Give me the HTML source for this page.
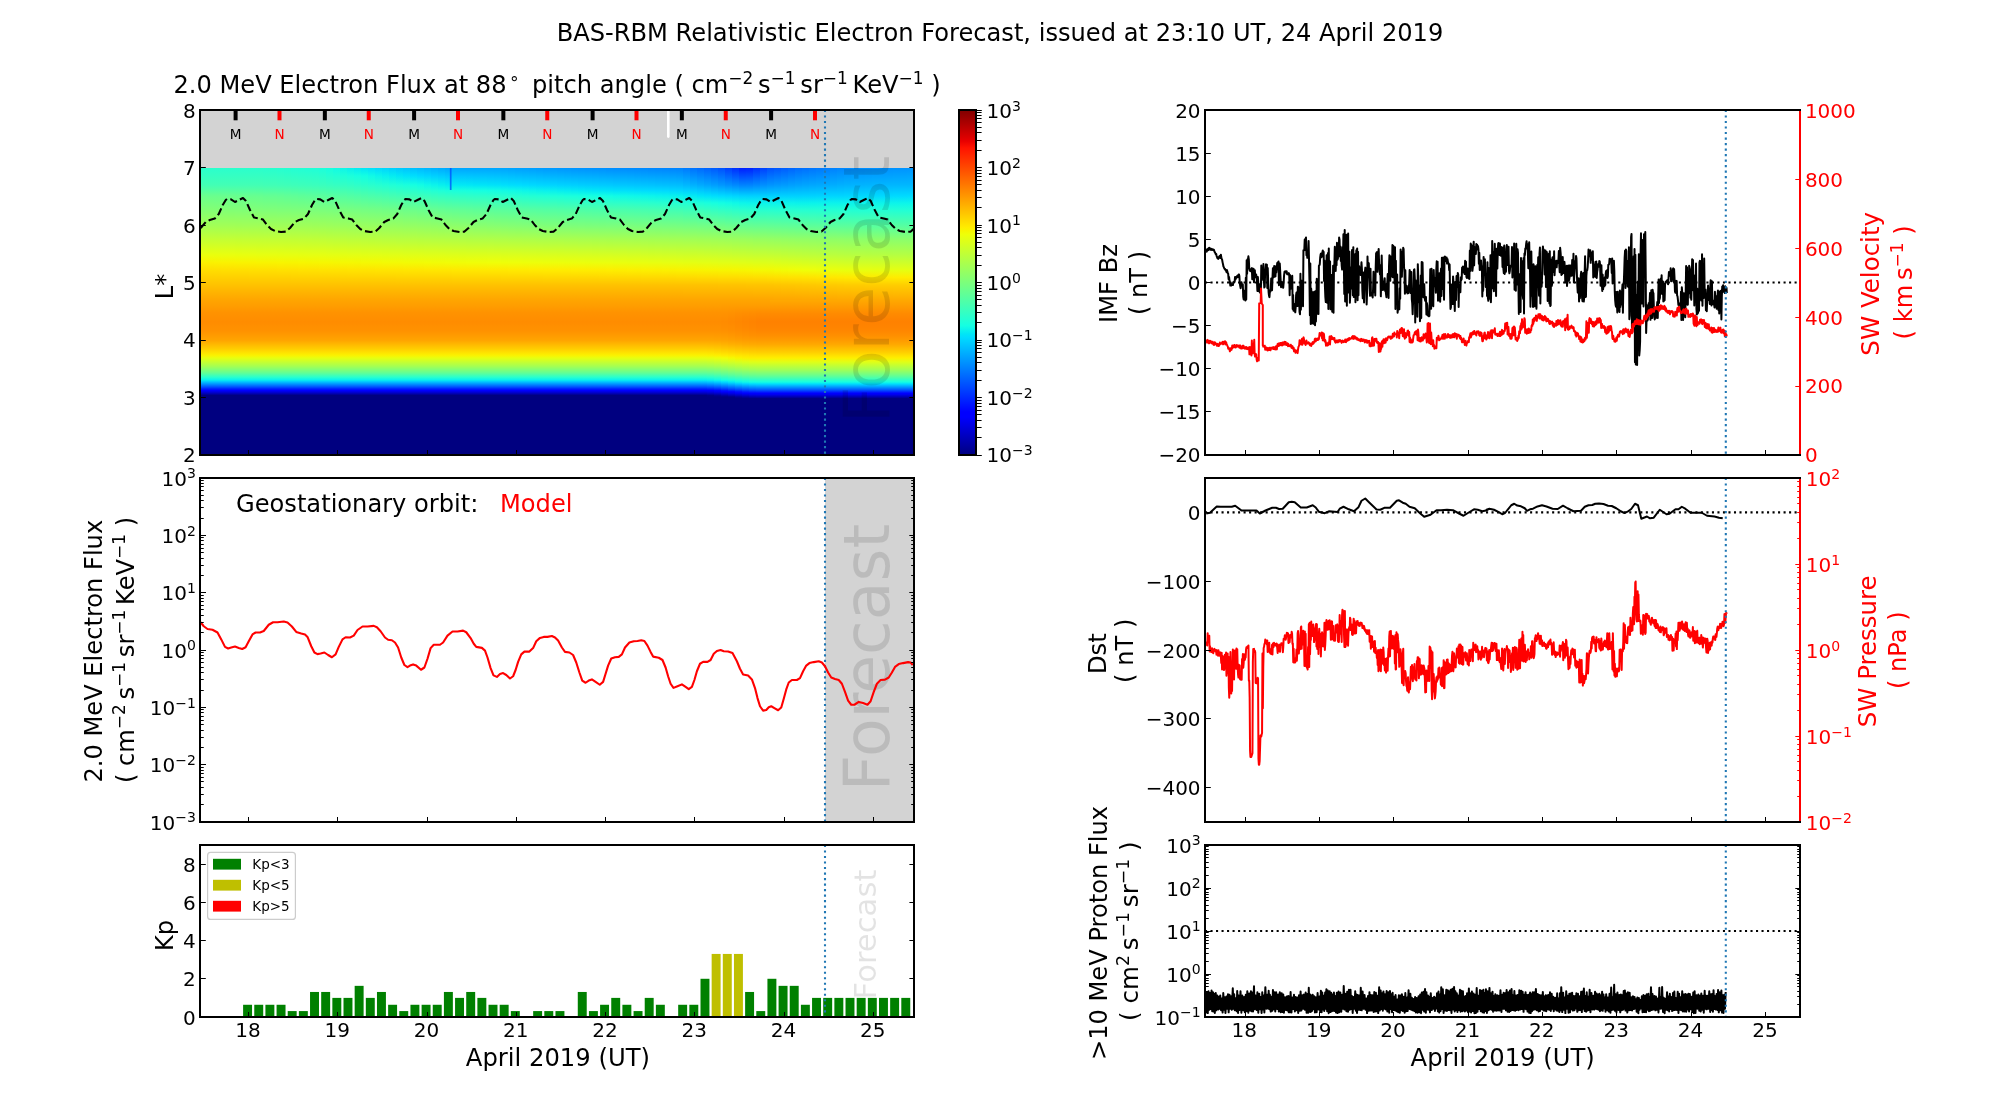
<!DOCTYPE html>
<html lang="en"><head><meta charset="utf-8"><title>BAS-RBM Relativistic Electron Forecast</title>
<style>html,body{margin:0;padding:0;background:#fff}body{width:2000px;height:1100px;overflow:hidden}svg{display:block;will-change:transform}text{font-family:'DejaVu Sans','Liberation Sans',sans-serif}</style>
</head><body>
<svg width="2000" height="1100" viewBox="0 0 2000 1100">
<rect width="2000" height="1100" fill="#fff"/>
<text x="1000" y="41" font-size="24.15" text-anchor="middle" fill="#000">BAS-RBM Relativistic Electron Forecast, issued at 23:10 UT, 24 April 2019</text>
<rect x="200" y="110" width="714" height="345" fill="#d3d3d3"/>
<defs>
<linearGradient id="cb" x1="0" y1="1" x2="0" y2="0"><stop offset="0" stop-color="#000080"/><stop offset="0.11" stop-color="#0000ff"/><stop offset="0.125" stop-color="#0000ff"/><stop offset="0.34" stop-color="#00dbff"/><stop offset="0.35" stop-color="#00e5f7"/><stop offset="0.375" stop-color="#15ffe2"/><stop offset="0.64" stop-color="#efff08"/><stop offset="0.65" stop-color="#f7f600"/><stop offset="0.66" stop-color="#ffec00"/><stop offset="0.89" stop-color="#ff1300"/><stop offset="0.91" stop-color="#e80000"/><stop offset="1" stop-color="#800000"/></linearGradient>
<linearGradient id="u0" x1="0" y1="0" x2="0" y2="1"><stop offset="0" stop-color="#29ffce"/><stop offset="0.064" stop-color="#35ffc2"/><stop offset="0.132" stop-color="#42ffb5"/><stop offset="0.174" stop-color="#56ffa1"/><stop offset="0.215" stop-color="#6bff8c"/><stop offset="0.268" stop-color="#77ff80"/><stop offset="0.321" stop-color="#83ff73"/><stop offset="0.377" stop-color="#92ff65"/><stop offset="0.434" stop-color="#a0ff56"/><stop offset="0.491" stop-color="#b3ff44"/><stop offset="0.547" stop-color="#c5ff31"/><stop offset="0.604" stop-color="#d8ff1f"/><stop offset="0.66" stop-color="#eaff0d"/><stop offset="0.717" stop-color="#fbf100"/><stop offset="0.774" stop-color="#ffde00"/><stop offset="0.83" stop-color="#ffd000"/><stop offset="0.887" stop-color="#ffc200"/><stop offset="0.943" stop-color="#ffb300"/><stop offset="1" stop-color="#ffa500"/></linearGradient>
<linearGradient id="u1" x1="0" y1="0" x2="0" y2="1"><stop offset="0" stop-color="#29ffce"/><stop offset="0.064" stop-color="#35ffc2"/><stop offset="0.132" stop-color="#42ffb5"/><stop offset="0.174" stop-color="#56ffa1"/><stop offset="0.215" stop-color="#6aff8d"/><stop offset="0.268" stop-color="#77ff80"/><stop offset="0.321" stop-color="#83ff74"/><stop offset="0.377" stop-color="#92ff65"/><stop offset="0.434" stop-color="#a0ff57"/><stop offset="0.491" stop-color="#b3ff44"/><stop offset="0.547" stop-color="#c5ff32"/><stop offset="0.604" stop-color="#d7ff1f"/><stop offset="0.66" stop-color="#eaff0d"/><stop offset="0.717" stop-color="#faf100"/><stop offset="0.774" stop-color="#ffde00"/><stop offset="0.83" stop-color="#ffd000"/><stop offset="0.887" stop-color="#ffc200"/><stop offset="0.943" stop-color="#ffb300"/><stop offset="1" stop-color="#ffa500"/></linearGradient>
<linearGradient id="u2" x1="0" y1="0" x2="0" y2="1"><stop offset="0" stop-color="#29ffce"/><stop offset="0.064" stop-color="#35ffc2"/><stop offset="0.132" stop-color="#42ffb5"/><stop offset="0.174" stop-color="#56ffa1"/><stop offset="0.215" stop-color="#6aff8d"/><stop offset="0.268" stop-color="#76ff81"/><stop offset="0.321" stop-color="#82ff74"/><stop offset="0.377" stop-color="#91ff66"/><stop offset="0.434" stop-color="#a0ff57"/><stop offset="0.491" stop-color="#b2ff44"/><stop offset="0.547" stop-color="#c5ff32"/><stop offset="0.604" stop-color="#d7ff20"/><stop offset="0.66" stop-color="#e9ff0d"/><stop offset="0.717" stop-color="#faf200"/><stop offset="0.774" stop-color="#ffde00"/><stop offset="0.83" stop-color="#ffd000"/><stop offset="0.887" stop-color="#ffc200"/><stop offset="0.943" stop-color="#ffb300"/><stop offset="1" stop-color="#ffa500"/></linearGradient>
<linearGradient id="u3" x1="0" y1="0" x2="0" y2="1"><stop offset="0" stop-color="#29ffce"/><stop offset="0.064" stop-color="#35ffc2"/><stop offset="0.132" stop-color="#42ffb5"/><stop offset="0.174" stop-color="#56ffa1"/><stop offset="0.215" stop-color="#69ff8e"/><stop offset="0.268" stop-color="#76ff81"/><stop offset="0.321" stop-color="#82ff75"/><stop offset="0.377" stop-color="#91ff66"/><stop offset="0.434" stop-color="#a0ff57"/><stop offset="0.491" stop-color="#b2ff45"/><stop offset="0.547" stop-color="#c5ff32"/><stop offset="0.604" stop-color="#d7ff20"/><stop offset="0.66" stop-color="#e9ff0e"/><stop offset="0.717" stop-color="#faf200"/><stop offset="0.774" stop-color="#ffdf00"/><stop offset="0.83" stop-color="#ffd000"/><stop offset="0.887" stop-color="#ffc200"/><stop offset="0.943" stop-color="#ffb300"/><stop offset="1" stop-color="#ffa500"/></linearGradient>
<linearGradient id="u4" x1="0" y1="0" x2="0" y2="1"><stop offset="0" stop-color="#29ffce"/><stop offset="0.064" stop-color="#35ffc2"/><stop offset="0.132" stop-color="#42ffb5"/><stop offset="0.174" stop-color="#55ffa1"/><stop offset="0.215" stop-color="#69ff8e"/><stop offset="0.268" stop-color="#75ff82"/><stop offset="0.321" stop-color="#81ff75"/><stop offset="0.377" stop-color="#90ff66"/><stop offset="0.434" stop-color="#a0ff57"/><stop offset="0.491" stop-color="#b2ff45"/><stop offset="0.547" stop-color="#c5ff32"/><stop offset="0.604" stop-color="#d7ff20"/><stop offset="0.66" stop-color="#e9ff0e"/><stop offset="0.717" stop-color="#faf200"/><stop offset="0.774" stop-color="#ffdf00"/><stop offset="0.83" stop-color="#ffd000"/><stop offset="0.887" stop-color="#ffc200"/><stop offset="0.943" stop-color="#ffb300"/><stop offset="1" stop-color="#ffa500"/></linearGradient>
<linearGradient id="u5" x1="0" y1="0" x2="0" y2="1"><stop offset="0" stop-color="#29ffce"/><stop offset="0.064" stop-color="#35ffc2"/><stop offset="0.132" stop-color="#42ffb5"/><stop offset="0.174" stop-color="#55ffa2"/><stop offset="0.215" stop-color="#68ff8e"/><stop offset="0.268" stop-color="#75ff82"/><stop offset="0.321" stop-color="#81ff76"/><stop offset="0.377" stop-color="#90ff67"/><stop offset="0.434" stop-color="#9fff57"/><stop offset="0.491" stop-color="#b2ff45"/><stop offset="0.547" stop-color="#c4ff32"/><stop offset="0.604" stop-color="#d6ff20"/><stop offset="0.66" stop-color="#e8ff0e"/><stop offset="0.717" stop-color="#f9f300"/><stop offset="0.774" stop-color="#ffdf00"/><stop offset="0.83" stop-color="#ffd000"/><stop offset="0.887" stop-color="#ffc200"/><stop offset="0.943" stop-color="#ffb300"/><stop offset="1" stop-color="#ffa500"/></linearGradient>
<linearGradient id="u6" x1="0" y1="0" x2="0" y2="1"><stop offset="0" stop-color="#29ffce"/><stop offset="0.064" stop-color="#35ffc2"/><stop offset="0.132" stop-color="#42ffb5"/><stop offset="0.174" stop-color="#55ffa2"/><stop offset="0.215" stop-color="#68ff8f"/><stop offset="0.268" stop-color="#74ff83"/><stop offset="0.321" stop-color="#80ff76"/><stop offset="0.377" stop-color="#90ff67"/><stop offset="0.434" stop-color="#9fff58"/><stop offset="0.491" stop-color="#b2ff45"/><stop offset="0.547" stop-color="#c4ff33"/><stop offset="0.604" stop-color="#d6ff21"/><stop offset="0.66" stop-color="#e8ff0f"/><stop offset="0.717" stop-color="#f9f300"/><stop offset="0.774" stop-color="#ffdf00"/><stop offset="0.83" stop-color="#ffd000"/><stop offset="0.887" stop-color="#ffc200"/><stop offset="0.943" stop-color="#ffb300"/><stop offset="1" stop-color="#ffa500"/></linearGradient>
<linearGradient id="u7" x1="0" y1="0" x2="0" y2="1"><stop offset="0" stop-color="#29ffce"/><stop offset="0.064" stop-color="#35ffc2"/><stop offset="0.132" stop-color="#42ffb5"/><stop offset="0.174" stop-color="#55ffa2"/><stop offset="0.215" stop-color="#67ff8f"/><stop offset="0.268" stop-color="#74ff83"/><stop offset="0.321" stop-color="#80ff77"/><stop offset="0.377" stop-color="#8fff67"/><stop offset="0.434" stop-color="#9fff58"/><stop offset="0.491" stop-color="#b1ff45"/><stop offset="0.547" stop-color="#c4ff33"/><stop offset="0.604" stop-color="#d6ff21"/><stop offset="0.66" stop-color="#e8ff0f"/><stop offset="0.717" stop-color="#f9f300"/><stop offset="0.774" stop-color="#ffe000"/><stop offset="0.83" stop-color="#ffd100"/><stop offset="0.887" stop-color="#ffc200"/><stop offset="0.943" stop-color="#ffb300"/><stop offset="1" stop-color="#ffa500"/></linearGradient>
<linearGradient id="u8" x1="0" y1="0" x2="0" y2="1"><stop offset="0" stop-color="#29ffce"/><stop offset="0.064" stop-color="#35ffc2"/><stop offset="0.132" stop-color="#42ffb5"/><stop offset="0.174" stop-color="#54ffa2"/><stop offset="0.215" stop-color="#67ff90"/><stop offset="0.268" stop-color="#73ff84"/><stop offset="0.321" stop-color="#80ff77"/><stop offset="0.377" stop-color="#8fff68"/><stop offset="0.434" stop-color="#9fff58"/><stop offset="0.491" stop-color="#b1ff45"/><stop offset="0.547" stop-color="#c4ff33"/><stop offset="0.604" stop-color="#d5ff21"/><stop offset="0.66" stop-color="#e7ff10"/><stop offset="0.717" stop-color="#f8f400"/><stop offset="0.774" stop-color="#ffe000"/><stop offset="0.83" stop-color="#ffd100"/><stop offset="0.887" stop-color="#ffc200"/><stop offset="0.943" stop-color="#ffb300"/><stop offset="1" stop-color="#ffa500"/></linearGradient>
<linearGradient id="u9" x1="0" y1="0" x2="0" y2="1"><stop offset="0" stop-color="#28ffcf"/><stop offset="0.064" stop-color="#34ffc3"/><stop offset="0.132" stop-color="#41ffb6"/><stop offset="0.174" stop-color="#53ffa4"/><stop offset="0.215" stop-color="#65ff91"/><stop offset="0.268" stop-color="#72ff85"/><stop offset="0.321" stop-color="#7fff78"/><stop offset="0.377" stop-color="#8fff68"/><stop offset="0.434" stop-color="#9eff58"/><stop offset="0.491" stop-color="#b1ff46"/><stop offset="0.547" stop-color="#c4ff33"/><stop offset="0.604" stop-color="#d5ff22"/><stop offset="0.66" stop-color="#e7ff10"/><stop offset="0.717" stop-color="#f8f400"/><stop offset="0.774" stop-color="#ffe000"/><stop offset="0.83" stop-color="#ffd100"/><stop offset="0.887" stop-color="#ffc200"/><stop offset="0.943" stop-color="#ffb300"/><stop offset="1" stop-color="#ffa500"/></linearGradient>
<linearGradient id="u10" x1="0" y1="0" x2="0" y2="1"><stop offset="0" stop-color="#26ffd0"/><stop offset="0.064" stop-color="#33ffc4"/><stop offset="0.132" stop-color="#40ffb7"/><stop offset="0.174" stop-color="#52ffa5"/><stop offset="0.215" stop-color="#64ff93"/><stop offset="0.268" stop-color="#71ff85"/><stop offset="0.321" stop-color="#7fff78"/><stop offset="0.377" stop-color="#8eff68"/><stop offset="0.434" stop-color="#9eff59"/><stop offset="0.491" stop-color="#b1ff46"/><stop offset="0.547" stop-color="#c3ff34"/><stop offset="0.604" stop-color="#d5ff22"/><stop offset="0.66" stop-color="#e7ff10"/><stop offset="0.717" stop-color="#f8f400"/><stop offset="0.774" stop-color="#ffe000"/><stop offset="0.83" stop-color="#ffd100"/><stop offset="0.887" stop-color="#ffc200"/><stop offset="0.943" stop-color="#ffb300"/><stop offset="1" stop-color="#ffa500"/></linearGradient>
<linearGradient id="u11" x1="0" y1="0" x2="0" y2="1"><stop offset="0" stop-color="#25ffd2"/><stop offset="0.064" stop-color="#32ffc5"/><stop offset="0.132" stop-color="#3fffb8"/><stop offset="0.174" stop-color="#51ffa6"/><stop offset="0.215" stop-color="#63ff94"/><stop offset="0.268" stop-color="#70ff86"/><stop offset="0.321" stop-color="#7eff79"/><stop offset="0.377" stop-color="#8eff69"/><stop offset="0.434" stop-color="#9eff59"/><stop offset="0.491" stop-color="#b0ff46"/><stop offset="0.547" stop-color="#c3ff34"/><stop offset="0.604" stop-color="#d5ff22"/><stop offset="0.66" stop-color="#e6ff10"/><stop offset="0.717" stop-color="#f8f500"/><stop offset="0.774" stop-color="#ffe100"/><stop offset="0.83" stop-color="#ffd100"/><stop offset="0.887" stop-color="#ffc200"/><stop offset="0.943" stop-color="#ffb300"/><stop offset="1" stop-color="#ffa500"/></linearGradient>
<linearGradient id="u12" x1="0" y1="0" x2="0" y2="1"><stop offset="0" stop-color="#23ffd3"/><stop offset="0.064" stop-color="#30ffc6"/><stop offset="0.132" stop-color="#3effb9"/><stop offset="0.174" stop-color="#50ffa7"/><stop offset="0.215" stop-color="#61ff96"/><stop offset="0.268" stop-color="#6fff87"/><stop offset="0.321" stop-color="#7eff79"/><stop offset="0.377" stop-color="#8eff69"/><stop offset="0.434" stop-color="#9eff59"/><stop offset="0.491" stop-color="#b0ff47"/><stop offset="0.547" stop-color="#c3ff34"/><stop offset="0.604" stop-color="#d4ff22"/><stop offset="0.66" stop-color="#e6ff11"/><stop offset="0.717" stop-color="#f7f500"/><stop offset="0.774" stop-color="#ffe100"/><stop offset="0.83" stop-color="#ffd100"/><stop offset="0.887" stop-color="#ffc200"/><stop offset="0.943" stop-color="#ffb300"/><stop offset="1" stop-color="#ffa500"/></linearGradient>
<linearGradient id="u13" x1="0" y1="0" x2="0" y2="1"><stop offset="0" stop-color="#22ffd5"/><stop offset="0.064" stop-color="#2fffc8"/><stop offset="0.132" stop-color="#3dffba"/><stop offset="0.174" stop-color="#4effa8"/><stop offset="0.215" stop-color="#60ff97"/><stop offset="0.268" stop-color="#6eff88"/><stop offset="0.321" stop-color="#7dff7a"/><stop offset="0.377" stop-color="#8dff6a"/><stop offset="0.434" stop-color="#9dff59"/><stop offset="0.491" stop-color="#b0ff47"/><stop offset="0.547" stop-color="#c2ff34"/><stop offset="0.604" stop-color="#d4ff23"/><stop offset="0.66" stop-color="#e6ff11"/><stop offset="0.717" stop-color="#f7f500"/><stop offset="0.774" stop-color="#ffe100"/><stop offset="0.83" stop-color="#ffd200"/><stop offset="0.887" stop-color="#ffc200"/><stop offset="0.943" stop-color="#ffb300"/><stop offset="1" stop-color="#ffa500"/></linearGradient>
<linearGradient id="u14" x1="0" y1="0" x2="0" y2="1"><stop offset="0" stop-color="#21ffd6"/><stop offset="0.064" stop-color="#2effc9"/><stop offset="0.132" stop-color="#3cffbb"/><stop offset="0.174" stop-color="#4dffaa"/><stop offset="0.215" stop-color="#5eff98"/><stop offset="0.268" stop-color="#6dff89"/><stop offset="0.321" stop-color="#7dff7a"/><stop offset="0.377" stop-color="#8dff6a"/><stop offset="0.434" stop-color="#9dff5a"/><stop offset="0.491" stop-color="#b0ff47"/><stop offset="0.547" stop-color="#c2ff35"/><stop offset="0.604" stop-color="#d4ff23"/><stop offset="0.66" stop-color="#e5ff11"/><stop offset="0.717" stop-color="#f7f600"/><stop offset="0.774" stop-color="#ffe200"/><stop offset="0.83" stop-color="#ffd200"/><stop offset="0.887" stop-color="#ffc200"/><stop offset="0.943" stop-color="#ffb300"/><stop offset="1" stop-color="#ffa500"/></linearGradient>
<linearGradient id="u15" x1="0" y1="0" x2="0" y2="1"><stop offset="0" stop-color="#1fffd8"/><stop offset="0.064" stop-color="#2dffca"/><stop offset="0.132" stop-color="#3bffbc"/><stop offset="0.174" stop-color="#4cffab"/><stop offset="0.215" stop-color="#5dff9a"/><stop offset="0.268" stop-color="#6dff8a"/><stop offset="0.321" stop-color="#7cff7b"/><stop offset="0.377" stop-color="#8cff6a"/><stop offset="0.434" stop-color="#9dff5a"/><stop offset="0.491" stop-color="#afff48"/><stop offset="0.547" stop-color="#c2ff35"/><stop offset="0.604" stop-color="#d3ff23"/><stop offset="0.66" stop-color="#e5ff12"/><stop offset="0.717" stop-color="#f6f600"/><stop offset="0.774" stop-color="#ffe200"/><stop offset="0.83" stop-color="#ffd200"/><stop offset="0.887" stop-color="#ffc200"/><stop offset="0.943" stop-color="#ffb300"/><stop offset="1" stop-color="#ffa500"/></linearGradient>
<linearGradient id="u16" x1="0" y1="0" x2="0" y2="1"><stop offset="0" stop-color="#1effd9"/><stop offset="0.064" stop-color="#2cffcb"/><stop offset="0.132" stop-color="#3affbd"/><stop offset="0.174" stop-color="#4bffac"/><stop offset="0.215" stop-color="#5bff9b"/><stop offset="0.268" stop-color="#6cff8b"/><stop offset="0.321" stop-color="#7cff7b"/><stop offset="0.377" stop-color="#8cff6b"/><stop offset="0.434" stop-color="#9cff5a"/><stop offset="0.491" stop-color="#afff48"/><stop offset="0.547" stop-color="#c1ff35"/><stop offset="0.604" stop-color="#d3ff24"/><stop offset="0.66" stop-color="#e5ff12"/><stop offset="0.717" stop-color="#f6f601"/><stop offset="0.774" stop-color="#ffe200"/><stop offset="0.83" stop-color="#ffd200"/><stop offset="0.887" stop-color="#ffc200"/><stop offset="0.943" stop-color="#ffb300"/><stop offset="1" stop-color="#ffa500"/></linearGradient>
<linearGradient id="u17" x1="0" y1="0" x2="0" y2="1"><stop offset="0" stop-color="#1bffdc"/><stop offset="0.064" stop-color="#2affcd"/><stop offset="0.132" stop-color="#39ffbe"/><stop offset="0.174" stop-color="#49ffad"/><stop offset="0.215" stop-color="#5aff9d"/><stop offset="0.268" stop-color="#6aff8c"/><stop offset="0.321" stop-color="#7bff7c"/><stop offset="0.377" stop-color="#8bff6b"/><stop offset="0.434" stop-color="#9cff5b"/><stop offset="0.491" stop-color="#aeff48"/><stop offset="0.547" stop-color="#c1ff36"/><stop offset="0.604" stop-color="#d3ff24"/><stop offset="0.66" stop-color="#e5ff12"/><stop offset="0.717" stop-color="#f6f701"/><stop offset="0.774" stop-color="#ffe300"/><stop offset="0.83" stop-color="#ffd200"/><stop offset="0.887" stop-color="#ffc200"/><stop offset="0.943" stop-color="#ffb300"/><stop offset="1" stop-color="#ffa500"/></linearGradient>
<linearGradient id="u18" x1="0" y1="0" x2="0" y2="1"><stop offset="0" stop-color="#16ffe0"/><stop offset="0.064" stop-color="#26ffd1"/><stop offset="0.132" stop-color="#37ffc0"/><stop offset="0.174" stop-color="#47ffaf"/><stop offset="0.215" stop-color="#58ff9f"/><stop offset="0.268" stop-color="#69ff8e"/><stop offset="0.321" stop-color="#7aff7d"/><stop offset="0.377" stop-color="#8bff6c"/><stop offset="0.434" stop-color="#9bff5c"/><stop offset="0.491" stop-color="#adff49"/><stop offset="0.547" stop-color="#c0ff37"/><stop offset="0.604" stop-color="#d2ff25"/><stop offset="0.66" stop-color="#e4ff13"/><stop offset="0.717" stop-color="#f6f701"/><stop offset="0.774" stop-color="#ffe300"/><stop offset="0.83" stop-color="#ffd200"/><stop offset="0.887" stop-color="#ffc200"/><stop offset="0.943" stop-color="#ffb300"/><stop offset="1" stop-color="#ffa500"/></linearGradient>
<linearGradient id="u19" x1="0" y1="0" x2="0" y2="1"><stop offset="0" stop-color="#11fbe5"/><stop offset="0.064" stop-color="#23ffd4"/><stop offset="0.132" stop-color="#35ffc2"/><stop offset="0.174" stop-color="#46ffb1"/><stop offset="0.215" stop-color="#56ffa1"/><stop offset="0.268" stop-color="#68ff8f"/><stop offset="0.321" stop-color="#79ff7e"/><stop offset="0.377" stop-color="#8aff6d"/><stop offset="0.434" stop-color="#9aff5d"/><stop offset="0.491" stop-color="#adff4a"/><stop offset="0.547" stop-color="#bfff38"/><stop offset="0.604" stop-color="#d1ff25"/><stop offset="0.66" stop-color="#e4ff13"/><stop offset="0.717" stop-color="#f5f702"/><stop offset="0.774" stop-color="#ffe300"/><stop offset="0.83" stop-color="#ffd200"/><stop offset="0.887" stop-color="#ffc200"/><stop offset="0.943" stop-color="#ffb300"/><stop offset="1" stop-color="#ffa500"/></linearGradient>
<linearGradient id="u20" x1="0" y1="0" x2="0" y2="1"><stop offset="0" stop-color="#0df5ea"/><stop offset="0.064" stop-color="#1fffd7"/><stop offset="0.132" stop-color="#33ffc4"/><stop offset="0.174" stop-color="#44ffb3"/><stop offset="0.215" stop-color="#54ffa3"/><stop offset="0.268" stop-color="#66ff91"/><stop offset="0.321" stop-color="#78ff7f"/><stop offset="0.377" stop-color="#89ff6e"/><stop offset="0.434" stop-color="#99ff5e"/><stop offset="0.491" stop-color="#acff4b"/><stop offset="0.547" stop-color="#beff39"/><stop offset="0.604" stop-color="#d1ff26"/><stop offset="0.66" stop-color="#e3ff13"/><stop offset="0.717" stop-color="#f5f802"/><stop offset="0.774" stop-color="#ffe300"/><stop offset="0.83" stop-color="#ffd300"/><stop offset="0.887" stop-color="#ffc200"/><stop offset="0.943" stop-color="#ffb300"/><stop offset="1" stop-color="#ffa500"/></linearGradient>
<linearGradient id="u21" x1="0" y1="0" x2="0" y2="1"><stop offset="0" stop-color="#08efef"/><stop offset="0.064" stop-color="#1cffdb"/><stop offset="0.132" stop-color="#31ffc6"/><stop offset="0.174" stop-color="#42ffb5"/><stop offset="0.215" stop-color="#52ffa5"/><stop offset="0.268" stop-color="#65ff92"/><stop offset="0.321" stop-color="#77ff80"/><stop offset="0.377" stop-color="#88ff6f"/><stop offset="0.434" stop-color="#98ff5f"/><stop offset="0.491" stop-color="#abff4c"/><stop offset="0.547" stop-color="#bdff3a"/><stop offset="0.604" stop-color="#d0ff27"/><stop offset="0.66" stop-color="#e3ff14"/><stop offset="0.717" stop-color="#f5f802"/><stop offset="0.774" stop-color="#ffe400"/><stop offset="0.83" stop-color="#ffd300"/><stop offset="0.887" stop-color="#ffc200"/><stop offset="0.943" stop-color="#ffb300"/><stop offset="1" stop-color="#ffa500"/></linearGradient>
<linearGradient id="u22" x1="0" y1="0" x2="0" y2="1"><stop offset="0" stop-color="#03eaf3"/><stop offset="0.064" stop-color="#18ffdf"/><stop offset="0.132" stop-color="#2effc9"/><stop offset="0.174" stop-color="#3fffb8"/><stop offset="0.215" stop-color="#50ffa7"/><stop offset="0.268" stop-color="#63ff94"/><stop offset="0.321" stop-color="#76ff81"/><stop offset="0.377" stop-color="#87ff70"/><stop offset="0.434" stop-color="#98ff5f"/><stop offset="0.491" stop-color="#aaff4d"/><stop offset="0.547" stop-color="#bdff3a"/><stop offset="0.604" stop-color="#d0ff27"/><stop offset="0.66" stop-color="#e3ff14"/><stop offset="0.717" stop-color="#f4f802"/><stop offset="0.774" stop-color="#ffe400"/><stop offset="0.83" stop-color="#ffd300"/><stop offset="0.887" stop-color="#ffc200"/><stop offset="0.943" stop-color="#ffb300"/><stop offset="1" stop-color="#ffa500"/></linearGradient>
<linearGradient id="u23" x1="0" y1="0" x2="0" y2="1"><stop offset="0" stop-color="#00e4f8"/><stop offset="0.064" stop-color="#14ffe2"/><stop offset="0.132" stop-color="#2bffcb"/><stop offset="0.174" stop-color="#3cffba"/><stop offset="0.215" stop-color="#4dffa9"/><stop offset="0.268" stop-color="#61ff96"/><stop offset="0.321" stop-color="#75ff82"/><stop offset="0.377" stop-color="#86ff71"/><stop offset="0.434" stop-color="#97ff60"/><stop offset="0.491" stop-color="#a9ff4d"/><stop offset="0.547" stop-color="#bcff3b"/><stop offset="0.604" stop-color="#cfff28"/><stop offset="0.66" stop-color="#e2ff14"/><stop offset="0.717" stop-color="#f4f903"/><stop offset="0.774" stop-color="#ffe400"/><stop offset="0.83" stop-color="#ffd300"/><stop offset="0.887" stop-color="#ffc200"/><stop offset="0.943" stop-color="#ffb300"/><stop offset="1" stop-color="#ffa500"/></linearGradient>
<linearGradient id="u24" x1="0" y1="0" x2="0" y2="1"><stop offset="0" stop-color="#00defd"/><stop offset="0.064" stop-color="#11fae6"/><stop offset="0.132" stop-color="#29ffce"/><stop offset="0.174" stop-color="#3affbd"/><stop offset="0.215" stop-color="#4bffac"/><stop offset="0.268" stop-color="#5fff97"/><stop offset="0.321" stop-color="#74ff83"/><stop offset="0.377" stop-color="#85ff72"/><stop offset="0.434" stop-color="#96ff60"/><stop offset="0.491" stop-color="#a9ff4e"/><stop offset="0.547" stop-color="#bbff3b"/><stop offset="0.604" stop-color="#cfff28"/><stop offset="0.66" stop-color="#e2ff15"/><stop offset="0.717" stop-color="#f4f903"/><stop offset="0.774" stop-color="#ffe400"/><stop offset="0.83" stop-color="#ffd300"/><stop offset="0.887" stop-color="#ffc200"/><stop offset="0.943" stop-color="#ffb300"/><stop offset="1" stop-color="#ffa500"/></linearGradient>
<linearGradient id="u25" x1="0" y1="0" x2="0" y2="1"><stop offset="0" stop-color="#00d8ff"/><stop offset="0.064" stop-color="#0df5ea"/><stop offset="0.132" stop-color="#26ffd1"/><stop offset="0.174" stop-color="#37ffc0"/><stop offset="0.215" stop-color="#49ffae"/><stop offset="0.268" stop-color="#5eff99"/><stop offset="0.321" stop-color="#73ff84"/><stop offset="0.377" stop-color="#84ff73"/><stop offset="0.434" stop-color="#96ff61"/><stop offset="0.491" stop-color="#a8ff4e"/><stop offset="0.547" stop-color="#bbff3c"/><stop offset="0.604" stop-color="#ceff29"/><stop offset="0.66" stop-color="#e2ff15"/><stop offset="0.717" stop-color="#f4f903"/><stop offset="0.774" stop-color="#ffe500"/><stop offset="0.83" stop-color="#ffd300"/><stop offset="0.887" stop-color="#ffc200"/><stop offset="0.943" stop-color="#ffb300"/><stop offset="1" stop-color="#ffa500"/></linearGradient>
<linearGradient id="u26" x1="0" y1="0" x2="0" y2="1"><stop offset="0" stop-color="#00d3ff"/><stop offset="0.064" stop-color="#09f1ee"/><stop offset="0.132" stop-color="#23ffd4"/><stop offset="0.174" stop-color="#35ffc2"/><stop offset="0.215" stop-color="#47ffb0"/><stop offset="0.268" stop-color="#5cff9b"/><stop offset="0.321" stop-color="#71ff85"/><stop offset="0.377" stop-color="#83ff73"/><stop offset="0.434" stop-color="#95ff62"/><stop offset="0.491" stop-color="#a8ff4f"/><stop offset="0.547" stop-color="#baff3d"/><stop offset="0.604" stop-color="#ceff29"/><stop offset="0.66" stop-color="#e1ff15"/><stop offset="0.717" stop-color="#f3fa04"/><stop offset="0.774" stop-color="#ffe500"/><stop offset="0.83" stop-color="#ffd300"/><stop offset="0.887" stop-color="#ffc200"/><stop offset="0.943" stop-color="#ffb300"/><stop offset="1" stop-color="#ffa500"/></linearGradient>
<linearGradient id="u27" x1="0" y1="0" x2="0" y2="1"><stop offset="0" stop-color="#00cdff"/><stop offset="0.064" stop-color="#05ecf1"/><stop offset="0.132" stop-color="#20ffd7"/><stop offset="0.174" stop-color="#32ffc5"/><stop offset="0.215" stop-color="#44ffb3"/><stop offset="0.268" stop-color="#5aff9c"/><stop offset="0.321" stop-color="#70ff86"/><stop offset="0.377" stop-color="#82ff74"/><stop offset="0.434" stop-color="#95ff62"/><stop offset="0.491" stop-color="#a7ff50"/><stop offset="0.547" stop-color="#baff3d"/><stop offset="0.604" stop-color="#cdff29"/><stop offset="0.66" stop-color="#e1ff16"/><stop offset="0.717" stop-color="#f3fa04"/><stop offset="0.774" stop-color="#ffe500"/><stop offset="0.83" stop-color="#ffd300"/><stop offset="0.887" stop-color="#ffc200"/><stop offset="0.943" stop-color="#ffb300"/><stop offset="1" stop-color="#ffa500"/></linearGradient>
<linearGradient id="u28" x1="0" y1="0" x2="0" y2="1"><stop offset="0" stop-color="#00c7ff"/><stop offset="0.064" stop-color="#02e7f5"/><stop offset="0.132" stop-color="#1dffda"/><stop offset="0.174" stop-color="#2fffc7"/><stop offset="0.215" stop-color="#42ffb5"/><stop offset="0.268" stop-color="#59ff9e"/><stop offset="0.321" stop-color="#6fff88"/><stop offset="0.377" stop-color="#82ff75"/><stop offset="0.434" stop-color="#94ff63"/><stop offset="0.491" stop-color="#a7ff50"/><stop offset="0.547" stop-color="#b9ff3e"/><stop offset="0.604" stop-color="#cdff2a"/><stop offset="0.66" stop-color="#e1ff16"/><stop offset="0.717" stop-color="#f3fa04"/><stop offset="0.774" stop-color="#ffe500"/><stop offset="0.83" stop-color="#ffd400"/><stop offset="0.887" stop-color="#ffc200"/><stop offset="0.943" stop-color="#ffb300"/><stop offset="1" stop-color="#ffa500"/></linearGradient>
<linearGradient id="u29" x1="0" y1="0" x2="0" y2="1"><stop offset="0" stop-color="#00c2ff"/><stop offset="0.064" stop-color="#00e3f9"/><stop offset="0.132" stop-color="#1affdd"/><stop offset="0.174" stop-color="#2dffca"/><stop offset="0.215" stop-color="#40ffb7"/><stop offset="0.268" stop-color="#57ffa0"/><stop offset="0.321" stop-color="#6dff89"/><stop offset="0.377" stop-color="#80ff77"/><stop offset="0.434" stop-color="#93ff64"/><stop offset="0.491" stop-color="#a6ff51"/><stop offset="0.547" stop-color="#b9ff3e"/><stop offset="0.604" stop-color="#ccff2a"/><stop offset="0.66" stop-color="#e0ff17"/><stop offset="0.717" stop-color="#f2fb04"/><stop offset="0.774" stop-color="#ffe600"/><stop offset="0.83" stop-color="#ffd400"/><stop offset="0.887" stop-color="#ffc200"/><stop offset="0.943" stop-color="#ffb300"/><stop offset="1" stop-color="#ffa500"/></linearGradient>
<linearGradient id="u30" x1="0" y1="0" x2="0" y2="1"><stop offset="0" stop-color="#00bdff"/><stop offset="0.064" stop-color="#00defd"/><stop offset="0.132" stop-color="#16ffe1"/><stop offset="0.174" stop-color="#2affcd"/><stop offset="0.215" stop-color="#3dffb9"/><stop offset="0.268" stop-color="#55ffa2"/><stop offset="0.321" stop-color="#6cff8b"/><stop offset="0.377" stop-color="#7fff78"/><stop offset="0.434" stop-color="#92ff65"/><stop offset="0.491" stop-color="#a5ff52"/><stop offset="0.547" stop-color="#b8ff3f"/><stop offset="0.604" stop-color="#ccff2b"/><stop offset="0.66" stop-color="#e0ff17"/><stop offset="0.717" stop-color="#f2fb05"/><stop offset="0.774" stop-color="#ffe600"/><stop offset="0.83" stop-color="#ffd400"/><stop offset="0.887" stop-color="#ffc200"/><stop offset="0.943" stop-color="#ffb300"/><stop offset="1" stop-color="#ffa500"/></linearGradient>
<linearGradient id="u31" x1="0" y1="0" x2="0" y2="1"><stop offset="0" stop-color="#00b8ff"/><stop offset="0.064" stop-color="#00d9ff"/><stop offset="0.132" stop-color="#13fde4"/><stop offset="0.174" stop-color="#27ffd0"/><stop offset="0.215" stop-color="#3bffbc"/><stop offset="0.268" stop-color="#53ffa4"/><stop offset="0.321" stop-color="#6aff8d"/><stop offset="0.377" stop-color="#7dff79"/><stop offset="0.434" stop-color="#91ff66"/><stop offset="0.491" stop-color="#a4ff53"/><stop offset="0.547" stop-color="#b7ff3f"/><stop offset="0.604" stop-color="#cbff2b"/><stop offset="0.66" stop-color="#e0ff17"/><stop offset="0.717" stop-color="#f2fb05"/><stop offset="0.774" stop-color="#ffe600"/><stop offset="0.83" stop-color="#ffd400"/><stop offset="0.887" stop-color="#ffc200"/><stop offset="0.943" stop-color="#ffb300"/><stop offset="1" stop-color="#ffa500"/></linearGradient>
<linearGradient id="u32" x1="0" y1="0" x2="0" y2="1"><stop offset="0" stop-color="#00b3ff"/><stop offset="0.064" stop-color="#00d5ff"/><stop offset="0.132" stop-color="#0ff8e8"/><stop offset="0.174" stop-color="#24ffd3"/><stop offset="0.215" stop-color="#39ffbe"/><stop offset="0.268" stop-color="#51ffa6"/><stop offset="0.321" stop-color="#68ff8f"/><stop offset="0.377" stop-color="#7cff7b"/><stop offset="0.434" stop-color="#90ff67"/><stop offset="0.491" stop-color="#a3ff54"/><stop offset="0.547" stop-color="#b7ff40"/><stop offset="0.604" stop-color="#cbff2c"/><stop offset="0.66" stop-color="#dfff18"/><stop offset="0.717" stop-color="#f2fc05"/><stop offset="0.774" stop-color="#ffe700"/><stop offset="0.83" stop-color="#ffd400"/><stop offset="0.887" stop-color="#ffc200"/><stop offset="0.943" stop-color="#ffb300"/><stop offset="1" stop-color="#ffa500"/></linearGradient>
<linearGradient id="u33" x1="0" y1="0" x2="0" y2="1"><stop offset="0" stop-color="#00aeff"/><stop offset="0.064" stop-color="#00d0ff"/><stop offset="0.132" stop-color="#0cf4eb"/><stop offset="0.174" stop-color="#21ffd6"/><stop offset="0.215" stop-color="#36ffc0"/><stop offset="0.268" stop-color="#4effa8"/><stop offset="0.321" stop-color="#67ff90"/><stop offset="0.377" stop-color="#7aff7c"/><stop offset="0.434" stop-color="#8eff68"/><stop offset="0.491" stop-color="#a2ff54"/><stop offset="0.547" stop-color="#b6ff41"/><stop offset="0.604" stop-color="#cbff2c"/><stop offset="0.66" stop-color="#dfff18"/><stop offset="0.717" stop-color="#f1fc06"/><stop offset="0.774" stop-color="#ffe700"/><stop offset="0.83" stop-color="#ffd400"/><stop offset="0.887" stop-color="#ffc200"/><stop offset="0.943" stop-color="#ffb300"/><stop offset="1" stop-color="#ffa500"/></linearGradient>
<linearGradient id="u34" x1="0" y1="0" x2="0" y2="1"><stop offset="0" stop-color="#00a9ff"/><stop offset="0.064" stop-color="#00ccff"/><stop offset="0.132" stop-color="#08f0ee"/><stop offset="0.174" stop-color="#1effd9"/><stop offset="0.215" stop-color="#34ffc3"/><stop offset="0.268" stop-color="#4cffaa"/><stop offset="0.321" stop-color="#65ff92"/><stop offset="0.377" stop-color="#79ff7e"/><stop offset="0.434" stop-color="#8dff6a"/><stop offset="0.491" stop-color="#a1ff55"/><stop offset="0.547" stop-color="#b6ff41"/><stop offset="0.604" stop-color="#caff2d"/><stop offset="0.66" stop-color="#dfff18"/><stop offset="0.717" stop-color="#f1fc06"/><stop offset="0.774" stop-color="#ffe700"/><stop offset="0.83" stop-color="#ffd400"/><stop offset="0.887" stop-color="#ffc200"/><stop offset="0.943" stop-color="#ffb300"/><stop offset="1" stop-color="#ffa500"/></linearGradient>
<linearGradient id="u35" x1="0" y1="0" x2="0" y2="1"><stop offset="0" stop-color="#00a4ff"/><stop offset="0.064" stop-color="#00c7ff"/><stop offset="0.132" stop-color="#05ecf2"/><stop offset="0.174" stop-color="#1bffdb"/><stop offset="0.215" stop-color="#32ffc5"/><stop offset="0.268" stop-color="#4affac"/><stop offset="0.321" stop-color="#63ff94"/><stop offset="0.377" stop-color="#78ff7f"/><stop offset="0.434" stop-color="#8cff6b"/><stop offset="0.491" stop-color="#a1ff56"/><stop offset="0.547" stop-color="#b5ff42"/><stop offset="0.604" stop-color="#caff2d"/><stop offset="0.66" stop-color="#deff19"/><stop offset="0.717" stop-color="#f1fd06"/><stop offset="0.774" stop-color="#ffe700"/><stop offset="0.83" stop-color="#ffd400"/><stop offset="0.887" stop-color="#ffc200"/><stop offset="0.943" stop-color="#ffb300"/><stop offset="1" stop-color="#ffa500"/></linearGradient>
<linearGradient id="u36" x1="0" y1="0" x2="0" y2="1"><stop offset="0" stop-color="#00a3ff"/><stop offset="0.064" stop-color="#00c5ff"/><stop offset="0.132" stop-color="#03e9f4"/><stop offset="0.174" stop-color="#1affdd"/><stop offset="0.215" stop-color="#30ffc6"/><stop offset="0.268" stop-color="#49ffae"/><stop offset="0.321" stop-color="#62ff95"/><stop offset="0.377" stop-color="#76ff80"/><stop offset="0.434" stop-color="#8bff6c"/><stop offset="0.491" stop-color="#a0ff57"/><stop offset="0.547" stop-color="#b5ff42"/><stop offset="0.604" stop-color="#c9ff2e"/><stop offset="0.66" stop-color="#deff19"/><stop offset="0.717" stop-color="#f0fd06"/><stop offset="0.774" stop-color="#ffe800"/><stop offset="0.83" stop-color="#ffd500"/><stop offset="0.887" stop-color="#ffc200"/><stop offset="0.943" stop-color="#ffb300"/><stop offset="1" stop-color="#ffa500"/></linearGradient>
<linearGradient id="u37" x1="0" y1="0" x2="0" y2="1"><stop offset="0" stop-color="#00a3ff"/><stop offset="0.064" stop-color="#00c5ff"/><stop offset="0.132" stop-color="#02e8f5"/><stop offset="0.174" stop-color="#19ffde"/><stop offset="0.215" stop-color="#2fffc7"/><stop offset="0.268" stop-color="#48ffaf"/><stop offset="0.321" stop-color="#61ff96"/><stop offset="0.377" stop-color="#75ff82"/><stop offset="0.434" stop-color="#8aff6d"/><stop offset="0.491" stop-color="#9fff58"/><stop offset="0.547" stop-color="#b4ff43"/><stop offset="0.604" stop-color="#c9ff2e"/><stop offset="0.66" stop-color="#ddff19"/><stop offset="0.717" stop-color="#f0fd07"/><stop offset="0.774" stop-color="#ffe800"/><stop offset="0.83" stop-color="#ffd500"/><stop offset="0.887" stop-color="#ffc200"/><stop offset="0.943" stop-color="#ffb300"/><stop offset="1" stop-color="#ffa500"/></linearGradient>
<linearGradient id="u38" x1="0" y1="0" x2="0" y2="1"><stop offset="0" stop-color="#00a3ff"/><stop offset="0.064" stop-color="#00c4ff"/><stop offset="0.132" stop-color="#01e7f6"/><stop offset="0.174" stop-color="#18ffdf"/><stop offset="0.215" stop-color="#2effc9"/><stop offset="0.268" stop-color="#47ffb0"/><stop offset="0.321" stop-color="#60ff97"/><stop offset="0.377" stop-color="#74ff83"/><stop offset="0.434" stop-color="#89ff6e"/><stop offset="0.491" stop-color="#9eff59"/><stop offset="0.547" stop-color="#b3ff43"/><stop offset="0.604" stop-color="#c8ff2f"/><stop offset="0.66" stop-color="#ddff1a"/><stop offset="0.717" stop-color="#f0fe07"/><stop offset="0.774" stop-color="#ffe800"/><stop offset="0.83" stop-color="#ffd500"/><stop offset="0.887" stop-color="#ffc200"/><stop offset="0.943" stop-color="#ffb300"/><stop offset="1" stop-color="#ffa500"/></linearGradient>
<linearGradient id="u39" x1="0" y1="0" x2="0" y2="1"><stop offset="0" stop-color="#00a3ff"/><stop offset="0.064" stop-color="#00c3ff"/><stop offset="0.132" stop-color="#00e5f7"/><stop offset="0.174" stop-color="#16ffe0"/><stop offset="0.215" stop-color="#2dffca"/><stop offset="0.268" stop-color="#46ffb1"/><stop offset="0.321" stop-color="#5eff98"/><stop offset="0.377" stop-color="#73ff84"/><stop offset="0.434" stop-color="#87ff6f"/><stop offset="0.491" stop-color="#9dff5a"/><stop offset="0.547" stop-color="#b3ff44"/><stop offset="0.604" stop-color="#c8ff2f"/><stop offset="0.66" stop-color="#ddff1a"/><stop offset="0.717" stop-color="#f0fe07"/><stop offset="0.774" stop-color="#ffe800"/><stop offset="0.83" stop-color="#ffd500"/><stop offset="0.887" stop-color="#ffc200"/><stop offset="0.943" stop-color="#ffb300"/><stop offset="1" stop-color="#ffa500"/></linearGradient>
<linearGradient id="u40" x1="0" y1="0" x2="0" y2="1"><stop offset="0" stop-color="#00a3ff"/><stop offset="0.064" stop-color="#00c3ff"/><stop offset="0.132" stop-color="#00e4f8"/><stop offset="0.174" stop-color="#15ffe2"/><stop offset="0.215" stop-color="#2cffcb"/><stop offset="0.268" stop-color="#45ffb2"/><stop offset="0.321" stop-color="#5dff9a"/><stop offset="0.377" stop-color="#72ff85"/><stop offset="0.434" stop-color="#86ff70"/><stop offset="0.491" stop-color="#9cff5b"/><stop offset="0.547" stop-color="#b2ff45"/><stop offset="0.604" stop-color="#c7ff2f"/><stop offset="0.66" stop-color="#dcff1a"/><stop offset="0.717" stop-color="#effe08"/><stop offset="0.774" stop-color="#ffe900"/><stop offset="0.83" stop-color="#ffd500"/><stop offset="0.887" stop-color="#ffc200"/><stop offset="0.943" stop-color="#ffb300"/><stop offset="1" stop-color="#ffa500"/></linearGradient>
<linearGradient id="u41" x1="0" y1="0" x2="0" y2="1"><stop offset="0" stop-color="#00a3ff"/><stop offset="0.064" stop-color="#00c2ff"/><stop offset="0.132" stop-color="#00e2f9"/><stop offset="0.174" stop-color="#14fee3"/><stop offset="0.215" stop-color="#2bffcc"/><stop offset="0.268" stop-color="#43ffb3"/><stop offset="0.321" stop-color="#5cff9b"/><stop offset="0.377" stop-color="#71ff86"/><stop offset="0.434" stop-color="#85ff72"/><stop offset="0.491" stop-color="#9bff5b"/><stop offset="0.547" stop-color="#b2ff45"/><stop offset="0.604" stop-color="#c7ff30"/><stop offset="0.66" stop-color="#dcff1b"/><stop offset="0.717" stop-color="#efff08"/><stop offset="0.774" stop-color="#ffe900"/><stop offset="0.83" stop-color="#ffd500"/><stop offset="0.887" stop-color="#ffc200"/><stop offset="0.943" stop-color="#ffb300"/><stop offset="1" stop-color="#ffa500"/></linearGradient>
<linearGradient id="u42" x1="0" y1="0" x2="0" y2="1"><stop offset="0" stop-color="#00a3ff"/><stop offset="0.064" stop-color="#00c1ff"/><stop offset="0.132" stop-color="#00e1fa"/><stop offset="0.174" stop-color="#13fde4"/><stop offset="0.215" stop-color="#2affcd"/><stop offset="0.268" stop-color="#42ffb5"/><stop offset="0.321" stop-color="#5bff9c"/><stop offset="0.377" stop-color="#6fff87"/><stop offset="0.434" stop-color="#84ff73"/><stop offset="0.491" stop-color="#9bff5c"/><stop offset="0.547" stop-color="#b1ff46"/><stop offset="0.604" stop-color="#c6ff30"/><stop offset="0.66" stop-color="#dcff1b"/><stop offset="0.717" stop-color="#efff08"/><stop offset="0.774" stop-color="#ffe900"/><stop offset="0.83" stop-color="#ffd500"/><stop offset="0.887" stop-color="#ffc200"/><stop offset="0.943" stop-color="#ffb300"/><stop offset="1" stop-color="#ffa500"/></linearGradient>
<linearGradient id="u43" x1="0" y1="0" x2="0" y2="1"><stop offset="0" stop-color="#00a2ff"/><stop offset="0.064" stop-color="#00c0ff"/><stop offset="0.132" stop-color="#00dffc"/><stop offset="0.174" stop-color="#12fbe5"/><stop offset="0.215" stop-color="#28ffcf"/><stop offset="0.268" stop-color="#41ffb6"/><stop offset="0.321" stop-color="#5aff9d"/><stop offset="0.377" stop-color="#6eff88"/><stop offset="0.434" stop-color="#83ff74"/><stop offset="0.491" stop-color="#9aff5d"/><stop offset="0.547" stop-color="#b1ff46"/><stop offset="0.604" stop-color="#c6ff31"/><stop offset="0.66" stop-color="#dbff1b"/><stop offset="0.717" stop-color="#eeff08"/><stop offset="0.774" stop-color="#ffe900"/><stop offset="0.83" stop-color="#ffd600"/><stop offset="0.887" stop-color="#ffc200"/><stop offset="0.943" stop-color="#ffb300"/><stop offset="1" stop-color="#ffa500"/></linearGradient>
<linearGradient id="u44" x1="0" y1="0" x2="0" y2="1"><stop offset="0" stop-color="#00a0ff"/><stop offset="0.064" stop-color="#00beff"/><stop offset="0.132" stop-color="#00ddfd"/><stop offset="0.174" stop-color="#10fae7"/><stop offset="0.215" stop-color="#27ffd0"/><stop offset="0.268" stop-color="#40ffb7"/><stop offset="0.321" stop-color="#59ff9e"/><stop offset="0.377" stop-color="#6dff89"/><stop offset="0.434" stop-color="#82ff75"/><stop offset="0.491" stop-color="#99ff5e"/><stop offset="0.547" stop-color="#b0ff47"/><stop offset="0.604" stop-color="#c6ff31"/><stop offset="0.66" stop-color="#dbff1c"/><stop offset="0.717" stop-color="#eeff09"/><stop offset="0.774" stop-color="#ffea00"/><stop offset="0.83" stop-color="#ffd600"/><stop offset="0.887" stop-color="#ffc200"/><stop offset="0.943" stop-color="#ffb300"/><stop offset="1" stop-color="#ffa500"/></linearGradient>
<linearGradient id="u45" x1="0" y1="0" x2="0" y2="1"><stop offset="0" stop-color="#009eff"/><stop offset="0.064" stop-color="#00bcff"/><stop offset="0.132" stop-color="#00dcff"/><stop offset="0.174" stop-color="#0ff8e8"/><stop offset="0.215" stop-color="#25ffd1"/><stop offset="0.268" stop-color="#3fffb8"/><stop offset="0.321" stop-color="#58ff9f"/><stop offset="0.377" stop-color="#6dff8a"/><stop offset="0.434" stop-color="#81ff76"/><stop offset="0.491" stop-color="#98ff5e"/><stop offset="0.547" stop-color="#b0ff47"/><stop offset="0.604" stop-color="#c5ff32"/><stop offset="0.66" stop-color="#dbff1c"/><stop offset="0.717" stop-color="#eeff09"/><stop offset="0.774" stop-color="#ffea00"/><stop offset="0.83" stop-color="#ffd600"/><stop offset="0.887" stop-color="#ffc200"/><stop offset="0.943" stop-color="#ffb300"/><stop offset="1" stop-color="#ffa500"/></linearGradient>
<linearGradient id="u46" x1="0" y1="0" x2="0" y2="1"><stop offset="0" stop-color="#009dff"/><stop offset="0.064" stop-color="#00baff"/><stop offset="0.132" stop-color="#00daff"/><stop offset="0.174" stop-color="#0df6ea"/><stop offset="0.215" stop-color="#24ffd3"/><stop offset="0.268" stop-color="#3dffb9"/><stop offset="0.321" stop-color="#57ffa0"/><stop offset="0.377" stop-color="#6cff8b"/><stop offset="0.434" stop-color="#80ff77"/><stop offset="0.491" stop-color="#98ff5f"/><stop offset="0.547" stop-color="#afff48"/><stop offset="0.604" stop-color="#c5ff32"/><stop offset="0.66" stop-color="#daff1d"/><stop offset="0.717" stop-color="#edff09"/><stop offset="0.774" stop-color="#ffea00"/><stop offset="0.83" stop-color="#ffd600"/><stop offset="0.887" stop-color="#ffc200"/><stop offset="0.943" stop-color="#ffb300"/><stop offset="1" stop-color="#ffa500"/></linearGradient>
<linearGradient id="u47" x1="0" y1="0" x2="0" y2="1"><stop offset="0" stop-color="#009bff"/><stop offset="0.064" stop-color="#00b9ff"/><stop offset="0.132" stop-color="#00d8ff"/><stop offset="0.174" stop-color="#0cf4eb"/><stop offset="0.215" stop-color="#22ffd4"/><stop offset="0.268" stop-color="#3cffbb"/><stop offset="0.321" stop-color="#56ffa1"/><stop offset="0.377" stop-color="#6bff8c"/><stop offset="0.434" stop-color="#7fff78"/><stop offset="0.491" stop-color="#97ff60"/><stop offset="0.547" stop-color="#afff48"/><stop offset="0.604" stop-color="#c4ff33"/><stop offset="0.66" stop-color="#daff1d"/><stop offset="0.717" stop-color="#edff0a"/><stop offset="0.774" stop-color="#ffeb00"/><stop offset="0.83" stop-color="#ffd600"/><stop offset="0.887" stop-color="#ffc200"/><stop offset="0.943" stop-color="#ffb300"/><stop offset="1" stop-color="#ffa500"/></linearGradient>
<linearGradient id="u48" x1="0" y1="0" x2="0" y2="1"><stop offset="0" stop-color="#0099ff"/><stop offset="0.064" stop-color="#00b7ff"/><stop offset="0.132" stop-color="#00d6ff"/><stop offset="0.174" stop-color="#0af2ec"/><stop offset="0.215" stop-color="#21ffd6"/><stop offset="0.268" stop-color="#3bffbc"/><stop offset="0.321" stop-color="#55ffa2"/><stop offset="0.377" stop-color="#6aff8d"/><stop offset="0.434" stop-color="#7eff79"/><stop offset="0.491" stop-color="#96ff61"/><stop offset="0.547" stop-color="#aeff49"/><stop offset="0.604" stop-color="#c4ff33"/><stop offset="0.66" stop-color="#d9ff1d"/><stop offset="0.717" stop-color="#edff0a"/><stop offset="0.774" stop-color="#ffeb00"/><stop offset="0.83" stop-color="#ffd600"/><stop offset="0.887" stop-color="#ffc200"/><stop offset="0.943" stop-color="#ffb300"/><stop offset="1" stop-color="#ffa500"/></linearGradient>
<linearGradient id="u49" x1="0" y1="0" x2="0" y2="1"><stop offset="0" stop-color="#0097ff"/><stop offset="0.064" stop-color="#00b5ff"/><stop offset="0.132" stop-color="#00d5ff"/><stop offset="0.174" stop-color="#09f1ee"/><stop offset="0.215" stop-color="#20ffd7"/><stop offset="0.268" stop-color="#3affbd"/><stop offset="0.321" stop-color="#54ffa3"/><stop offset="0.377" stop-color="#69ff8e"/><stop offset="0.434" stop-color="#7dff7a"/><stop offset="0.491" stop-color="#95ff61"/><stop offset="0.547" stop-color="#aeff49"/><stop offset="0.604" stop-color="#c3ff33"/><stop offset="0.66" stop-color="#d9ff1e"/><stop offset="0.717" stop-color="#ecff0a"/><stop offset="0.774" stop-color="#ffeb00"/><stop offset="0.83" stop-color="#ffd700"/><stop offset="0.887" stop-color="#ffc200"/><stop offset="0.943" stop-color="#ffb300"/><stop offset="1" stop-color="#ffa500"/></linearGradient>
<linearGradient id="u50" x1="0" y1="0" x2="0" y2="1"><stop offset="0" stop-color="#0096ff"/><stop offset="0.064" stop-color="#00b3ff"/><stop offset="0.132" stop-color="#00d3ff"/><stop offset="0.174" stop-color="#08efef"/><stop offset="0.215" stop-color="#1effd9"/><stop offset="0.268" stop-color="#39ffbe"/><stop offset="0.321" stop-color="#53ffa4"/><stop offset="0.377" stop-color="#68ff8f"/><stop offset="0.434" stop-color="#7cff7a"/><stop offset="0.491" stop-color="#95ff62"/><stop offset="0.547" stop-color="#adff4a"/><stop offset="0.604" stop-color="#c3ff34"/><stop offset="0.66" stop-color="#d9ff1e"/><stop offset="0.717" stop-color="#ecff0b"/><stop offset="0.774" stop-color="#ffec00"/><stop offset="0.83" stop-color="#ffd700"/><stop offset="0.887" stop-color="#ffc200"/><stop offset="0.943" stop-color="#ffb300"/><stop offset="1" stop-color="#ffa500"/></linearGradient>
<linearGradient id="u51" x1="0" y1="0" x2="0" y2="1"><stop offset="0" stop-color="#0094ff"/><stop offset="0.064" stop-color="#00b2ff"/><stop offset="0.132" stop-color="#00d1ff"/><stop offset="0.174" stop-color="#06edf1"/><stop offset="0.215" stop-color="#1dffda"/><stop offset="0.268" stop-color="#37ffbf"/><stop offset="0.321" stop-color="#52ffa5"/><stop offset="0.377" stop-color="#67ff90"/><stop offset="0.434" stop-color="#7bff7b"/><stop offset="0.491" stop-color="#94ff63"/><stop offset="0.547" stop-color="#adff4a"/><stop offset="0.604" stop-color="#c3ff34"/><stop offset="0.66" stop-color="#d8ff1e"/><stop offset="0.717" stop-color="#ecff0b"/><stop offset="0.774" stop-color="#ffec00"/><stop offset="0.83" stop-color="#ffd700"/><stop offset="0.887" stop-color="#ffc200"/><stop offset="0.943" stop-color="#ffb300"/><stop offset="1" stop-color="#ffa500"/></linearGradient>
<linearGradient id="u52" x1="0" y1="0" x2="0" y2="1"><stop offset="0" stop-color="#0093ff"/><stop offset="0.064" stop-color="#00b0ff"/><stop offset="0.132" stop-color="#00d0ff"/><stop offset="0.174" stop-color="#05ecf2"/><stop offset="0.215" stop-color="#1bffdc"/><stop offset="0.268" stop-color="#36ffc1"/><stop offset="0.321" stop-color="#51ffa6"/><stop offset="0.377" stop-color="#66ff91"/><stop offset="0.434" stop-color="#7bff7c"/><stop offset="0.491" stop-color="#94ff63"/><stop offset="0.547" stop-color="#acff4b"/><stop offset="0.604" stop-color="#c2ff35"/><stop offset="0.66" stop-color="#d8ff1f"/><stop offset="0.717" stop-color="#ebff0b"/><stop offset="0.774" stop-color="#ffec00"/><stop offset="0.83" stop-color="#ffd700"/><stop offset="0.887" stop-color="#ffc200"/><stop offset="0.943" stop-color="#ffb300"/><stop offset="1" stop-color="#ffa500"/></linearGradient>
<linearGradient id="u53" x1="0" y1="0" x2="0" y2="1"><stop offset="0" stop-color="#0091ff"/><stop offset="0.064" stop-color="#00afff"/><stop offset="0.132" stop-color="#00cfff"/><stop offset="0.174" stop-color="#04eaf3"/><stop offset="0.215" stop-color="#1affdd"/><stop offset="0.268" stop-color="#35ffc2"/><stop offset="0.321" stop-color="#50ffa7"/><stop offset="0.377" stop-color="#65ff91"/><stop offset="0.434" stop-color="#7aff7c"/><stop offset="0.491" stop-color="#93ff64"/><stop offset="0.547" stop-color="#acff4b"/><stop offset="0.604" stop-color="#c2ff35"/><stop offset="0.66" stop-color="#d8ff1f"/><stop offset="0.717" stop-color="#ebff0c"/><stop offset="0.774" stop-color="#ffed00"/><stop offset="0.83" stop-color="#ffd700"/><stop offset="0.887" stop-color="#ffc200"/><stop offset="0.943" stop-color="#ffb300"/><stop offset="1" stop-color="#ffa500"/></linearGradient>
<linearGradient id="u54" x1="0" y1="0" x2="0" y2="1"><stop offset="0" stop-color="#0090ff"/><stop offset="0.064" stop-color="#00aeff"/><stop offset="0.132" stop-color="#00cdff"/><stop offset="0.174" stop-color="#02e9f4"/><stop offset="0.215" stop-color="#18ffde"/><stop offset="0.268" stop-color="#34ffc3"/><stop offset="0.321" stop-color="#4fffa7"/><stop offset="0.377" stop-color="#65ff92"/><stop offset="0.434" stop-color="#7aff7d"/><stop offset="0.491" stop-color="#93ff64"/><stop offset="0.547" stop-color="#abff4c"/><stop offset="0.604" stop-color="#c1ff36"/><stop offset="0.66" stop-color="#d7ff20"/><stop offset="0.717" stop-color="#ebff0c"/><stop offset="0.774" stop-color="#feed00"/><stop offset="0.83" stop-color="#ffd700"/><stop offset="0.887" stop-color="#ffc200"/><stop offset="0.943" stop-color="#ffb300"/><stop offset="1" stop-color="#ffa500"/></linearGradient>
<linearGradient id="u55" x1="0" y1="0" x2="0" y2="1"><stop offset="0" stop-color="#008fff"/><stop offset="0.064" stop-color="#00adff"/><stop offset="0.132" stop-color="#00ccff"/><stop offset="0.174" stop-color="#01e7f5"/><stop offset="0.215" stop-color="#17ffe0"/><stop offset="0.268" stop-color="#33ffc4"/><stop offset="0.321" stop-color="#4effa8"/><stop offset="0.377" stop-color="#64ff93"/><stop offset="0.434" stop-color="#79ff7d"/><stop offset="0.491" stop-color="#92ff65"/><stop offset="0.547" stop-color="#abff4c"/><stop offset="0.604" stop-color="#c1ff36"/><stop offset="0.66" stop-color="#d7ff20"/><stop offset="0.717" stop-color="#eaff0c"/><stop offset="0.774" stop-color="#feed00"/><stop offset="0.83" stop-color="#ffd700"/><stop offset="0.887" stop-color="#ffc200"/><stop offset="0.943" stop-color="#ffb300"/><stop offset="1" stop-color="#ffa500"/></linearGradient>
<linearGradient id="u56" x1="0" y1="0" x2="0" y2="1"><stop offset="0" stop-color="#008eff"/><stop offset="0.064" stop-color="#00acff"/><stop offset="0.132" stop-color="#00cbff"/><stop offset="0.174" stop-color="#00e6f7"/><stop offset="0.215" stop-color="#15ffe1"/><stop offset="0.268" stop-color="#31ffc5"/><stop offset="0.321" stop-color="#4dffa9"/><stop offset="0.377" stop-color="#63ff94"/><stop offset="0.434" stop-color="#79ff7e"/><stop offset="0.491" stop-color="#92ff65"/><stop offset="0.547" stop-color="#aaff4c"/><stop offset="0.604" stop-color="#c0ff36"/><stop offset="0.66" stop-color="#d6ff20"/><stop offset="0.717" stop-color="#eaff0d"/><stop offset="0.774" stop-color="#feed00"/><stop offset="0.83" stop-color="#ffd700"/><stop offset="0.887" stop-color="#ffc200"/><stop offset="0.943" stop-color="#ffb300"/><stop offset="1" stop-color="#ffa500"/></linearGradient>
<linearGradient id="u57" x1="0" y1="0" x2="0" y2="1"><stop offset="0" stop-color="#008dff"/><stop offset="0.064" stop-color="#00aaff"/><stop offset="0.132" stop-color="#00caff"/><stop offset="0.174" stop-color="#00e4f8"/><stop offset="0.215" stop-color="#14fee3"/><stop offset="0.268" stop-color="#30ffc7"/><stop offset="0.321" stop-color="#4cffaa"/><stop offset="0.377" stop-color="#62ff94"/><stop offset="0.434" stop-color="#78ff7e"/><stop offset="0.491" stop-color="#91ff66"/><stop offset="0.547" stop-color="#aaff4d"/><stop offset="0.604" stop-color="#c0ff37"/><stop offset="0.66" stop-color="#d6ff21"/><stop offset="0.717" stop-color="#eaff0d"/><stop offset="0.774" stop-color="#feed00"/><stop offset="0.83" stop-color="#ffd800"/><stop offset="0.887" stop-color="#ffc200"/><stop offset="0.943" stop-color="#ffb300"/><stop offset="1" stop-color="#ffa500"/></linearGradient>
<linearGradient id="u58" x1="0" y1="0" x2="0" y2="1"><stop offset="0" stop-color="#008bff"/><stop offset="0.064" stop-color="#00a9ff"/><stop offset="0.132" stop-color="#00c9ff"/><stop offset="0.174" stop-color="#00e3f9"/><stop offset="0.215" stop-color="#13fde4"/><stop offset="0.268" stop-color="#2fffc8"/><stop offset="0.321" stop-color="#4bffab"/><stop offset="0.377" stop-color="#62ff95"/><stop offset="0.434" stop-color="#78ff7f"/><stop offset="0.491" stop-color="#91ff66"/><stop offset="0.547" stop-color="#a9ff4d"/><stop offset="0.604" stop-color="#bfff37"/><stop offset="0.66" stop-color="#d6ff21"/><stop offset="0.717" stop-color="#eaff0d"/><stop offset="0.774" stop-color="#feee00"/><stop offset="0.83" stop-color="#ffd800"/><stop offset="0.887" stop-color="#ffc200"/><stop offset="0.943" stop-color="#ffb300"/><stop offset="1" stop-color="#ffa500"/></linearGradient>
<linearGradient id="u59" x1="0" y1="0" x2="0" y2="1"><stop offset="0" stop-color="#008aff"/><stop offset="0.064" stop-color="#00a8ff"/><stop offset="0.132" stop-color="#00c7ff"/><stop offset="0.174" stop-color="#00e1fa"/><stop offset="0.215" stop-color="#11fbe6"/><stop offset="0.268" stop-color="#2effc9"/><stop offset="0.321" stop-color="#4bffac"/><stop offset="0.377" stop-color="#61ff96"/><stop offset="0.434" stop-color="#78ff7f"/><stop offset="0.491" stop-color="#90ff67"/><stop offset="0.547" stop-color="#a9ff4e"/><stop offset="0.604" stop-color="#bfff38"/><stop offset="0.66" stop-color="#d5ff22"/><stop offset="0.717" stop-color="#e9ff0d"/><stop offset="0.774" stop-color="#fdee00"/><stop offset="0.83" stop-color="#ffd800"/><stop offset="0.887" stop-color="#ffc200"/><stop offset="0.943" stop-color="#ffb300"/><stop offset="1" stop-color="#ffa500"/></linearGradient>
<linearGradient id="u60" x1="0" y1="0" x2="0" y2="1"><stop offset="0" stop-color="#0089ff"/><stop offset="0.064" stop-color="#00a7ff"/><stop offset="0.132" stop-color="#00c6ff"/><stop offset="0.174" stop-color="#00e0fb"/><stop offset="0.215" stop-color="#10f9e7"/><stop offset="0.268" stop-color="#2dffca"/><stop offset="0.321" stop-color="#4affad"/><stop offset="0.377" stop-color="#60ff96"/><stop offset="0.434" stop-color="#77ff80"/><stop offset="0.491" stop-color="#90ff67"/><stop offset="0.547" stop-color="#a8ff4e"/><stop offset="0.604" stop-color="#bfff38"/><stop offset="0.66" stop-color="#d5ff22"/><stop offset="0.717" stop-color="#e9ff0e"/><stop offset="0.774" stop-color="#fdee00"/><stop offset="0.83" stop-color="#ffd800"/><stop offset="0.887" stop-color="#ffc200"/><stop offset="0.943" stop-color="#ffb300"/><stop offset="1" stop-color="#ffa500"/></linearGradient>
<linearGradient id="u61" x1="0" y1="0" x2="0" y2="1"><stop offset="0" stop-color="#0088ff"/><stop offset="0.064" stop-color="#00a6ff"/><stop offset="0.132" stop-color="#00c5ff"/><stop offset="0.174" stop-color="#00dffc"/><stop offset="0.215" stop-color="#0ff8e8"/><stop offset="0.268" stop-color="#2cffcb"/><stop offset="0.321" stop-color="#49ffae"/><stop offset="0.377" stop-color="#60ff97"/><stop offset="0.434" stop-color="#77ff80"/><stop offset="0.491" stop-color="#8fff68"/><stop offset="0.547" stop-color="#a8ff4f"/><stop offset="0.604" stop-color="#beff39"/><stop offset="0.66" stop-color="#d4ff23"/><stop offset="0.717" stop-color="#e8ff0e"/><stop offset="0.774" stop-color="#fdef00"/><stop offset="0.83" stop-color="#ffd800"/><stop offset="0.887" stop-color="#ffc200"/><stop offset="0.943" stop-color="#ffb300"/><stop offset="1" stop-color="#ffa500"/></linearGradient>
<linearGradient id="u62" x1="0" y1="0" x2="0" y2="1"><stop offset="0" stop-color="#0087ff"/><stop offset="0.064" stop-color="#00a4ff"/><stop offset="0.132" stop-color="#00c4ff"/><stop offset="0.174" stop-color="#00ddfd"/><stop offset="0.215" stop-color="#0ef7e9"/><stop offset="0.268" stop-color="#2bffcc"/><stop offset="0.321" stop-color="#48ffaf"/><stop offset="0.377" stop-color="#5fff98"/><stop offset="0.434" stop-color="#76ff81"/><stop offset="0.491" stop-color="#8fff68"/><stop offset="0.547" stop-color="#a7ff4f"/><stop offset="0.604" stop-color="#beff39"/><stop offset="0.66" stop-color="#d4ff23"/><stop offset="0.717" stop-color="#e8ff0f"/><stop offset="0.774" stop-color="#fcef00"/><stop offset="0.83" stop-color="#ffd800"/><stop offset="0.887" stop-color="#ffc200"/><stop offset="0.943" stop-color="#ffb300"/><stop offset="1" stop-color="#ffa500"/></linearGradient>
<linearGradient id="u63" x1="0" y1="0" x2="0" y2="1"><stop offset="0" stop-color="#0086ff"/><stop offset="0.064" stop-color="#00a3ff"/><stop offset="0.132" stop-color="#00c3ff"/><stop offset="0.174" stop-color="#00dcfe"/><stop offset="0.215" stop-color="#0df6ea"/><stop offset="0.268" stop-color="#2affcd"/><stop offset="0.321" stop-color="#47ffb0"/><stop offset="0.377" stop-color="#5eff99"/><stop offset="0.434" stop-color="#76ff81"/><stop offset="0.491" stop-color="#8eff69"/><stop offset="0.547" stop-color="#a7ff50"/><stop offset="0.604" stop-color="#bdff3a"/><stop offset="0.66" stop-color="#d3ff24"/><stop offset="0.717" stop-color="#e8ff0f"/><stop offset="0.774" stop-color="#fcf000"/><stop offset="0.83" stop-color="#ffd900"/><stop offset="0.887" stop-color="#ffc200"/><stop offset="0.943" stop-color="#ffb300"/><stop offset="1" stop-color="#ffa500"/></linearGradient>
<linearGradient id="u64" x1="0" y1="0" x2="0" y2="1"><stop offset="0" stop-color="#0084ff"/><stop offset="0.064" stop-color="#00a2ff"/><stop offset="0.132" stop-color="#00c2ff"/><stop offset="0.174" stop-color="#00dbff"/><stop offset="0.215" stop-color="#0cf5eb"/><stop offset="0.268" stop-color="#29ffce"/><stop offset="0.321" stop-color="#46ffb1"/><stop offset="0.377" stop-color="#5dff99"/><stop offset="0.434" stop-color="#75ff82"/><stop offset="0.491" stop-color="#8eff69"/><stop offset="0.547" stop-color="#a6ff50"/><stop offset="0.604" stop-color="#bcff3a"/><stop offset="0.66" stop-color="#d2ff24"/><stop offset="0.717" stop-color="#e7ff10"/><stop offset="0.774" stop-color="#fcf000"/><stop offset="0.83" stop-color="#ffd900"/><stop offset="0.887" stop-color="#ffc200"/><stop offset="0.943" stop-color="#ffb300"/><stop offset="1" stop-color="#ffa500"/></linearGradient>
<linearGradient id="u65" x1="0" y1="0" x2="0" y2="1"><stop offset="0" stop-color="#0083ff"/><stop offset="0.064" stop-color="#00a1ff"/><stop offset="0.132" stop-color="#00c0ff"/><stop offset="0.174" stop-color="#00daff"/><stop offset="0.215" stop-color="#0bf3ec"/><stop offset="0.268" stop-color="#28ffcf"/><stop offset="0.321" stop-color="#45ffb2"/><stop offset="0.377" stop-color="#5dff9a"/><stop offset="0.434" stop-color="#75ff82"/><stop offset="0.491" stop-color="#8dff69"/><stop offset="0.547" stop-color="#a6ff51"/><stop offset="0.604" stop-color="#bcff3b"/><stop offset="0.66" stop-color="#d2ff25"/><stop offset="0.717" stop-color="#e7ff10"/><stop offset="0.774" stop-color="#fbf000"/><stop offset="0.83" stop-color="#ffd900"/><stop offset="0.887" stop-color="#ffc200"/><stop offset="0.943" stop-color="#ffb300"/><stop offset="1" stop-color="#ffa500"/></linearGradient>
<linearGradient id="u66" x1="0" y1="0" x2="0" y2="1"><stop offset="0" stop-color="#0082ff"/><stop offset="0.064" stop-color="#00a0ff"/><stop offset="0.132" stop-color="#00bfff"/><stop offset="0.174" stop-color="#00d9ff"/><stop offset="0.215" stop-color="#0af2ed"/><stop offset="0.268" stop-color="#27ffd0"/><stop offset="0.321" stop-color="#44ffb3"/><stop offset="0.377" stop-color="#5cff9b"/><stop offset="0.434" stop-color="#74ff83"/><stop offset="0.491" stop-color="#8dff6a"/><stop offset="0.547" stop-color="#a6ff51"/><stop offset="0.604" stop-color="#bbff3b"/><stop offset="0.66" stop-color="#d1ff25"/><stop offset="0.717" stop-color="#e6ff11"/><stop offset="0.774" stop-color="#fbf100"/><stop offset="0.83" stop-color="#ffd900"/><stop offset="0.887" stop-color="#ffc200"/><stop offset="0.943" stop-color="#ffb300"/><stop offset="1" stop-color="#ffa500"/></linearGradient>
<linearGradient id="u67" x1="0" y1="0" x2="0" y2="1"><stop offset="0" stop-color="#0081ff"/><stop offset="0.064" stop-color="#009fff"/><stop offset="0.132" stop-color="#00beff"/><stop offset="0.174" stop-color="#00d7ff"/><stop offset="0.215" stop-color="#09f1ee"/><stop offset="0.268" stop-color="#26ffd1"/><stop offset="0.321" stop-color="#43ffb4"/><stop offset="0.377" stop-color="#5bff9c"/><stop offset="0.434" stop-color="#74ff83"/><stop offset="0.491" stop-color="#8cff6a"/><stop offset="0.547" stop-color="#a5ff52"/><stop offset="0.604" stop-color="#bbff3c"/><stop offset="0.66" stop-color="#d1ff26"/><stop offset="0.717" stop-color="#e6ff11"/><stop offset="0.774" stop-color="#faf100"/><stop offset="0.83" stop-color="#ffd900"/><stop offset="0.887" stop-color="#ffc200"/><stop offset="0.943" stop-color="#ffb300"/><stop offset="1" stop-color="#ffa500"/></linearGradient>
<linearGradient id="u68" x1="0" y1="0" x2="0" y2="1"><stop offset="0" stop-color="#0080ff"/><stop offset="0.064" stop-color="#009dff"/><stop offset="0.132" stop-color="#00bdff"/><stop offset="0.174" stop-color="#00d6ff"/><stop offset="0.215" stop-color="#08f0ee"/><stop offset="0.268" stop-color="#25ffd2"/><stop offset="0.321" stop-color="#42ffb5"/><stop offset="0.377" stop-color="#5bff9c"/><stop offset="0.434" stop-color="#73ff84"/><stop offset="0.491" stop-color="#8cff6b"/><stop offset="0.547" stop-color="#a5ff52"/><stop offset="0.604" stop-color="#baff3c"/><stop offset="0.66" stop-color="#d0ff27"/><stop offset="0.717" stop-color="#e5ff12"/><stop offset="0.774" stop-color="#faf200"/><stop offset="0.83" stop-color="#ffda00"/><stop offset="0.887" stop-color="#ffc200"/><stop offset="0.943" stop-color="#ffb300"/><stop offset="1" stop-color="#ffa500"/></linearGradient>
<linearGradient id="u69" x1="0" y1="0" x2="0" y2="1"><stop offset="0" stop-color="#0078ff"/><stop offset="0.064" stop-color="#0097ff"/><stop offset="0.132" stop-color="#00b7ff"/><stop offset="0.174" stop-color="#00d2ff"/><stop offset="0.215" stop-color="#06ecf1"/><stop offset="0.268" stop-color="#22ffd4"/><stop offset="0.321" stop-color="#3fffb8"/><stop offset="0.377" stop-color="#58ff9e"/><stop offset="0.434" stop-color="#72ff85"/><stop offset="0.491" stop-color="#8bff6c"/><stop offset="0.547" stop-color="#a4ff53"/><stop offset="0.604" stop-color="#baff3d"/><stop offset="0.66" stop-color="#cfff27"/><stop offset="0.717" stop-color="#e4ff12"/><stop offset="0.774" stop-color="#faf200"/><stop offset="0.83" stop-color="#ffda00"/><stop offset="0.887" stop-color="#ffc200"/><stop offset="0.943" stop-color="#ffb400"/><stop offset="1" stop-color="#ffa500"/></linearGradient>
<linearGradient id="u70" x1="0" y1="0" x2="0" y2="1"><stop offset="0" stop-color="#0070ff"/><stop offset="0.064" stop-color="#008fff"/><stop offset="0.132" stop-color="#00b1ff"/><stop offset="0.174" stop-color="#00cdff"/><stop offset="0.215" stop-color="#03e9f4"/><stop offset="0.268" stop-color="#1fffd7"/><stop offset="0.321" stop-color="#3cffbb"/><stop offset="0.377" stop-color="#56ffa0"/><stop offset="0.434" stop-color="#70ff86"/><stop offset="0.491" stop-color="#8aff6d"/><stop offset="0.547" stop-color="#a3ff54"/><stop offset="0.604" stop-color="#b9ff3e"/><stop offset="0.66" stop-color="#ceff28"/><stop offset="0.717" stop-color="#e4ff13"/><stop offset="0.774" stop-color="#f9f300"/><stop offset="0.83" stop-color="#ffda00"/><stop offset="0.887" stop-color="#ffc200"/><stop offset="0.943" stop-color="#ffb400"/><stop offset="1" stop-color="#ffa500"/></linearGradient>
<linearGradient id="u71" x1="0" y1="0" x2="0" y2="1"><stop offset="0" stop-color="#0068ff"/><stop offset="0.064" stop-color="#0088ff"/><stop offset="0.132" stop-color="#00aaff"/><stop offset="0.174" stop-color="#00c8ff"/><stop offset="0.215" stop-color="#00e5f7"/><stop offset="0.268" stop-color="#1dffda"/><stop offset="0.321" stop-color="#39ffbd"/><stop offset="0.377" stop-color="#54ffa3"/><stop offset="0.434" stop-color="#6fff88"/><stop offset="0.491" stop-color="#89ff6e"/><stop offset="0.547" stop-color="#a2ff54"/><stop offset="0.604" stop-color="#b8ff3f"/><stop offset="0.66" stop-color="#ceff29"/><stop offset="0.717" stop-color="#e3ff14"/><stop offset="0.774" stop-color="#f9f300"/><stop offset="0.83" stop-color="#ffdb00"/><stop offset="0.887" stop-color="#ffc200"/><stop offset="0.943" stop-color="#ffb400"/><stop offset="1" stop-color="#ffa500"/></linearGradient>
<linearGradient id="u72" x1="0" y1="0" x2="0" y2="1"><stop offset="0" stop-color="#0060ff"/><stop offset="0.064" stop-color="#0081ff"/><stop offset="0.132" stop-color="#00a4ff"/><stop offset="0.174" stop-color="#00c3ff"/><stop offset="0.215" stop-color="#00e2fa"/><stop offset="0.268" stop-color="#1affdd"/><stop offset="0.321" stop-color="#36ffc0"/><stop offset="0.377" stop-color="#52ffa5"/><stop offset="0.434" stop-color="#6eff89"/><stop offset="0.491" stop-color="#88ff6f"/><stop offset="0.547" stop-color="#a2ff55"/><stop offset="0.604" stop-color="#b7ff40"/><stop offset="0.66" stop-color="#cdff2a"/><stop offset="0.717" stop-color="#e3ff14"/><stop offset="0.774" stop-color="#f8f400"/><stop offset="0.83" stop-color="#ffdb00"/><stop offset="0.887" stop-color="#ffc200"/><stop offset="0.943" stop-color="#ffb400"/><stop offset="1" stop-color="#ffa500"/></linearGradient>
<linearGradient id="u73" x1="0" y1="0" x2="0" y2="1"><stop offset="0" stop-color="#0058ff"/><stop offset="0.064" stop-color="#007aff"/><stop offset="0.132" stop-color="#009eff"/><stop offset="0.174" stop-color="#00beff"/><stop offset="0.215" stop-color="#00defd"/><stop offset="0.268" stop-color="#17ffe0"/><stop offset="0.321" stop-color="#34ffc3"/><stop offset="0.377" stop-color="#50ffa7"/><stop offset="0.434" stop-color="#6cff8b"/><stop offset="0.491" stop-color="#87ff70"/><stop offset="0.547" stop-color="#a1ff56"/><stop offset="0.604" stop-color="#b6ff40"/><stop offset="0.66" stop-color="#ccff2b"/><stop offset="0.717" stop-color="#e2ff15"/><stop offset="0.774" stop-color="#f8f400"/><stop offset="0.83" stop-color="#ffdb00"/><stop offset="0.887" stop-color="#ffc200"/><stop offset="0.943" stop-color="#ffb400"/><stop offset="1" stop-color="#ffa500"/></linearGradient>
<linearGradient id="u74" x1="0" y1="0" x2="0" y2="1"><stop offset="0" stop-color="#004eff"/><stop offset="0.064" stop-color="#0072ff"/><stop offset="0.132" stop-color="#0097ff"/><stop offset="0.174" stop-color="#00b9ff"/><stop offset="0.215" stop-color="#00dbff"/><stop offset="0.268" stop-color="#14fee3"/><stop offset="0.321" stop-color="#31ffc6"/><stop offset="0.377" stop-color="#4effa9"/><stop offset="0.434" stop-color="#6aff8c"/><stop offset="0.491" stop-color="#85ff71"/><stop offset="0.547" stop-color="#a0ff57"/><stop offset="0.604" stop-color="#b6ff41"/><stop offset="0.66" stop-color="#cbff2c"/><stop offset="0.717" stop-color="#e1ff16"/><stop offset="0.774" stop-color="#f7f500"/><stop offset="0.83" stop-color="#ffdc00"/><stop offset="0.887" stop-color="#ffc300"/><stop offset="0.943" stop-color="#ffb400"/><stop offset="1" stop-color="#ffa500"/></linearGradient>
<linearGradient id="u75" x1="0" y1="0" x2="0" y2="1"><stop offset="0" stop-color="#003dff"/><stop offset="0.064" stop-color="#0065ff"/><stop offset="0.132" stop-color="#0090ff"/><stop offset="0.174" stop-color="#00b4ff"/><stop offset="0.215" stop-color="#00d8ff"/><stop offset="0.268" stop-color="#12fce5"/><stop offset="0.321" stop-color="#2fffc8"/><stop offset="0.377" stop-color="#4bffab"/><stop offset="0.434" stop-color="#68ff8f"/><stop offset="0.491" stop-color="#84ff73"/><stop offset="0.547" stop-color="#9fff58"/><stop offset="0.604" stop-color="#b5ff42"/><stop offset="0.66" stop-color="#caff2d"/><stop offset="0.717" stop-color="#e1ff16"/><stop offset="0.774" stop-color="#f7f500"/><stop offset="0.83" stop-color="#ffdc00"/><stop offset="0.887" stop-color="#ffc300"/><stop offset="0.943" stop-color="#ffb400"/><stop offset="1" stop-color="#ffa500"/></linearGradient>
<linearGradient id="u76" x1="0" y1="0" x2="0" y2="1"><stop offset="0" stop-color="#002cff"/><stop offset="0.064" stop-color="#0059ff"/><stop offset="0.132" stop-color="#0089ff"/><stop offset="0.174" stop-color="#00afff"/><stop offset="0.215" stop-color="#00d5ff"/><stop offset="0.268" stop-color="#0ff9e7"/><stop offset="0.321" stop-color="#2cffcb"/><stop offset="0.377" stop-color="#49ffae"/><stop offset="0.434" stop-color="#66ff91"/><stop offset="0.491" stop-color="#82ff75"/><stop offset="0.547" stop-color="#9eff59"/><stop offset="0.604" stop-color="#b3ff43"/><stop offset="0.66" stop-color="#c9ff2e"/><stop offset="0.717" stop-color="#e0ff17"/><stop offset="0.774" stop-color="#f7f600"/><stop offset="0.83" stop-color="#ffdc00"/><stop offset="0.887" stop-color="#ffc300"/><stop offset="0.943" stop-color="#ffb400"/><stop offset="1" stop-color="#ffa500"/></linearGradient>
<linearGradient id="u77" x1="0" y1="0" x2="0" y2="1"><stop offset="0" stop-color="#001bff"/><stop offset="0.064" stop-color="#004dff"/><stop offset="0.132" stop-color="#0082ff"/><stop offset="0.174" stop-color="#00aaff"/><stop offset="0.215" stop-color="#00d2ff"/><stop offset="0.268" stop-color="#0df6ea"/><stop offset="0.321" stop-color="#2affcd"/><stop offset="0.377" stop-color="#47ffb0"/><stop offset="0.434" stop-color="#64ff93"/><stop offset="0.491" stop-color="#80ff77"/><stop offset="0.547" stop-color="#9dff5a"/><stop offset="0.604" stop-color="#b2ff44"/><stop offset="0.66" stop-color="#c8ff2f"/><stop offset="0.717" stop-color="#dfff18"/><stop offset="0.774" stop-color="#f6f601"/><stop offset="0.83" stop-color="#ffdd00"/><stop offset="0.887" stop-color="#ffc300"/><stop offset="0.943" stop-color="#ffb400"/><stop offset="1" stop-color="#ffa500"/></linearGradient>
<linearGradient id="u78" x1="0" y1="0" x2="0" y2="1"><stop offset="0" stop-color="#001eff"/><stop offset="0.064" stop-color="#004fff"/><stop offset="0.132" stop-color="#0083ff"/><stop offset="0.174" stop-color="#00aaff"/><stop offset="0.215" stop-color="#00d1ff"/><stop offset="0.268" stop-color="#0cf5eb"/><stop offset="0.321" stop-color="#29ffce"/><stop offset="0.377" stop-color="#45ffb1"/><stop offset="0.434" stop-color="#62ff95"/><stop offset="0.491" stop-color="#7fff78"/><stop offset="0.547" stop-color="#9cff5b"/><stop offset="0.604" stop-color="#b1ff45"/><stop offset="0.66" stop-color="#c7ff30"/><stop offset="0.717" stop-color="#deff18"/><stop offset="0.774" stop-color="#f6f701"/><stop offset="0.83" stop-color="#ffdd00"/><stop offset="0.887" stop-color="#ffc400"/><stop offset="0.943" stop-color="#ffb400"/><stop offset="1" stop-color="#ffa500"/></linearGradient>
<linearGradient id="u79" x1="0" y1="0" x2="0" y2="1"><stop offset="0" stop-color="#002eff"/><stop offset="0.064" stop-color="#005aff"/><stop offset="0.132" stop-color="#0089ff"/><stop offset="0.174" stop-color="#00adff"/><stop offset="0.215" stop-color="#00d1ff"/><stop offset="0.268" stop-color="#0cf4eb"/><stop offset="0.321" stop-color="#28ffcf"/><stop offset="0.377" stop-color="#44ffb2"/><stop offset="0.434" stop-color="#61ff96"/><stop offset="0.491" stop-color="#7eff79"/><stop offset="0.547" stop-color="#9aff5c"/><stop offset="0.604" stop-color="#b0ff47"/><stop offset="0.66" stop-color="#c6ff31"/><stop offset="0.717" stop-color="#ddff19"/><stop offset="0.774" stop-color="#f5f802"/><stop offset="0.83" stop-color="#ffde00"/><stop offset="0.887" stop-color="#ffc400"/><stop offset="0.943" stop-color="#ffb500"/><stop offset="1" stop-color="#ffa500"/></linearGradient>
<linearGradient id="u80" x1="0" y1="0" x2="0" y2="1"><stop offset="0" stop-color="#003eff"/><stop offset="0.064" stop-color="#0065ff"/><stop offset="0.132" stop-color="#008fff"/><stop offset="0.174" stop-color="#00b0ff"/><stop offset="0.215" stop-color="#00d1ff"/><stop offset="0.268" stop-color="#0bf4eb"/><stop offset="0.321" stop-color="#27ffcf"/><stop offset="0.377" stop-color="#43ffb3"/><stop offset="0.434" stop-color="#60ff97"/><stop offset="0.491" stop-color="#7cff7a"/><stop offset="0.547" stop-color="#99ff5e"/><stop offset="0.604" stop-color="#afff48"/><stop offset="0.66" stop-color="#c5ff32"/><stop offset="0.717" stop-color="#dcff1a"/><stop offset="0.774" stop-color="#f4f903"/><stop offset="0.83" stop-color="#ffde00"/><stop offset="0.887" stop-color="#ffc400"/><stop offset="0.943" stop-color="#ffb500"/><stop offset="1" stop-color="#ffa500"/></linearGradient>
<linearGradient id="u81" x1="0" y1="0" x2="0" y2="1"><stop offset="0" stop-color="#004dff"/><stop offset="0.064" stop-color="#0070ff"/><stop offset="0.132" stop-color="#0094ff"/><stop offset="0.174" stop-color="#00b3ff"/><stop offset="0.215" stop-color="#00d1ff"/><stop offset="0.268" stop-color="#0bf3ec"/><stop offset="0.321" stop-color="#27ffd0"/><stop offset="0.377" stop-color="#43ffb4"/><stop offset="0.434" stop-color="#5fff98"/><stop offset="0.491" stop-color="#7bff7b"/><stop offset="0.547" stop-color="#98ff5f"/><stop offset="0.604" stop-color="#aeff49"/><stop offset="0.66" stop-color="#c4ff33"/><stop offset="0.717" stop-color="#dcff1b"/><stop offset="0.774" stop-color="#f3f903"/><stop offset="0.83" stop-color="#ffdf00"/><stop offset="0.887" stop-color="#ffc400"/><stop offset="0.943" stop-color="#ffb500"/><stop offset="1" stop-color="#ffa500"/></linearGradient>
<linearGradient id="u82" x1="0" y1="0" x2="0" y2="1"><stop offset="0" stop-color="#0054ff"/><stop offset="0.064" stop-color="#0075ff"/><stop offset="0.132" stop-color="#0098ff"/><stop offset="0.174" stop-color="#00b4ff"/><stop offset="0.215" stop-color="#00d1ff"/><stop offset="0.268" stop-color="#0bf3ec"/><stop offset="0.321" stop-color="#26ffd1"/><stop offset="0.377" stop-color="#42ffb5"/><stop offset="0.434" stop-color="#5eff99"/><stop offset="0.491" stop-color="#7aff7c"/><stop offset="0.547" stop-color="#97ff60"/><stop offset="0.604" stop-color="#adff4a"/><stop offset="0.66" stop-color="#c3ff34"/><stop offset="0.717" stop-color="#daff1c"/><stop offset="0.774" stop-color="#f2fb04"/><stop offset="0.83" stop-color="#ffe000"/><stop offset="0.887" stop-color="#ffc500"/><stop offset="0.943" stop-color="#ffb500"/><stop offset="1" stop-color="#ffa600"/></linearGradient>
<linearGradient id="u83" x1="0" y1="0" x2="0" y2="1"><stop offset="0" stop-color="#005bff"/><stop offset="0.064" stop-color="#007aff"/><stop offset="0.132" stop-color="#009bff"/><stop offset="0.174" stop-color="#00b6ff"/><stop offset="0.215" stop-color="#00d1ff"/><stop offset="0.268" stop-color="#0bf3ec"/><stop offset="0.321" stop-color="#26ffd1"/><stop offset="0.377" stop-color="#41ffb6"/><stop offset="0.434" stop-color="#5dff9a"/><stop offset="0.491" stop-color="#79ff7d"/><stop offset="0.547" stop-color="#96ff61"/><stop offset="0.604" stop-color="#acff4b"/><stop offset="0.66" stop-color="#c1ff35"/><stop offset="0.717" stop-color="#d9ff1d"/><stop offset="0.774" stop-color="#f1fc05"/><stop offset="0.83" stop-color="#ffe100"/><stop offset="0.887" stop-color="#ffc600"/><stop offset="0.943" stop-color="#ffb600"/><stop offset="1" stop-color="#ffa600"/></linearGradient>
<linearGradient id="u84" x1="0" y1="0" x2="0" y2="1"><stop offset="0" stop-color="#0062ff"/><stop offset="0.064" stop-color="#0080ff"/><stop offset="0.132" stop-color="#009fff"/><stop offset="0.174" stop-color="#00b8ff"/><stop offset="0.215" stop-color="#00d1ff"/><stop offset="0.268" stop-color="#0bf3ec"/><stop offset="0.321" stop-color="#25ffd1"/><stop offset="0.377" stop-color="#41ffb6"/><stop offset="0.434" stop-color="#5cff9b"/><stop offset="0.491" stop-color="#78ff7e"/><stop offset="0.547" stop-color="#95ff62"/><stop offset="0.604" stop-color="#abff4c"/><stop offset="0.66" stop-color="#c0ff37"/><stop offset="0.717" stop-color="#d8ff1e"/><stop offset="0.774" stop-color="#f1fd06"/><stop offset="0.83" stop-color="#ffe200"/><stop offset="0.887" stop-color="#ffc600"/><stop offset="0.943" stop-color="#ffb600"/><stop offset="1" stop-color="#ffa600"/></linearGradient>
<linearGradient id="u85" x1="0" y1="0" x2="0" y2="1"><stop offset="0" stop-color="#006aff"/><stop offset="0.064" stop-color="#0085ff"/><stop offset="0.132" stop-color="#00a2ff"/><stop offset="0.174" stop-color="#00baff"/><stop offset="0.215" stop-color="#00d1ff"/><stop offset="0.268" stop-color="#0af2ec"/><stop offset="0.321" stop-color="#25ffd2"/><stop offset="0.377" stop-color="#40ffb7"/><stop offset="0.434" stop-color="#5bff9c"/><stop offset="0.491" stop-color="#77ff7f"/><stop offset="0.547" stop-color="#94ff63"/><stop offset="0.604" stop-color="#aaff4d"/><stop offset="0.66" stop-color="#bfff38"/><stop offset="0.717" stop-color="#d7ff1f"/><stop offset="0.774" stop-color="#f0fe07"/><stop offset="0.83" stop-color="#ffe200"/><stop offset="0.887" stop-color="#ffc700"/><stop offset="0.943" stop-color="#ffb700"/><stop offset="1" stop-color="#ffa600"/></linearGradient>
<linearGradient id="u86" x1="0" y1="0" x2="0" y2="1"><stop offset="0" stop-color="#006eff"/><stop offset="0.064" stop-color="#0089ff"/><stop offset="0.132" stop-color="#00a5ff"/><stop offset="0.174" stop-color="#00bbff"/><stop offset="0.215" stop-color="#00d2ff"/><stop offset="0.268" stop-color="#0af2ec"/><stop offset="0.321" stop-color="#25ffd2"/><stop offset="0.377" stop-color="#3fffb7"/><stop offset="0.434" stop-color="#5aff9d"/><stop offset="0.491" stop-color="#77ff80"/><stop offset="0.547" stop-color="#94ff63"/><stop offset="0.604" stop-color="#a9ff4e"/><stop offset="0.66" stop-color="#beff39"/><stop offset="0.717" stop-color="#d6ff20"/><stop offset="0.774" stop-color="#efff08"/><stop offset="0.83" stop-color="#ffe300"/><stop offset="0.887" stop-color="#ffc800"/><stop offset="0.943" stop-color="#ffb700"/><stop offset="1" stop-color="#ffa700"/></linearGradient>
<linearGradient id="u87" x1="0" y1="0" x2="0" y2="1"><stop offset="0" stop-color="#0073ff"/><stop offset="0.064" stop-color="#008cff"/><stop offset="0.132" stop-color="#00a7ff"/><stop offset="0.174" stop-color="#00bdff"/><stop offset="0.215" stop-color="#00d2ff"/><stop offset="0.268" stop-color="#0af3ec"/><stop offset="0.321" stop-color="#24ffd2"/><stop offset="0.377" stop-color="#3fffb8"/><stop offset="0.434" stop-color="#59ff9d"/><stop offset="0.491" stop-color="#76ff81"/><stop offset="0.547" stop-color="#93ff64"/><stop offset="0.604" stop-color="#a8ff4f"/><stop offset="0.66" stop-color="#bdff3a"/><stop offset="0.717" stop-color="#d5ff22"/><stop offset="0.774" stop-color="#eeff09"/><stop offset="0.83" stop-color="#ffe400"/><stop offset="0.887" stop-color="#ffc800"/><stop offset="0.943" stop-color="#ffb800"/><stop offset="1" stop-color="#ffa700"/></linearGradient>
<linearGradient id="u88" x1="0" y1="0" x2="0" y2="1"><stop offset="0" stop-color="#0077ff"/><stop offset="0.064" stop-color="#008fff"/><stop offset="0.132" stop-color="#00a9ff"/><stop offset="0.174" stop-color="#00beff"/><stop offset="0.215" stop-color="#00d3ff"/><stop offset="0.268" stop-color="#0bf3ec"/><stop offset="0.321" stop-color="#24ffd3"/><stop offset="0.377" stop-color="#3effb8"/><stop offset="0.434" stop-color="#59ff9e"/><stop offset="0.491" stop-color="#76ff81"/><stop offset="0.547" stop-color="#92ff64"/><stop offset="0.604" stop-color="#a7ff50"/><stop offset="0.66" stop-color="#bcff3b"/><stop offset="0.717" stop-color="#d4ff23"/><stop offset="0.774" stop-color="#ecff0a"/><stop offset="0.83" stop-color="#ffe500"/><stop offset="0.887" stop-color="#ffc900"/><stop offset="0.943" stop-color="#ffb800"/><stop offset="1" stop-color="#ffa700"/></linearGradient>
<linearGradient id="u89" x1="0" y1="0" x2="0" y2="1"><stop offset="0" stop-color="#007bff"/><stop offset="0.064" stop-color="#0093ff"/><stop offset="0.132" stop-color="#00abff"/><stop offset="0.174" stop-color="#00c0ff"/><stop offset="0.215" stop-color="#00d4ff"/><stop offset="0.268" stop-color="#0bf3ec"/><stop offset="0.321" stop-color="#24ffd3"/><stop offset="0.377" stop-color="#3effb9"/><stop offset="0.434" stop-color="#58ff9e"/><stop offset="0.491" stop-color="#75ff82"/><stop offset="0.547" stop-color="#92ff65"/><stop offset="0.604" stop-color="#a6ff50"/><stop offset="0.66" stop-color="#bbff3c"/><stop offset="0.717" stop-color="#d3ff24"/><stop offset="0.774" stop-color="#ebff0b"/><stop offset="0.83" stop-color="#ffe600"/><stop offset="0.887" stop-color="#ffca00"/><stop offset="0.943" stop-color="#ffb900"/><stop offset="1" stop-color="#ffa800"/></linearGradient>
<linearGradient id="u90" x1="0" y1="0" x2="0" y2="1"><stop offset="0" stop-color="#0080ff"/><stop offset="0.064" stop-color="#0096ff"/><stop offset="0.132" stop-color="#00adff"/><stop offset="0.174" stop-color="#00c1ff"/><stop offset="0.215" stop-color="#00d5ff"/><stop offset="0.268" stop-color="#0bf3ec"/><stop offset="0.321" stop-color="#23ffd3"/><stop offset="0.377" stop-color="#3effb9"/><stop offset="0.434" stop-color="#58ff9f"/><stop offset="0.491" stop-color="#75ff82"/><stop offset="0.547" stop-color="#91ff65"/><stop offset="0.604" stop-color="#a6ff51"/><stop offset="0.66" stop-color="#baff3d"/><stop offset="0.717" stop-color="#d2ff25"/><stop offset="0.774" stop-color="#eaff0c"/><stop offset="0.83" stop-color="#ffe700"/><stop offset="0.887" stop-color="#ffca00"/><stop offset="0.943" stop-color="#ffb900"/><stop offset="1" stop-color="#ffa800"/></linearGradient>
<linearGradient id="u91" x1="0" y1="0" x2="0" y2="1"><stop offset="0" stop-color="#0084ff"/><stop offset="0.064" stop-color="#0099ff"/><stop offset="0.132" stop-color="#00b0ff"/><stop offset="0.174" stop-color="#00c2ff"/><stop offset="0.215" stop-color="#00d5ff"/><stop offset="0.268" stop-color="#0bf3ec"/><stop offset="0.321" stop-color="#23ffd4"/><stop offset="0.377" stop-color="#3dffba"/><stop offset="0.434" stop-color="#57ffa0"/><stop offset="0.491" stop-color="#74ff83"/><stop offset="0.547" stop-color="#91ff66"/><stop offset="0.604" stop-color="#a5ff52"/><stop offset="0.66" stop-color="#b9ff3e"/><stop offset="0.717" stop-color="#d1ff26"/><stop offset="0.774" stop-color="#e9ff0d"/><stop offset="0.83" stop-color="#ffe800"/><stop offset="0.887" stop-color="#ffcb00"/><stop offset="0.943" stop-color="#ffba00"/><stop offset="1" stop-color="#ffa900"/></linearGradient>
<linearGradient id="u92" x1="0" y1="0" x2="0" y2="1"><stop offset="0" stop-color="#0088ff"/><stop offset="0.064" stop-color="#009cff"/><stop offset="0.132" stop-color="#00b2ff"/><stop offset="0.174" stop-color="#00c4ff"/><stop offset="0.215" stop-color="#00d6ff"/><stop offset="0.268" stop-color="#0bf3ec"/><stop offset="0.321" stop-color="#23ffd4"/><stop offset="0.377" stop-color="#3dffba"/><stop offset="0.434" stop-color="#57ffa0"/><stop offset="0.491" stop-color="#73ff83"/><stop offset="0.547" stop-color="#90ff67"/><stop offset="0.604" stop-color="#a4ff53"/><stop offset="0.66" stop-color="#b8ff3f"/><stop offset="0.717" stop-color="#d0ff27"/><stop offset="0.774" stop-color="#e8ff0e"/><stop offset="0.83" stop-color="#ffe900"/><stop offset="0.887" stop-color="#ffcc00"/><stop offset="0.943" stop-color="#ffba00"/><stop offset="1" stop-color="#ffa900"/></linearGradient>
<linearGradient id="u93" x1="0" y1="0" x2="0" y2="1"><stop offset="0" stop-color="#008aff"/><stop offset="0.064" stop-color="#009eff"/><stop offset="0.132" stop-color="#00b3ff"/><stop offset="0.174" stop-color="#00c5ff"/><stop offset="0.215" stop-color="#00d7ff"/><stop offset="0.268" stop-color="#0bf3ec"/><stop offset="0.321" stop-color="#22ffd4"/><stop offset="0.377" stop-color="#3cffbb"/><stop offset="0.434" stop-color="#56ffa1"/><stop offset="0.491" stop-color="#73ff84"/><stop offset="0.547" stop-color="#90ff67"/><stop offset="0.604" stop-color="#a3ff53"/><stop offset="0.66" stop-color="#b7ff40"/><stop offset="0.717" stop-color="#cfff27"/><stop offset="0.774" stop-color="#e8ff0f"/><stop offset="0.83" stop-color="#ffea00"/><stop offset="0.887" stop-color="#ffcc00"/><stop offset="0.943" stop-color="#ffbb00"/><stop offset="1" stop-color="#ffa900"/></linearGradient>
<linearGradient id="u94" x1="0" y1="0" x2="0" y2="1"><stop offset="0" stop-color="#008cff"/><stop offset="0.064" stop-color="#009fff"/><stop offset="0.132" stop-color="#00b3ff"/><stop offset="0.174" stop-color="#00c5ff"/><stop offset="0.215" stop-color="#00d7ff"/><stop offset="0.268" stop-color="#0bf4eb"/><stop offset="0.321" stop-color="#22ffd5"/><stop offset="0.377" stop-color="#3cffbb"/><stop offset="0.434" stop-color="#56ffa1"/><stop offset="0.491" stop-color="#72ff84"/><stop offset="0.547" stop-color="#8fff68"/><stop offset="0.604" stop-color="#a3ff54"/><stop offset="0.66" stop-color="#b7ff40"/><stop offset="0.717" stop-color="#cfff28"/><stop offset="0.774" stop-color="#e7ff10"/><stop offset="0.83" stop-color="#ffea00"/><stop offset="0.887" stop-color="#ffcc00"/><stop offset="0.943" stop-color="#ffbb00"/><stop offset="1" stop-color="#ffa900"/></linearGradient>
<linearGradient id="u95" x1="0" y1="0" x2="0" y2="1"><stop offset="0" stop-color="#008dff"/><stop offset="0.064" stop-color="#00a0ff"/><stop offset="0.132" stop-color="#00b4ff"/><stop offset="0.174" stop-color="#00c6ff"/><stop offset="0.215" stop-color="#00d8ff"/><stop offset="0.268" stop-color="#0bf4eb"/><stop offset="0.321" stop-color="#22ffd5"/><stop offset="0.377" stop-color="#3cffbb"/><stop offset="0.434" stop-color="#55ffa2"/><stop offset="0.491" stop-color="#72ff85"/><stop offset="0.547" stop-color="#8fff68"/><stop offset="0.604" stop-color="#a3ff54"/><stop offset="0.66" stop-color="#b6ff40"/><stop offset="0.717" stop-color="#cfff28"/><stop offset="0.774" stop-color="#e7ff10"/><stop offset="0.83" stop-color="#ffea00"/><stop offset="0.887" stop-color="#ffcd00"/><stop offset="0.943" stop-color="#ffbb00"/><stop offset="1" stop-color="#ffa900"/></linearGradient>
<linearGradient id="u96" x1="0" y1="0" x2="0" y2="1"><stop offset="0" stop-color="#008eff"/><stop offset="0.064" stop-color="#00a1ff"/><stop offset="0.132" stop-color="#00b5ff"/><stop offset="0.174" stop-color="#00c6ff"/><stop offset="0.215" stop-color="#00d8ff"/><stop offset="0.268" stop-color="#0cf4eb"/><stop offset="0.321" stop-color="#22ffd5"/><stop offset="0.377" stop-color="#3bffbb"/><stop offset="0.434" stop-color="#55ffa2"/><stop offset="0.491" stop-color="#72ff85"/><stop offset="0.547" stop-color="#8eff68"/><stop offset="0.604" stop-color="#a2ff55"/><stop offset="0.66" stop-color="#b6ff41"/><stop offset="0.717" stop-color="#ceff29"/><stop offset="0.774" stop-color="#e6ff10"/><stop offset="0.83" stop-color="#ffeb00"/><stop offset="0.887" stop-color="#ffcd00"/><stop offset="0.943" stop-color="#ffbb00"/><stop offset="1" stop-color="#ffa900"/></linearGradient>
<linearGradient id="u97" x1="0" y1="0" x2="0" y2="1"><stop offset="0" stop-color="#008fff"/><stop offset="0.064" stop-color="#00a1ff"/><stop offset="0.132" stop-color="#00b5ff"/><stop offset="0.174" stop-color="#00c7ff"/><stop offset="0.215" stop-color="#00d9ff"/><stop offset="0.268" stop-color="#0cf4eb"/><stop offset="0.321" stop-color="#22ffd5"/><stop offset="0.377" stop-color="#3bffbc"/><stop offset="0.434" stop-color="#54ffa2"/><stop offset="0.491" stop-color="#71ff86"/><stop offset="0.547" stop-color="#8eff69"/><stop offset="0.604" stop-color="#a2ff55"/><stop offset="0.66" stop-color="#b6ff41"/><stop offset="0.717" stop-color="#ceff29"/><stop offset="0.774" stop-color="#e6ff11"/><stop offset="0.83" stop-color="#ffeb00"/><stop offset="0.887" stop-color="#ffcd00"/><stop offset="0.943" stop-color="#ffbb00"/><stop offset="1" stop-color="#ffaa00"/></linearGradient>
<linearGradient id="u98" x1="0" y1="0" x2="0" y2="1"><stop offset="0" stop-color="#0090ff"/><stop offset="0.064" stop-color="#00a2ff"/><stop offset="0.132" stop-color="#00b6ff"/><stop offset="0.174" stop-color="#00c7ff"/><stop offset="0.215" stop-color="#00d9ff"/><stop offset="0.268" stop-color="#0cf4eb"/><stop offset="0.321" stop-color="#22ffd5"/><stop offset="0.377" stop-color="#3bffbc"/><stop offset="0.434" stop-color="#54ffa3"/><stop offset="0.491" stop-color="#71ff86"/><stop offset="0.547" stop-color="#8dff69"/><stop offset="0.604" stop-color="#a1ff55"/><stop offset="0.66" stop-color="#b5ff41"/><stop offset="0.717" stop-color="#cdff29"/><stop offset="0.774" stop-color="#e5ff11"/><stop offset="0.83" stop-color="#ffeb00"/><stop offset="0.887" stop-color="#ffcd00"/><stop offset="0.943" stop-color="#ffbb00"/><stop offset="1" stop-color="#ffaa00"/></linearGradient>
<linearGradient id="u99" x1="0" y1="0" x2="0" y2="1"><stop offset="0" stop-color="#0091ff"/><stop offset="0.064" stop-color="#00a3ff"/><stop offset="0.132" stop-color="#00b6ff"/><stop offset="0.174" stop-color="#00c8ff"/><stop offset="0.215" stop-color="#00daff"/><stop offset="0.268" stop-color="#0cf4eb"/><stop offset="0.321" stop-color="#21ffd5"/><stop offset="0.377" stop-color="#3affbc"/><stop offset="0.434" stop-color="#53ffa3"/><stop offset="0.491" stop-color="#70ff87"/><stop offset="0.547" stop-color="#8dff6a"/><stop offset="0.604" stop-color="#a1ff56"/><stop offset="0.66" stop-color="#b5ff42"/><stop offset="0.717" stop-color="#cdff2a"/><stop offset="0.774" stop-color="#e5ff12"/><stop offset="0.83" stop-color="#ffec00"/><stop offset="0.887" stop-color="#ffcd00"/><stop offset="0.943" stop-color="#ffbc00"/><stop offset="1" stop-color="#ffaa00"/></linearGradient>
<linearGradient id="u100" x1="0" y1="0" x2="0" y2="1"><stop offset="0" stop-color="#0092ff"/><stop offset="0.064" stop-color="#00a4ff"/><stop offset="0.132" stop-color="#00b7ff"/><stop offset="0.174" stop-color="#00c9ff"/><stop offset="0.215" stop-color="#00daff"/><stop offset="0.268" stop-color="#0cf5eb"/><stop offset="0.321" stop-color="#21ffd6"/><stop offset="0.377" stop-color="#3affbd"/><stop offset="0.434" stop-color="#53ffa4"/><stop offset="0.491" stop-color="#70ff87"/><stop offset="0.547" stop-color="#8dff6a"/><stop offset="0.604" stop-color="#a1ff56"/><stop offset="0.66" stop-color="#b5ff42"/><stop offset="0.717" stop-color="#cdff2a"/><stop offset="0.774" stop-color="#e5ff12"/><stop offset="0.83" stop-color="#ffec00"/><stop offset="0.887" stop-color="#ffce00"/><stop offset="0.943" stop-color="#ffbc00"/><stop offset="1" stop-color="#ffaa00"/></linearGradient>
<linearGradient id="u101" x1="0" y1="0" x2="0" y2="1"><stop offset="0" stop-color="#0093ff"/><stop offset="0.064" stop-color="#00a5ff"/><stop offset="0.132" stop-color="#00b7ff"/><stop offset="0.174" stop-color="#00c9ff"/><stop offset="0.215" stop-color="#00dbff"/><stop offset="0.268" stop-color="#0cf5eb"/><stop offset="0.321" stop-color="#21ffd6"/><stop offset="0.377" stop-color="#3affbd"/><stop offset="0.434" stop-color="#52ffa4"/><stop offset="0.491" stop-color="#6fff88"/><stop offset="0.547" stop-color="#8cff6b"/><stop offset="0.604" stop-color="#a0ff57"/><stop offset="0.66" stop-color="#b4ff42"/><stop offset="0.717" stop-color="#ccff2b"/><stop offset="0.774" stop-color="#e4ff13"/><stop offset="0.83" stop-color="#ffec00"/><stop offset="0.887" stop-color="#ffce00"/><stop offset="0.943" stop-color="#ffbc00"/><stop offset="1" stop-color="#ffaa00"/></linearGradient>
<linearGradient id="la" x1="0" y1="0" x2="0" y2="1"><stop offset="0" stop-color="#ffa500"/><stop offset="0.06" stop-color="#ff9d00"/><stop offset="0.13" stop-color="#ff9200"/><stop offset="0.18" stop-color="#ff8f00"/><stop offset="0.22" stop-color="#ff8c00"/><stop offset="0.26" stop-color="#ff8f00"/><stop offset="0.31" stop-color="#ff9200"/><stop offset="0.36" stop-color="#ff9c00"/><stop offset="0.404" stop-color="#ffa500"/><stop offset="0.445" stop-color="#ffb900"/><stop offset="0.486" stop-color="#ffcc00"/><stop offset="0.52" stop-color="#ffdf00"/><stop offset="0.552" stop-color="#fbf100"/><stop offset="0.58" stop-color="#e6ff10"/><stop offset="0.62" stop-color="#c6ff31"/><stop offset="0.662" stop-color="#a5ff52"/><stop offset="0.695" stop-color="#84ff73"/><stop offset="0.728" stop-color="#63ff94"/><stop offset="0.75" stop-color="#46ffb1"/><stop offset="0.772" stop-color="#29ffce"/><stop offset="0.8" stop-color="#08f0ef"/><stop offset="0.82" stop-color="#00c2ff"/><stop offset="0.838" stop-color="#0099ff"/><stop offset="0.855" stop-color="#0072ff"/><stop offset="0.871" stop-color="#004dff"/><stop offset="0.888" stop-color="#0020ff"/><stop offset="0.904" stop-color="#0000ff"/><stop offset="0.918" stop-color="#0000e2"/><stop offset="0.932" stop-color="#0000bf"/><stop offset="0.943" stop-color="#00009f"/><stop offset="0.954" stop-color="#000080"/><stop offset="0.97" stop-color="#000080"/><stop offset="0.986" stop-color="#000080"/><stop offset="1" stop-color="#000080"/></linearGradient>
<linearGradient id="lt0" x1="0" y1="0" x2="0" y2="1"><stop offset="0" stop-color="#ffa500"/><stop offset="0.06" stop-color="#ff9d00"/><stop offset="0.13" stop-color="#ff9200"/><stop offset="0.18" stop-color="#ff8f00"/><stop offset="0.22" stop-color="#ff8c00"/><stop offset="0.26" stop-color="#ff8f00"/><stop offset="0.31" stop-color="#ff9200"/><stop offset="0.36" stop-color="#ff9c00"/><stop offset="0.404" stop-color="#ffa500"/><stop offset="0.445" stop-color="#ffb800"/><stop offset="0.486" stop-color="#ffcc00"/><stop offset="0.52" stop-color="#ffdf00"/><stop offset="0.552" stop-color="#fbf100"/><stop offset="0.58" stop-color="#e7ff10"/><stop offset="0.62" stop-color="#c6ff30"/><stop offset="0.662" stop-color="#a5ff52"/><stop offset="0.695" stop-color="#84ff73"/><stop offset="0.728" stop-color="#63ff94"/><stop offset="0.75" stop-color="#46ffb0"/><stop offset="0.772" stop-color="#2affcd"/><stop offset="0.8" stop-color="#09f0ee"/><stop offset="0.82" stop-color="#00c3ff"/><stop offset="0.838" stop-color="#009aff"/><stop offset="0.855" stop-color="#0072ff"/><stop offset="0.871" stop-color="#004dff"/><stop offset="0.888" stop-color="#0021ff"/><stop offset="0.904" stop-color="#0000ff"/><stop offset="0.918" stop-color="#0000e3"/><stop offset="0.932" stop-color="#0000c0"/><stop offset="0.943" stop-color="#0000a0"/><stop offset="0.954" stop-color="#000080"/><stop offset="0.97" stop-color="#000080"/><stop offset="0.986" stop-color="#000080"/><stop offset="1" stop-color="#000080"/></linearGradient>
<linearGradient id="lt1" x1="0" y1="0" x2="0" y2="1"><stop offset="0" stop-color="#ffa500"/><stop offset="0.06" stop-color="#ff9d00"/><stop offset="0.13" stop-color="#ff9200"/><stop offset="0.18" stop-color="#ff8f00"/><stop offset="0.22" stop-color="#ff8c00"/><stop offset="0.26" stop-color="#ff8f00"/><stop offset="0.31" stop-color="#ff9200"/><stop offset="0.36" stop-color="#ff9c00"/><stop offset="0.404" stop-color="#ffa500"/><stop offset="0.445" stop-color="#ffb700"/><stop offset="0.486" stop-color="#ffcb00"/><stop offset="0.52" stop-color="#ffde00"/><stop offset="0.552" stop-color="#fcef00"/><stop offset="0.58" stop-color="#e8ff0f"/><stop offset="0.62" stop-color="#c8ff2e"/><stop offset="0.662" stop-color="#a7ff50"/><stop offset="0.695" stop-color="#86ff71"/><stop offset="0.728" stop-color="#65ff91"/><stop offset="0.75" stop-color="#49ffad"/><stop offset="0.772" stop-color="#2dffca"/><stop offset="0.8" stop-color="#0bf3eb"/><stop offset="0.82" stop-color="#00c8ff"/><stop offset="0.838" stop-color="#009fff"/><stop offset="0.855" stop-color="#0078ff"/><stop offset="0.871" stop-color="#0053ff"/><stop offset="0.888" stop-color="#0027ff"/><stop offset="0.904" stop-color="#0000ff"/><stop offset="0.918" stop-color="#0000e8"/><stop offset="0.932" stop-color="#0000c6"/><stop offset="0.943" stop-color="#0000a7"/><stop offset="0.954" stop-color="#000087"/><stop offset="0.97" stop-color="#000080"/><stop offset="0.986" stop-color="#000080"/><stop offset="1" stop-color="#000080"/></linearGradient>
<linearGradient id="lt2" x1="0" y1="0" x2="0" y2="1"><stop offset="0" stop-color="#ffa500"/><stop offset="0.06" stop-color="#ff9d00"/><stop offset="0.13" stop-color="#ff9200"/><stop offset="0.18" stop-color="#ff8f00"/><stop offset="0.22" stop-color="#ff8c00"/><stop offset="0.26" stop-color="#ff8f00"/><stop offset="0.31" stop-color="#ff9200"/><stop offset="0.36" stop-color="#ff9b00"/><stop offset="0.404" stop-color="#ffa400"/><stop offset="0.445" stop-color="#ffb600"/><stop offset="0.486" stop-color="#ffc900"/><stop offset="0.52" stop-color="#ffdb00"/><stop offset="0.552" stop-color="#feed00"/><stop offset="0.58" stop-color="#ebff0c"/><stop offset="0.62" stop-color="#ccff2b"/><stop offset="0.662" stop-color="#aaff4d"/><stop offset="0.695" stop-color="#8aff6d"/><stop offset="0.728" stop-color="#69ff8e"/><stop offset="0.75" stop-color="#4fffa8"/><stop offset="0.772" stop-color="#32ffc5"/><stop offset="0.8" stop-color="#10f9e7"/><stop offset="0.82" stop-color="#00d1ff"/><stop offset="0.838" stop-color="#00a8ff"/><stop offset="0.855" stop-color="#0081ff"/><stop offset="0.871" stop-color="#005cff"/><stop offset="0.888" stop-color="#0031ff"/><stop offset="0.904" stop-color="#0007ff"/><stop offset="0.918" stop-color="#0000f2"/><stop offset="0.932" stop-color="#0000d0"/><stop offset="0.943" stop-color="#0000b2"/><stop offset="0.954" stop-color="#000093"/><stop offset="0.97" stop-color="#000080"/><stop offset="0.986" stop-color="#000080"/><stop offset="1" stop-color="#000080"/></linearGradient>
<linearGradient id="lt3" x1="0" y1="0" x2="0" y2="1"><stop offset="0" stop-color="#ffa500"/><stop offset="0.06" stop-color="#ff9c00"/><stop offset="0.13" stop-color="#ff9200"/><stop offset="0.18" stop-color="#ff8e00"/><stop offset="0.22" stop-color="#ff8b00"/><stop offset="0.26" stop-color="#ff8d00"/><stop offset="0.31" stop-color="#ff9100"/><stop offset="0.36" stop-color="#ff9a00"/><stop offset="0.404" stop-color="#ffa300"/><stop offset="0.445" stop-color="#ffb300"/><stop offset="0.486" stop-color="#ffc600"/><stop offset="0.52" stop-color="#ffd800"/><stop offset="0.552" stop-color="#ffea00"/><stop offset="0.58" stop-color="#efff08"/><stop offset="0.62" stop-color="#d0ff27"/><stop offset="0.662" stop-color="#aeff49"/><stop offset="0.695" stop-color="#8fff68"/><stop offset="0.728" stop-color="#6eff88"/><stop offset="0.75" stop-color="#55ffa2"/><stop offset="0.772" stop-color="#38ffbe"/><stop offset="0.8" stop-color="#16ffe1"/><stop offset="0.82" stop-color="#00ddfe"/><stop offset="0.838" stop-color="#00b4ff"/><stop offset="0.855" stop-color="#008dff"/><stop offset="0.871" stop-color="#0068ff"/><stop offset="0.888" stop-color="#003eff"/><stop offset="0.904" stop-color="#0014ff"/><stop offset="0.918" stop-color="#0000ff"/><stop offset="0.932" stop-color="#0000dc"/><stop offset="0.943" stop-color="#0000c1"/><stop offset="0.954" stop-color="#0000a1"/><stop offset="0.97" stop-color="#000080"/><stop offset="0.986" stop-color="#000080"/><stop offset="1" stop-color="#000080"/></linearGradient>
<linearGradient id="lt4" x1="0" y1="0" x2="0" y2="1"><stop offset="0" stop-color="#ffa500"/><stop offset="0.06" stop-color="#ff9c00"/><stop offset="0.13" stop-color="#ff9100"/><stop offset="0.18" stop-color="#ff8c00"/><stop offset="0.22" stop-color="#ff8900"/><stop offset="0.26" stop-color="#ff8c00"/><stop offset="0.31" stop-color="#ff8f00"/><stop offset="0.36" stop-color="#ff9800"/><stop offset="0.404" stop-color="#ffa100"/><stop offset="0.445" stop-color="#ffb000"/><stop offset="0.486" stop-color="#ffc400"/><stop offset="0.52" stop-color="#ffd500"/><stop offset="0.552" stop-color="#ffe700"/><stop offset="0.58" stop-color="#f3fa04"/><stop offset="0.62" stop-color="#d4ff23"/><stop offset="0.662" stop-color="#b2ff44"/><stop offset="0.695" stop-color="#95ff62"/><stop offset="0.728" stop-color="#74ff83"/><stop offset="0.75" stop-color="#5cff9a"/><stop offset="0.772" stop-color="#40ffb7"/><stop offset="0.8" stop-color="#1cffda"/><stop offset="0.82" stop-color="#03e9f4"/><stop offset="0.838" stop-color="#00c0ff"/><stop offset="0.855" stop-color="#0099ff"/><stop offset="0.871" stop-color="#0074ff"/><stop offset="0.888" stop-color="#004dff"/><stop offset="0.904" stop-color="#0023ff"/><stop offset="0.918" stop-color="#0000ff"/><stop offset="0.932" stop-color="#0000ea"/><stop offset="0.943" stop-color="#0000cf"/><stop offset="0.954" stop-color="#0000b1"/><stop offset="0.97" stop-color="#000083"/><stop offset="0.986" stop-color="#000080"/><stop offset="1" stop-color="#000080"/></linearGradient>
<linearGradient id="lt5" x1="0" y1="0" x2="0" y2="1"><stop offset="0" stop-color="#ffa500"/><stop offset="0.06" stop-color="#ff9c00"/><stop offset="0.13" stop-color="#ff8f00"/><stop offset="0.18" stop-color="#ff8a00"/><stop offset="0.22" stop-color="#ff8700"/><stop offset="0.26" stop-color="#ff8900"/><stop offset="0.31" stop-color="#ff8d00"/><stop offset="0.36" stop-color="#ff9500"/><stop offset="0.404" stop-color="#ff9f00"/><stop offset="0.445" stop-color="#ffae00"/><stop offset="0.486" stop-color="#ffc100"/><stop offset="0.52" stop-color="#ffd200"/><stop offset="0.552" stop-color="#ffe400"/><stop offset="0.58" stop-color="#f7f500"/><stop offset="0.62" stop-color="#d8ff1e"/><stop offset="0.662" stop-color="#b7ff40"/><stop offset="0.695" stop-color="#9aff5d"/><stop offset="0.728" stop-color="#79ff7e"/><stop offset="0.75" stop-color="#63ff93"/><stop offset="0.772" stop-color="#47ffb0"/><stop offset="0.8" stop-color="#23ffd4"/><stop offset="0.82" stop-color="#0bf4eb"/><stop offset="0.838" stop-color="#00cdff"/><stop offset="0.855" stop-color="#00a6ff"/><stop offset="0.871" stop-color="#0081ff"/><stop offset="0.888" stop-color="#005aff"/><stop offset="0.904" stop-color="#0031ff"/><stop offset="0.918" stop-color="#000cff"/><stop offset="0.932" stop-color="#0000f7"/><stop offset="0.943" stop-color="#0000dc"/><stop offset="0.954" stop-color="#0000c1"/><stop offset="0.97" stop-color="#000093"/><stop offset="0.986" stop-color="#000080"/><stop offset="1" stop-color="#000080"/></linearGradient>
<linearGradient id="lt6" x1="0" y1="0" x2="0" y2="1"><stop offset="0" stop-color="#ffa500"/><stop offset="0.06" stop-color="#ff9c00"/><stop offset="0.13" stop-color="#ff8e00"/><stop offset="0.18" stop-color="#ff8800"/><stop offset="0.22" stop-color="#ff8500"/><stop offset="0.26" stop-color="#ff8700"/><stop offset="0.31" stop-color="#ff8b00"/><stop offset="0.36" stop-color="#ff9300"/><stop offset="0.404" stop-color="#ff9d00"/><stop offset="0.445" stop-color="#ffab00"/><stop offset="0.486" stop-color="#ffbf00"/><stop offset="0.52" stop-color="#ffd000"/><stop offset="0.552" stop-color="#ffe200"/><stop offset="0.58" stop-color="#faf100"/><stop offset="0.62" stop-color="#dcff1b"/><stop offset="0.662" stop-color="#baff3c"/><stop offset="0.695" stop-color="#9fff58"/><stop offset="0.728" stop-color="#7eff79"/><stop offset="0.75" stop-color="#68ff8f"/><stop offset="0.772" stop-color="#4dffaa"/><stop offset="0.8" stop-color="#28ffce"/><stop offset="0.82" stop-color="#11fae6"/><stop offset="0.838" stop-color="#00d7ff"/><stop offset="0.855" stop-color="#00b0ff"/><stop offset="0.871" stop-color="#008cff"/><stop offset="0.888" stop-color="#0064ff"/><stop offset="0.904" stop-color="#003eff"/><stop offset="0.918" stop-color="#0019ff"/><stop offset="0.932" stop-color="#0000ff"/><stop offset="0.943" stop-color="#0000e8"/><stop offset="0.954" stop-color="#0000cc"/><stop offset="0.97" stop-color="#0000a0"/><stop offset="0.986" stop-color="#000080"/><stop offset="1" stop-color="#000080"/></linearGradient>
<linearGradient id="lt7" x1="0" y1="0" x2="0" y2="1"><stop offset="0" stop-color="#ffa500"/><stop offset="0.06" stop-color="#ff9c00"/><stop offset="0.13" stop-color="#ff8d00"/><stop offset="0.18" stop-color="#ff8700"/><stop offset="0.22" stop-color="#ff8300"/><stop offset="0.26" stop-color="#ff8500"/><stop offset="0.31" stop-color="#ff8900"/><stop offset="0.36" stop-color="#ff9100"/><stop offset="0.404" stop-color="#ff9c00"/><stop offset="0.445" stop-color="#ffaa00"/><stop offset="0.486" stop-color="#ffbe00"/><stop offset="0.52" stop-color="#ffce00"/><stop offset="0.552" stop-color="#ffe000"/><stop offset="0.58" stop-color="#fcef00"/><stop offset="0.62" stop-color="#dfff18"/><stop offset="0.662" stop-color="#bdff3a"/><stop offset="0.695" stop-color="#a2ff55"/><stop offset="0.728" stop-color="#81ff76"/><stop offset="0.75" stop-color="#6bff8b"/><stop offset="0.772" stop-color="#51ffa6"/><stop offset="0.8" stop-color="#2dffca"/><stop offset="0.82" stop-color="#15ffe2"/><stop offset="0.838" stop-color="#00dffc"/><stop offset="0.855" stop-color="#00b8ff"/><stop offset="0.871" stop-color="#0093ff"/><stop offset="0.888" stop-color="#006cff"/><stop offset="0.904" stop-color="#0046ff"/><stop offset="0.918" stop-color="#0021ff"/><stop offset="0.932" stop-color="#0000ff"/><stop offset="0.943" stop-color="#0000f0"/><stop offset="0.954" stop-color="#0000d5"/><stop offset="0.97" stop-color="#0000aa"/><stop offset="0.986" stop-color="#000080"/><stop offset="1" stop-color="#000080"/></linearGradient>
<linearGradient id="lt8" x1="0" y1="0" x2="0" y2="1"><stop offset="0" stop-color="#ffa500"/><stop offset="0.06" stop-color="#ff9c00"/><stop offset="0.13" stop-color="#ff8c00"/><stop offset="0.18" stop-color="#ff8500"/><stop offset="0.22" stop-color="#ff8100"/><stop offset="0.26" stop-color="#ff8300"/><stop offset="0.31" stop-color="#ff8700"/><stop offset="0.36" stop-color="#ff9000"/><stop offset="0.404" stop-color="#ff9b00"/><stop offset="0.445" stop-color="#ffa900"/><stop offset="0.486" stop-color="#ffbd00"/><stop offset="0.52" stop-color="#ffcd00"/><stop offset="0.552" stop-color="#ffdf00"/><stop offset="0.58" stop-color="#fdef00"/><stop offset="0.62" stop-color="#e0ff17"/><stop offset="0.662" stop-color="#beff39"/><stop offset="0.695" stop-color="#a4ff53"/><stop offset="0.728" stop-color="#83ff74"/><stop offset="0.75" stop-color="#6dff8a"/><stop offset="0.772" stop-color="#53ffa4"/><stop offset="0.8" stop-color="#2effc8"/><stop offset="0.82" stop-color="#16ffe0"/><stop offset="0.838" stop-color="#00e2fa"/><stop offset="0.855" stop-color="#00bbff"/><stop offset="0.871" stop-color="#0097ff"/><stop offset="0.888" stop-color="#006fff"/><stop offset="0.904" stop-color="#004aff"/><stop offset="0.918" stop-color="#0025ff"/><stop offset="0.932" stop-color="#0000ff"/><stop offset="0.943" stop-color="#0000f3"/><stop offset="0.954" stop-color="#0000d8"/><stop offset="0.97" stop-color="#0000ae"/><stop offset="0.986" stop-color="#000080"/><stop offset="1" stop-color="#000080"/></linearGradient>
<linearGradient id="lt9" x1="0" y1="0" x2="0" y2="1"><stop offset="0" stop-color="#ffa500"/><stop offset="0.06" stop-color="#ff9c00"/><stop offset="0.13" stop-color="#ff8c00"/><stop offset="0.18" stop-color="#ff8500"/><stop offset="0.22" stop-color="#ff8100"/><stop offset="0.26" stop-color="#ff8300"/><stop offset="0.31" stop-color="#ff8700"/><stop offset="0.36" stop-color="#ff9000"/><stop offset="0.404" stop-color="#ff9b00"/><stop offset="0.445" stop-color="#ffa900"/><stop offset="0.486" stop-color="#ffbd00"/><stop offset="0.52" stop-color="#ffcd00"/><stop offset="0.552" stop-color="#ffdf00"/><stop offset="0.58" stop-color="#fdef00"/><stop offset="0.62" stop-color="#e0ff17"/><stop offset="0.662" stop-color="#beff39"/><stop offset="0.695" stop-color="#a4ff53"/><stop offset="0.728" stop-color="#83ff74"/><stop offset="0.75" stop-color="#6dff8a"/><stop offset="0.772" stop-color="#53ffa4"/><stop offset="0.8" stop-color="#2effc8"/><stop offset="0.82" stop-color="#16ffe0"/><stop offset="0.838" stop-color="#00e2fa"/><stop offset="0.855" stop-color="#00bbff"/><stop offset="0.871" stop-color="#0097ff"/><stop offset="0.888" stop-color="#006fff"/><stop offset="0.904" stop-color="#004aff"/><stop offset="0.918" stop-color="#0025ff"/><stop offset="0.932" stop-color="#0000ff"/><stop offset="0.943" stop-color="#0000f3"/><stop offset="0.954" stop-color="#0000d8"/><stop offset="0.97" stop-color="#0000ae"/><stop offset="0.986" stop-color="#000080"/><stop offset="1" stop-color="#000080"/></linearGradient>
<linearGradient id="lb" x1="0" y1="0" x2="0" y2="1"><stop offset="0" stop-color="#ffa900"/><stop offset="0.06" stop-color="#ff9c00"/><stop offset="0.13" stop-color="#ff8c00"/><stop offset="0.18" stop-color="#ff8500"/><stop offset="0.22" stop-color="#ff8100"/><stop offset="0.26" stop-color="#ff8300"/><stop offset="0.31" stop-color="#ff8700"/><stop offset="0.36" stop-color="#ff9000"/><stop offset="0.404" stop-color="#ff9b00"/><stop offset="0.445" stop-color="#ffa900"/><stop offset="0.486" stop-color="#ffbd00"/><stop offset="0.52" stop-color="#ffcd00"/><stop offset="0.552" stop-color="#ffdf00"/><stop offset="0.58" stop-color="#fdef00"/><stop offset="0.62" stop-color="#e0ff17"/><stop offset="0.662" stop-color="#beff39"/><stop offset="0.695" stop-color="#a4ff53"/><stop offset="0.728" stop-color="#83ff74"/><stop offset="0.75" stop-color="#6dff8a"/><stop offset="0.772" stop-color="#53ffa4"/><stop offset="0.8" stop-color="#2effc8"/><stop offset="0.82" stop-color="#16ffe0"/><stop offset="0.838" stop-color="#00e2fa"/><stop offset="0.855" stop-color="#00bbff"/><stop offset="0.871" stop-color="#0097ff"/><stop offset="0.888" stop-color="#006fff"/><stop offset="0.904" stop-color="#004aff"/><stop offset="0.918" stop-color="#0025ff"/><stop offset="0.932" stop-color="#0000ff"/><stop offset="0.943" stop-color="#0000f3"/><stop offset="0.954" stop-color="#0000d8"/><stop offset="0.97" stop-color="#0000ae"/><stop offset="0.986" stop-color="#000080"/><stop offset="1" stop-color="#000080"/></linearGradient>
</defs>
<g shape-rendering="crispEdges">
<rect x="200" y="400" width="714" height="55" fill="#000080"/>
<rect x="200" y="167.5" width="7" height="132.5" fill="url(#u0)"/>
<rect x="207" y="167.5" width="7" height="132.5" fill="url(#u1)"/>
<rect x="214" y="167.5" width="7" height="132.5" fill="url(#u2)"/>
<rect x="221" y="167.5" width="7" height="132.5" fill="url(#u3)"/>
<rect x="228" y="167.5" width="7" height="132.5" fill="url(#u4)"/>
<rect x="235" y="167.5" width="7" height="132.5" fill="url(#u5)"/>
<rect x="242" y="167.5" width="7" height="132.5" fill="url(#u6)"/>
<rect x="249" y="167.5" width="7" height="132.5" fill="url(#u7)"/>
<rect x="256" y="167.5" width="7" height="132.5" fill="url(#u8)"/>
<rect x="263" y="167.5" width="7" height="132.5" fill="url(#u9)"/>
<rect x="270" y="167.5" width="7" height="132.5" fill="url(#u10)"/>
<rect x="277" y="167.5" width="7" height="132.5" fill="url(#u11)"/>
<rect x="284" y="167.5" width="7" height="132.5" fill="url(#u12)"/>
<rect x="291" y="167.5" width="7" height="132.5" fill="url(#u13)"/>
<rect x="298" y="167.5" width="7" height="132.5" fill="url(#u14)"/>
<rect x="305" y="167.5" width="7" height="132.5" fill="url(#u15)"/>
<rect x="312" y="167.5" width="7" height="132.5" fill="url(#u16)"/>
<rect x="319" y="167.5" width="7" height="132.5" fill="url(#u17)"/>
<rect x="326" y="167.5" width="7" height="132.5" fill="url(#u18)"/>
<rect x="333" y="167.5" width="7" height="132.5" fill="url(#u19)"/>
<rect x="340" y="167.5" width="7" height="132.5" fill="url(#u20)"/>
<rect x="347" y="167.5" width="7" height="132.5" fill="url(#u21)"/>
<rect x="354" y="167.5" width="7" height="132.5" fill="url(#u22)"/>
<rect x="361" y="167.5" width="7" height="132.5" fill="url(#u23)"/>
<rect x="368" y="167.5" width="7" height="132.5" fill="url(#u24)"/>
<rect x="375" y="167.5" width="7" height="132.5" fill="url(#u25)"/>
<rect x="382" y="167.5" width="7" height="132.5" fill="url(#u26)"/>
<rect x="389" y="167.5" width="7" height="132.5" fill="url(#u27)"/>
<rect x="396" y="167.5" width="7" height="132.5" fill="url(#u28)"/>
<rect x="403" y="167.5" width="7" height="132.5" fill="url(#u29)"/>
<rect x="410" y="167.5" width="7" height="132.5" fill="url(#u30)"/>
<rect x="417" y="167.5" width="7" height="132.5" fill="url(#u31)"/>
<rect x="424" y="167.5" width="7" height="132.5" fill="url(#u32)"/>
<rect x="431" y="167.5" width="7" height="132.5" fill="url(#u33)"/>
<rect x="438" y="167.5" width="7" height="132.5" fill="url(#u34)"/>
<rect x="445" y="167.5" width="7" height="132.5" fill="url(#u35)"/>
<rect x="452" y="167.5" width="7" height="132.5" fill="url(#u36)"/>
<rect x="459" y="167.5" width="7" height="132.5" fill="url(#u37)"/>
<rect x="466" y="167.5" width="7" height="132.5" fill="url(#u38)"/>
<rect x="473" y="167.5" width="7" height="132.5" fill="url(#u39)"/>
<rect x="480" y="167.5" width="7" height="132.5" fill="url(#u40)"/>
<rect x="487" y="167.5" width="7" height="132.5" fill="url(#u41)"/>
<rect x="494" y="167.5" width="7" height="132.5" fill="url(#u42)"/>
<rect x="501" y="167.5" width="7" height="132.5" fill="url(#u43)"/>
<rect x="508" y="167.5" width="7" height="132.5" fill="url(#u44)"/>
<rect x="515" y="167.5" width="7" height="132.5" fill="url(#u45)"/>
<rect x="522" y="167.5" width="7" height="132.5" fill="url(#u46)"/>
<rect x="529" y="167.5" width="7" height="132.5" fill="url(#u47)"/>
<rect x="536" y="167.5" width="7" height="132.5" fill="url(#u48)"/>
<rect x="543" y="167.5" width="7" height="132.5" fill="url(#u49)"/>
<rect x="550" y="167.5" width="7" height="132.5" fill="url(#u50)"/>
<rect x="557" y="167.5" width="7" height="132.5" fill="url(#u51)"/>
<rect x="564" y="167.5" width="7" height="132.5" fill="url(#u52)"/>
<rect x="571" y="167.5" width="7" height="132.5" fill="url(#u53)"/>
<rect x="578" y="167.5" width="7" height="132.5" fill="url(#u54)"/>
<rect x="585" y="167.5" width="7" height="132.5" fill="url(#u55)"/>
<rect x="592" y="167.5" width="7" height="132.5" fill="url(#u56)"/>
<rect x="599" y="167.5" width="7" height="132.5" fill="url(#u57)"/>
<rect x="606" y="167.5" width="7" height="132.5" fill="url(#u58)"/>
<rect x="613" y="167.5" width="7" height="132.5" fill="url(#u59)"/>
<rect x="620" y="167.5" width="7" height="132.5" fill="url(#u60)"/>
<rect x="627" y="167.5" width="7" height="132.5" fill="url(#u61)"/>
<rect x="634" y="167.5" width="7" height="132.5" fill="url(#u62)"/>
<rect x="641" y="167.5" width="7" height="132.5" fill="url(#u63)"/>
<rect x="648" y="167.5" width="7" height="132.5" fill="url(#u64)"/>
<rect x="655" y="167.5" width="7" height="132.5" fill="url(#u65)"/>
<rect x="662" y="167.5" width="7" height="132.5" fill="url(#u66)"/>
<rect x="669" y="167.5" width="7" height="132.5" fill="url(#u67)"/>
<rect x="676" y="167.5" width="7" height="132.5" fill="url(#u68)"/>
<rect x="683" y="167.5" width="7" height="132.5" fill="url(#u69)"/>
<rect x="690" y="167.5" width="7" height="132.5" fill="url(#u70)"/>
<rect x="697" y="167.5" width="7" height="132.5" fill="url(#u71)"/>
<rect x="704" y="167.5" width="7" height="132.5" fill="url(#u72)"/>
<rect x="711" y="167.5" width="7" height="132.5" fill="url(#u73)"/>
<rect x="718" y="167.5" width="7" height="132.5" fill="url(#u74)"/>
<rect x="725" y="167.5" width="7" height="132.5" fill="url(#u75)"/>
<rect x="732" y="167.5" width="7" height="132.5" fill="url(#u76)"/>
<rect x="739" y="167.5" width="7" height="132.5" fill="url(#u77)"/>
<rect x="746" y="167.5" width="7" height="132.5" fill="url(#u78)"/>
<rect x="753" y="167.5" width="7" height="132.5" fill="url(#u79)"/>
<rect x="760" y="167.5" width="7" height="132.5" fill="url(#u80)"/>
<rect x="767" y="167.5" width="7" height="132.5" fill="url(#u81)"/>
<rect x="774" y="167.5" width="7" height="132.5" fill="url(#u82)"/>
<rect x="781" y="167.5" width="7" height="132.5" fill="url(#u83)"/>
<rect x="788" y="167.5" width="7" height="132.5" fill="url(#u84)"/>
<rect x="795" y="167.5" width="7" height="132.5" fill="url(#u85)"/>
<rect x="802" y="167.5" width="7" height="132.5" fill="url(#u86)"/>
<rect x="809" y="167.5" width="7" height="132.5" fill="url(#u87)"/>
<rect x="816" y="167.5" width="7" height="132.5" fill="url(#u88)"/>
<rect x="823" y="167.5" width="7" height="132.5" fill="url(#u89)"/>
<rect x="830" y="167.5" width="7" height="132.5" fill="url(#u90)"/>
<rect x="837" y="167.5" width="7" height="132.5" fill="url(#u91)"/>
<rect x="844" y="167.5" width="7" height="132.5" fill="url(#u92)"/>
<rect x="851" y="167.5" width="7" height="132.5" fill="url(#u93)"/>
<rect x="858" y="167.5" width="7" height="132.5" fill="url(#u94)"/>
<rect x="865" y="167.5" width="7" height="132.5" fill="url(#u95)"/>
<rect x="872" y="167.5" width="7" height="132.5" fill="url(#u96)"/>
<rect x="879" y="167.5" width="7" height="132.5" fill="url(#u97)"/>
<rect x="886" y="167.5" width="7" height="132.5" fill="url(#u98)"/>
<rect x="893" y="167.5" width="7" height="132.5" fill="url(#u99)"/>
<rect x="900" y="167.5" width="7" height="132.5" fill="url(#u100)"/>
<rect x="907" y="167.5" width="7" height="132.5" fill="url(#u101)"/>
<rect x="200" y="300" width="500" height="100" fill="url(#la)"/>
<rect x="700" y="300" width="7" height="100" fill="url(#lt0)"/>
<rect x="707" y="300" width="7" height="100" fill="url(#lt1)"/>
<rect x="714" y="300" width="7" height="100" fill="url(#lt2)"/>
<rect x="721" y="300" width="7" height="100" fill="url(#lt3)"/>
<rect x="728" y="300" width="7" height="100" fill="url(#lt4)"/>
<rect x="735" y="300" width="7" height="100" fill="url(#lt5)"/>
<rect x="742" y="300" width="7" height="100" fill="url(#lt6)"/>
<rect x="749" y="300" width="7" height="100" fill="url(#lt7)"/>
<rect x="756" y="300" width="7" height="100" fill="url(#lt8)"/>
<rect x="763" y="300" width="7" height="100" fill="url(#lt9)"/>
<rect x="770" y="300" width="144" height="100" fill="url(#lb)"/>
</g>
<line x1="450.7" y1="168" x2="450.7" y2="190" stroke="#0048ff" stroke-width="1.7" stroke-opacity="0.75"/>
<clipPath id="cl1"><rect x="200" y="110" width="714" height="345"/></clipPath>
<polyline fill="none" stroke="#000" stroke-width="2.08" stroke-linejoin="round" stroke-dasharray="7.7 3.33" clip-path="url(#cl1)" points="200.75,228 205.75,222 209.75,220 214.75,218.6 218.75,214 222.75,205 225.75,200 227,199 231,199.4 235,202 239,200 243,198 246,201 250,210 254,217.4 259,218.4 263,219.6 267,225 271,229 275,231 281,232 286,231.6 290,228 295,222 299,220 304,218.6 308,214 312,205 315,200 316.25,199 320.25,199.4 324.25,202 328.25,200 332.25,198 335.25,201 339.25,210 343.25,217.4 348.25,218.4 352.25,219.6 356.25,225 360.25,229 364.25,231 370.25,232 375.25,231.6 379.25,228 384.25,222 388.25,220 393.25,218.6 397.25,214 401.25,205 404.25,200 405.5,199 409.5,199.4 413.5,202 417.5,200 421.5,198 424.5,201 428.5,210 432.5,217.4 437.5,218.4 441.5,219.6 445.5,225 449.5,229 453.5,231 459.5,232 464.5,231.6 468.5,228 473.5,222 477.5,220 482.5,218.6 486.5,214 490.5,205 493.5,200 494.75,199 498.75,199.4 502.75,202 506.75,200 510.75,198 513.75,201 517.75,210 521.75,217.4 526.75,218.4 530.75,219.6 534.75,225 538.75,229 542.75,231 548.75,232 553.75,231.6 557.75,228 562.75,222 566.75,220 571.75,218.6 575.75,214 579.75,205 582.75,200 584,199 588,199.4 592,202 596,200 600,198 603,201 607,210 611,217.4 616,218.4 620,219.6 624,225 628,229 632,231 638,232 643,231.6 647,228 652,222 656,220 661,218.6 665,214 669,205 672,200 673.25,199 677.25,199.4 681.25,202 685.25,200 689.25,198 692.25,201 696.25,210 700.25,217.4 705.25,218.4 709.25,219.6 713.25,225 717.25,229 721.25,231 727.25,232 732.25,231.6 736.25,228 741.25,222 745.25,220 750.25,218.6 754.25,214 758.25,205 761.25,200 762.5,199 766.5,199.4 770.5,202 774.5,200 778.5,198 781.5,201 785.5,210 789.5,217.4 794.5,218.4 798.5,219.6 802.5,225 806.5,229 810.5,231 816.5,232 821.5,231.6 825.5,228 830.5,222 834.5,220 839.5,218.6 843.5,214 847.5,205 850.5,200 851.75,199 855.75,199.4 859.75,202 863.75,200 867.75,198 870.75,201 874.75,210 878.75,217.4 883.75,218.4 887.75,219.6 891.75,225 895.75,229 899.75,231 905.75,232 910.75,231.6 914.75,228"/>
<rect x="233.6" y="110" width="4" height="10.3" fill="#000"/>
<rect x="277.5" y="110" width="4" height="10.3" fill="#f00"/>
<text x="235.6" y="138.5" font-size="13.6" text-anchor="middle" fill="#000">M</text>
<text x="279.5" y="138.5" font-size="13.6" text-anchor="middle" fill="#f00">N</text>
<rect x="322.85" y="110" width="4" height="10.3" fill="#000"/>
<rect x="366.75" y="110" width="4" height="10.3" fill="#f00"/>
<text x="324.85" y="138.5" font-size="13.6" text-anchor="middle" fill="#000">M</text>
<text x="368.75" y="138.5" font-size="13.6" text-anchor="middle" fill="#f00">N</text>
<rect x="412.1" y="110" width="4" height="10.3" fill="#000"/>
<rect x="456" y="110" width="4" height="10.3" fill="#f00"/>
<text x="414.1" y="138.5" font-size="13.6" text-anchor="middle" fill="#000">M</text>
<text x="458" y="138.5" font-size="13.6" text-anchor="middle" fill="#f00">N</text>
<rect x="501.35" y="110" width="4" height="10.3" fill="#000"/>
<rect x="545.25" y="110" width="4" height="10.3" fill="#f00"/>
<text x="503.35" y="138.5" font-size="13.6" text-anchor="middle" fill="#000">M</text>
<text x="547.25" y="138.5" font-size="13.6" text-anchor="middle" fill="#f00">N</text>
<rect x="590.6" y="110" width="4" height="10.3" fill="#000"/>
<rect x="634.5" y="110" width="4" height="10.3" fill="#f00"/>
<text x="592.6" y="138.5" font-size="13.6" text-anchor="middle" fill="#000">M</text>
<text x="636.5" y="138.5" font-size="13.6" text-anchor="middle" fill="#f00">N</text>
<rect x="679.85" y="110" width="4" height="10.3" fill="#000"/>
<rect x="723.75" y="110" width="4" height="10.3" fill="#f00"/>
<text x="681.85" y="138.5" font-size="13.6" text-anchor="middle" fill="#000">M</text>
<text x="725.75" y="138.5" font-size="13.6" text-anchor="middle" fill="#f00">N</text>
<rect x="769.1" y="110" width="4" height="10.3" fill="#000"/>
<rect x="813" y="110" width="4" height="10.3" fill="#f00"/>
<text x="771.1" y="138.5" font-size="13.6" text-anchor="middle" fill="#000">M</text>
<text x="815" y="138.5" font-size="13.6" text-anchor="middle" fill="#f00">N</text>
<line x1="668.3" y1="111" x2="668.3" y2="136.6" stroke="#fff" stroke-width="2.6" stroke-linecap="round"/>
<line x1="825" y1="110" x2="825" y2="455" stroke="#1f77b4" stroke-width="2.08" stroke-dasharray="2.08 3.43"/>
<text transform="translate(888.5,289.4) rotate(-90)" font-size="63.2" text-anchor="middle" fill="#000" fill-opacity="0.12">Forecast</text>
<line x1="248.5" y1="455" x2="248.5" y2="450" stroke="#000" stroke-width="1"/>
<line x1="337.5" y1="455" x2="337.5" y2="450" stroke="#000" stroke-width="1"/>
<line x1="427.5" y1="455" x2="427.5" y2="450" stroke="#000" stroke-width="1"/>
<line x1="516.5" y1="455" x2="516.5" y2="450" stroke="#000" stroke-width="1"/>
<line x1="605.5" y1="455" x2="605.5" y2="450" stroke="#000" stroke-width="1"/>
<line x1="694.5" y1="455" x2="694.5" y2="450" stroke="#000" stroke-width="1"/>
<line x1="784.5" y1="455" x2="784.5" y2="450" stroke="#000" stroke-width="1"/>
<line x1="873.5" y1="455" x2="873.5" y2="450" stroke="#000" stroke-width="1"/>
<text x="195.8" y="462.2" font-size="20" text-anchor="end" fill="#000">2</text>
<line x1="200" y1="397.5" x2="205.8" y2="397.5" stroke="#000" stroke-width="1"/>
<line x1="914" y1="397.5" x2="909.4" y2="397.5" stroke="#000" stroke-width="1"/>
<text x="195.8" y="404.83" font-size="20" text-anchor="end" fill="#000">3</text>
<line x1="200" y1="340.5" x2="205.8" y2="340.5" stroke="#000" stroke-width="1"/>
<line x1="914" y1="340.5" x2="909.4" y2="340.5" stroke="#000" stroke-width="1"/>
<text x="195.8" y="347.47" font-size="20" text-anchor="end" fill="#000">4</text>
<line x1="200" y1="282.5" x2="205.8" y2="282.5" stroke="#000" stroke-width="1"/>
<line x1="914" y1="282.5" x2="909.4" y2="282.5" stroke="#000" stroke-width="1"/>
<text x="195.8" y="290.1" font-size="20" text-anchor="end" fill="#000">5</text>
<line x1="200" y1="225.5" x2="205.8" y2="225.5" stroke="#000" stroke-width="1"/>
<line x1="914" y1="225.5" x2="909.4" y2="225.5" stroke="#000" stroke-width="1"/>
<text x="195.8" y="232.73" font-size="20" text-anchor="end" fill="#000">6</text>
<line x1="200" y1="167.5" x2="205.8" y2="167.5" stroke="#000" stroke-width="1"/>
<line x1="914" y1="167.5" x2="909.4" y2="167.5" stroke="#000" stroke-width="1"/>
<text x="195.8" y="175.37" font-size="20" text-anchor="end" fill="#000">7</text>
<text x="195.8" y="118" font-size="20" text-anchor="end" fill="#000">8</text>
<rect x="200" y="110" width="714" height="345" fill="none" stroke="#000" stroke-width="2"/>
<text transform="translate(173.4,286.4) rotate(-90)" font-size="24.15" text-anchor="middle">L*</text>
<text x="557" y="93" font-size="24.15" text-anchor="middle" fill="#000">2.0 MeV Electron Flux at 88 <tspan font-size="16.9" dy="-8.77">∘</tspan><tspan dy="8.77">  pitch angle ( cm</tspan><tspan font-size="16.9" dy="-8.77">−2</tspan><tspan dy="8.77"> s</tspan><tspan font-size="16.9" dy="-8.77">−1</tspan><tspan dy="8.77"> sr</tspan><tspan font-size="16.9" dy="-8.77">−1</tspan><tspan dy="8.77"> KeV</tspan><tspan font-size="16.9" dy="-8.77">−1</tspan><tspan dy="8.77"> )</tspan></text>
<rect x="959" y="110" width="17" height="345" fill="url(#cb)"/>
<line x1="976" y1="455.5" x2="981.8" y2="455.5" stroke="#000" stroke-width="1"/>
<text x="986.6" y="462.2" font-size="20" text-anchor="start" fill="#000">10<tspan font-size="14" dy="-7.26">−3</tspan></text>
<line x1="976" y1="437.5" x2="981.6" y2="437.5" stroke="#000" stroke-width="1"/>
<line x1="976" y1="427.5" x2="981.6" y2="427.5" stroke="#000" stroke-width="1"/>
<line x1="976" y1="420.5" x2="981.6" y2="420.5" stroke="#000" stroke-width="1"/>
<line x1="976" y1="414.5" x2="981.6" y2="414.5" stroke="#000" stroke-width="1"/>
<line x1="976" y1="410.5" x2="981.6" y2="410.5" stroke="#000" stroke-width="1"/>
<line x1="976" y1="406.5" x2="981.6" y2="406.5" stroke="#000" stroke-width="1"/>
<line x1="976" y1="403.5" x2="981.6" y2="403.5" stroke="#000" stroke-width="1"/>
<line x1="976" y1="400.5" x2="981.6" y2="400.5" stroke="#000" stroke-width="1"/>
<line x1="976" y1="397.5" x2="981.8" y2="397.5" stroke="#000" stroke-width="1"/>
<text x="986.6" y="404.83" font-size="20" text-anchor="start" fill="#000">10<tspan font-size="14" dy="-7.26">−2</tspan></text>
<line x1="976" y1="380.5" x2="981.6" y2="380.5" stroke="#000" stroke-width="1"/>
<line x1="976" y1="370.5" x2="981.6" y2="370.5" stroke="#000" stroke-width="1"/>
<line x1="976" y1="362.5" x2="981.6" y2="362.5" stroke="#000" stroke-width="1"/>
<line x1="976" y1="357.5" x2="981.6" y2="357.5" stroke="#000" stroke-width="1"/>
<line x1="976" y1="352.5" x2="981.6" y2="352.5" stroke="#000" stroke-width="1"/>
<line x1="976" y1="348.5" x2="981.6" y2="348.5" stroke="#000" stroke-width="1"/>
<line x1="976" y1="345.5" x2="981.6" y2="345.5" stroke="#000" stroke-width="1"/>
<line x1="976" y1="342.5" x2="981.6" y2="342.5" stroke="#000" stroke-width="1"/>
<line x1="976" y1="340.5" x2="981.8" y2="340.5" stroke="#000" stroke-width="1"/>
<text x="986.6" y="347.47" font-size="20" text-anchor="start" fill="#000">10<tspan font-size="14" dy="-7.26">−1</tspan></text>
<line x1="976" y1="322.5" x2="981.6" y2="322.5" stroke="#000" stroke-width="1"/>
<line x1="976" y1="312.5" x2="981.6" y2="312.5" stroke="#000" stroke-width="1"/>
<line x1="976" y1="305.5" x2="981.6" y2="305.5" stroke="#000" stroke-width="1"/>
<line x1="976" y1="299.5" x2="981.6" y2="299.5" stroke="#000" stroke-width="1"/>
<line x1="976" y1="295.5" x2="981.6" y2="295.5" stroke="#000" stroke-width="1"/>
<line x1="976" y1="291.5" x2="981.6" y2="291.5" stroke="#000" stroke-width="1"/>
<line x1="976" y1="288.5" x2="981.6" y2="288.5" stroke="#000" stroke-width="1"/>
<line x1="976" y1="285.5" x2="981.6" y2="285.5" stroke="#000" stroke-width="1"/>
<line x1="976" y1="282.5" x2="981.8" y2="282.5" stroke="#000" stroke-width="1"/>
<text x="986.6" y="290.1" font-size="20" text-anchor="start" fill="#000">10<tspan font-size="14" dy="-7.26">0</tspan></text>
<line x1="976" y1="265.5" x2="981.6" y2="265.5" stroke="#000" stroke-width="1"/>
<line x1="976" y1="255.5" x2="981.6" y2="255.5" stroke="#000" stroke-width="1"/>
<line x1="976" y1="247.5" x2="981.6" y2="247.5" stroke="#000" stroke-width="1"/>
<line x1="976" y1="242.5" x2="981.6" y2="242.5" stroke="#000" stroke-width="1"/>
<line x1="976" y1="237.5" x2="981.6" y2="237.5" stroke="#000" stroke-width="1"/>
<line x1="976" y1="233.5" x2="981.6" y2="233.5" stroke="#000" stroke-width="1"/>
<line x1="976" y1="230.5" x2="981.6" y2="230.5" stroke="#000" stroke-width="1"/>
<line x1="976" y1="227.5" x2="981.6" y2="227.5" stroke="#000" stroke-width="1"/>
<line x1="976" y1="225.5" x2="981.8" y2="225.5" stroke="#000" stroke-width="1"/>
<text x="986.6" y="232.73" font-size="20" text-anchor="start" fill="#000">10<tspan font-size="14" dy="-7.26">1</tspan></text>
<line x1="976" y1="207.5" x2="981.6" y2="207.5" stroke="#000" stroke-width="1"/>
<line x1="976" y1="197.5" x2="981.6" y2="197.5" stroke="#000" stroke-width="1"/>
<line x1="976" y1="190.5" x2="981.6" y2="190.5" stroke="#000" stroke-width="1"/>
<line x1="976" y1="184.5" x2="981.6" y2="184.5" stroke="#000" stroke-width="1"/>
<line x1="976" y1="180.5" x2="981.6" y2="180.5" stroke="#000" stroke-width="1"/>
<line x1="976" y1="176.5" x2="981.6" y2="176.5" stroke="#000" stroke-width="1"/>
<line x1="976" y1="173.5" x2="981.6" y2="173.5" stroke="#000" stroke-width="1"/>
<line x1="976" y1="170.5" x2="981.6" y2="170.5" stroke="#000" stroke-width="1"/>
<line x1="976" y1="167.5" x2="981.8" y2="167.5" stroke="#000" stroke-width="1"/>
<text x="986.6" y="175.37" font-size="20" text-anchor="start" fill="#000">10<tspan font-size="14" dy="-7.26">2</tspan></text>
<line x1="976" y1="150.5" x2="981.6" y2="150.5" stroke="#000" stroke-width="1"/>
<line x1="976" y1="140.5" x2="981.6" y2="140.5" stroke="#000" stroke-width="1"/>
<line x1="976" y1="132.5" x2="981.6" y2="132.5" stroke="#000" stroke-width="1"/>
<line x1="976" y1="127.5" x2="981.6" y2="127.5" stroke="#000" stroke-width="1"/>
<line x1="976" y1="122.5" x2="981.6" y2="122.5" stroke="#000" stroke-width="1"/>
<line x1="976" y1="118.5" x2="981.6" y2="118.5" stroke="#000" stroke-width="1"/>
<line x1="976" y1="115.5" x2="981.6" y2="115.5" stroke="#000" stroke-width="1"/>
<line x1="976" y1="112.5" x2="981.6" y2="112.5" stroke="#000" stroke-width="1"/>
<line x1="976" y1="110.5" x2="981.8" y2="110.5" stroke="#000" stroke-width="1"/>
<text x="986.6" y="118" font-size="20" text-anchor="start" fill="#000">10<tspan font-size="14" dy="-7.26">3</tspan></text>
<rect x="959" y="110" width="17" height="345" fill="none" stroke="#000" stroke-width="2"/>
<rect x="825" y="478" width="89" height="344" fill="#d3d3d3"/>
<text transform="translate(888.5,657.5) rotate(-90)" font-size="63.2" text-anchor="middle" fill="#000" fill-opacity="0.11">Forecast</text>
<line x1="825" y1="478" x2="825" y2="822" stroke="#1f77b4" stroke-width="2.08" stroke-dasharray="2.08 3.43"/>
<clipPath id="cl2"><rect x="200" y="478" width="714" height="344"/></clipPath>
<polyline fill="none" stroke="#f00" stroke-width="2.1" stroke-linejoin="round" clip-path="url(#cl2)" points="200.6,622.25 203.75,626.25 207.5,629 212.5,629.75 217.5,632.5 221.25,639.4 225,646.9 228.1,648.5 231.25,647.5 235,646.5 238.75,647.9 242.25,649 245.6,647.25 248.75,641.25 252.5,634.4 255.6,632.5 260,632.5 263.75,631 268.75,624.75 273.1,622.25 277.5,622.25 283.75,621.5 287.5,622.5 291.9,626.5 296.25,631.9 301.25,633.4 305,634.4 307.5,636.9 311.25,646.25 314.4,652.5 317.5,654.1 320.6,653.5 324.4,652.5 328.1,655 331.9,657.25 335.6,654.4 338.75,646.9 342.5,639.4 345.6,637.25 350,637.5 353.75,635.6 357.5,630 362.5,626.5 367.5,626.5 373.75,625.9 376.9,627.25 380.6,631.25 385,637.5 388.1,639.75 391.9,640.25 395,642.5 398.1,647.5 401.25,657.5 404.4,665 407.5,667.1 410,665.6 413.1,664.4 416.25,665.6 421,669.75 424.4,667.5 427.5,658.75 430.6,648.1 433.75,644.75 438.75,644.75 440,644.75 443.1,642.5 447.5,635.6 452.5,631.5 457.5,631.5 463.1,630.6 466.25,632.25 470.6,638.1 473.75,643.75 476.25,646.9 481.9,647.9 485,650.6 487.5,657.5 490.6,668.1 493.5,675.4 496.9,676.9 500,674 503.1,673.1 506.25,675 510,678.5 513.1,676.25 515.6,670 518.1,661.9 521.25,654.4 524.4,651.6 529.4,651.6 533.1,648.1 536.25,641.25 540,637.9 543.75,636.9 547.5,636.9 551.9,636 555,637.5 558.1,640.6 561.9,647.5 565,651.9 569.4,652.5 573.1,655 576.25,662.5 579.4,672.5 582.25,680.6 585.6,682.75 588.75,680.6 591.9,679.4 595.6,681.9 599.75,684.75 603.1,681.9 605.6,673.75 608.1,665.6 611.25,658.5 615,657.25 618.75,656.9 621.9,654.4 625,647.5 629.4,642.5 633.75,641.25 637.5,641 641.25,640.25 644.4,641 647.5,645.6 650.6,651.9 653.1,656.6 658.75,657.75 662.5,660 665.6,667.5 668.1,676.25 670.6,683.75 673.5,687.9 677.5,686.25 681.9,684.4 685.6,686.9 688.75,689.1 691.9,686.9 694.4,680 696.9,671.25 700,663.75 703.1,661.9 707.5,661.9 710.6,660 713.75,653.75 716.9,651 720.6,650 723.75,651.25 728.1,651.5 732.5,653.1 736.9,661.25 740,668.75 743.1,674.4 748.1,675.6 751.9,679.4 755,688.1 757.5,698.1 760,706.25 763.1,710.6 766.25,710 768.75,707.25 771.25,706.25 774.4,708.1 778.1,710.25 781.25,707.5 783.75,698.75 786.25,689.4 788.75,682.5 791.9,680 796.9,680 800,678.1 803.1,671.25 806.25,665.6 809.4,663.1 813.75,662.1 818.75,661.25 821.9,662.5 825,666.25 828.1,672.5 831.25,677.5 835,679 838.75,680 841.9,683.75 845,691.9 848.1,700.6 851.25,704.75 854.4,704.75 858.75,701.9 863.1,703.1 867.5,704.75 870.6,701.25 873.75,691.9 876.9,683.75 880.6,680 885,679.6 888.75,677.5 891.9,672.5 895,666.9 898.75,664.1 903.1,663.1 908.1,662.1 910.6,662.5 912.75,665"/>
<line x1="200" y1="822.5" x2="206" y2="822.5" stroke="#000" stroke-width="1"/>
<line x1="200" y1="804.5" x2="203.75" y2="804.5" stroke="#000" stroke-width="1"/>
<line x1="200" y1="794.5" x2="203.75" y2="794.5" stroke="#000" stroke-width="1"/>
<line x1="200" y1="787.5" x2="203.75" y2="787.5" stroke="#000" stroke-width="1"/>
<line x1="200" y1="781.5" x2="203.75" y2="781.5" stroke="#000" stroke-width="1"/>
<line x1="200" y1="777.5" x2="203.75" y2="777.5" stroke="#000" stroke-width="1"/>
<line x1="200" y1="773.5" x2="203.75" y2="773.5" stroke="#000" stroke-width="1"/>
<line x1="200" y1="770.5" x2="203.75" y2="770.5" stroke="#000" stroke-width="1"/>
<line x1="200" y1="767.5" x2="203.75" y2="767.5" stroke="#000" stroke-width="1"/>
<line x1="200" y1="764.5" x2="206" y2="764.5" stroke="#000" stroke-width="1"/>
<line x1="200" y1="747.5" x2="203.75" y2="747.5" stroke="#000" stroke-width="1"/>
<line x1="200" y1="737.5" x2="203.75" y2="737.5" stroke="#000" stroke-width="1"/>
<line x1="200" y1="730.5" x2="203.75" y2="730.5" stroke="#000" stroke-width="1"/>
<line x1="200" y1="724.5" x2="203.75" y2="724.5" stroke="#000" stroke-width="1"/>
<line x1="200" y1="720.5" x2="203.75" y2="720.5" stroke="#000" stroke-width="1"/>
<line x1="200" y1="716.5" x2="203.75" y2="716.5" stroke="#000" stroke-width="1"/>
<line x1="200" y1="712.5" x2="203.75" y2="712.5" stroke="#000" stroke-width="1"/>
<line x1="200" y1="709.5" x2="203.75" y2="709.5" stroke="#000" stroke-width="1"/>
<line x1="200" y1="707.5" x2="206" y2="707.5" stroke="#000" stroke-width="1"/>
<line x1="200" y1="690.5" x2="203.75" y2="690.5" stroke="#000" stroke-width="1"/>
<line x1="200" y1="679.5" x2="203.75" y2="679.5" stroke="#000" stroke-width="1"/>
<line x1="200" y1="672.5" x2="203.75" y2="672.5" stroke="#000" stroke-width="1"/>
<line x1="200" y1="667.5" x2="203.75" y2="667.5" stroke="#000" stroke-width="1"/>
<line x1="200" y1="662.5" x2="203.75" y2="662.5" stroke="#000" stroke-width="1"/>
<line x1="200" y1="658.5" x2="203.75" y2="658.5" stroke="#000" stroke-width="1"/>
<line x1="200" y1="655.5" x2="203.75" y2="655.5" stroke="#000" stroke-width="1"/>
<line x1="200" y1="652.5" x2="203.75" y2="652.5" stroke="#000" stroke-width="1"/>
<line x1="200" y1="650.5" x2="206" y2="650.5" stroke="#000" stroke-width="1"/>
<line x1="200" y1="632.5" x2="203.75" y2="632.5" stroke="#000" stroke-width="1"/>
<line x1="200" y1="622.5" x2="203.75" y2="622.5" stroke="#000" stroke-width="1"/>
<line x1="200" y1="615.5" x2="203.75" y2="615.5" stroke="#000" stroke-width="1"/>
<line x1="200" y1="609.5" x2="203.75" y2="609.5" stroke="#000" stroke-width="1"/>
<line x1="200" y1="605.5" x2="203.75" y2="605.5" stroke="#000" stroke-width="1"/>
<line x1="200" y1="601.5" x2="203.75" y2="601.5" stroke="#000" stroke-width="1"/>
<line x1="200" y1="598.5" x2="203.75" y2="598.5" stroke="#000" stroke-width="1"/>
<line x1="200" y1="595.5" x2="203.75" y2="595.5" stroke="#000" stroke-width="1"/>
<line x1="200" y1="592.5" x2="206" y2="592.5" stroke="#000" stroke-width="1"/>
<line x1="200" y1="575.5" x2="203.75" y2="575.5" stroke="#000" stroke-width="1"/>
<line x1="200" y1="565.5" x2="203.75" y2="565.5" stroke="#000" stroke-width="1"/>
<line x1="200" y1="558.5" x2="203.75" y2="558.5" stroke="#000" stroke-width="1"/>
<line x1="200" y1="552.5" x2="203.75" y2="552.5" stroke="#000" stroke-width="1"/>
<line x1="200" y1="548.5" x2="203.75" y2="548.5" stroke="#000" stroke-width="1"/>
<line x1="200" y1="544.5" x2="203.75" y2="544.5" stroke="#000" stroke-width="1"/>
<line x1="200" y1="540.5" x2="203.75" y2="540.5" stroke="#000" stroke-width="1"/>
<line x1="200" y1="537.5" x2="203.75" y2="537.5" stroke="#000" stroke-width="1"/>
<line x1="200" y1="535.5" x2="206" y2="535.5" stroke="#000" stroke-width="1"/>
<line x1="200" y1="518.5" x2="203.75" y2="518.5" stroke="#000" stroke-width="1"/>
<line x1="200" y1="507.5" x2="203.75" y2="507.5" stroke="#000" stroke-width="1"/>
<line x1="200" y1="500.5" x2="203.75" y2="500.5" stroke="#000" stroke-width="1"/>
<line x1="200" y1="495.5" x2="203.75" y2="495.5" stroke="#000" stroke-width="1"/>
<line x1="200" y1="490.5" x2="203.75" y2="490.5" stroke="#000" stroke-width="1"/>
<line x1="200" y1="486.5" x2="203.75" y2="486.5" stroke="#000" stroke-width="1"/>
<line x1="200" y1="483.5" x2="203.75" y2="483.5" stroke="#000" stroke-width="1"/>
<line x1="200" y1="480.5" x2="203.75" y2="480.5" stroke="#000" stroke-width="1"/>
<line x1="200" y1="478.5" x2="206" y2="478.5" stroke="#000" stroke-width="1"/>
<line x1="914" y1="822.5" x2="909.3" y2="822.5" stroke="#000" stroke-width="1"/>
<line x1="914" y1="804.5" x2="911.2" y2="804.5" stroke="#000" stroke-width="1"/>
<line x1="914" y1="794.5" x2="911.2" y2="794.5" stroke="#000" stroke-width="1"/>
<line x1="914" y1="787.5" x2="911.2" y2="787.5" stroke="#000" stroke-width="1"/>
<line x1="914" y1="781.5" x2="911.2" y2="781.5" stroke="#000" stroke-width="1"/>
<line x1="914" y1="777.5" x2="911.2" y2="777.5" stroke="#000" stroke-width="1"/>
<line x1="914" y1="773.5" x2="911.2" y2="773.5" stroke="#000" stroke-width="1"/>
<line x1="914" y1="770.5" x2="911.2" y2="770.5" stroke="#000" stroke-width="1"/>
<line x1="914" y1="767.5" x2="911.2" y2="767.5" stroke="#000" stroke-width="1"/>
<line x1="914" y1="764.5" x2="909.3" y2="764.5" stroke="#000" stroke-width="1"/>
<line x1="914" y1="747.5" x2="911.2" y2="747.5" stroke="#000" stroke-width="1"/>
<line x1="914" y1="737.5" x2="911.2" y2="737.5" stroke="#000" stroke-width="1"/>
<line x1="914" y1="730.5" x2="911.2" y2="730.5" stroke="#000" stroke-width="1"/>
<line x1="914" y1="724.5" x2="911.2" y2="724.5" stroke="#000" stroke-width="1"/>
<line x1="914" y1="720.5" x2="911.2" y2="720.5" stroke="#000" stroke-width="1"/>
<line x1="914" y1="716.5" x2="911.2" y2="716.5" stroke="#000" stroke-width="1"/>
<line x1="914" y1="712.5" x2="911.2" y2="712.5" stroke="#000" stroke-width="1"/>
<line x1="914" y1="709.5" x2="911.2" y2="709.5" stroke="#000" stroke-width="1"/>
<line x1="914" y1="707.5" x2="909.3" y2="707.5" stroke="#000" stroke-width="1"/>
<line x1="914" y1="690.5" x2="911.2" y2="690.5" stroke="#000" stroke-width="1"/>
<line x1="914" y1="679.5" x2="911.2" y2="679.5" stroke="#000" stroke-width="1"/>
<line x1="914" y1="672.5" x2="911.2" y2="672.5" stroke="#000" stroke-width="1"/>
<line x1="914" y1="667.5" x2="911.2" y2="667.5" stroke="#000" stroke-width="1"/>
<line x1="914" y1="662.5" x2="911.2" y2="662.5" stroke="#000" stroke-width="1"/>
<line x1="914" y1="658.5" x2="911.2" y2="658.5" stroke="#000" stroke-width="1"/>
<line x1="914" y1="655.5" x2="911.2" y2="655.5" stroke="#000" stroke-width="1"/>
<line x1="914" y1="652.5" x2="911.2" y2="652.5" stroke="#000" stroke-width="1"/>
<line x1="914" y1="650.5" x2="909.3" y2="650.5" stroke="#000" stroke-width="1"/>
<line x1="914" y1="632.5" x2="911.2" y2="632.5" stroke="#000" stroke-width="1"/>
<line x1="914" y1="622.5" x2="911.2" y2="622.5" stroke="#000" stroke-width="1"/>
<line x1="914" y1="615.5" x2="911.2" y2="615.5" stroke="#000" stroke-width="1"/>
<line x1="914" y1="609.5" x2="911.2" y2="609.5" stroke="#000" stroke-width="1"/>
<line x1="914" y1="605.5" x2="911.2" y2="605.5" stroke="#000" stroke-width="1"/>
<line x1="914" y1="601.5" x2="911.2" y2="601.5" stroke="#000" stroke-width="1"/>
<line x1="914" y1="598.5" x2="911.2" y2="598.5" stroke="#000" stroke-width="1"/>
<line x1="914" y1="595.5" x2="911.2" y2="595.5" stroke="#000" stroke-width="1"/>
<line x1="914" y1="592.5" x2="909.3" y2="592.5" stroke="#000" stroke-width="1"/>
<line x1="914" y1="575.5" x2="911.2" y2="575.5" stroke="#000" stroke-width="1"/>
<line x1="914" y1="565.5" x2="911.2" y2="565.5" stroke="#000" stroke-width="1"/>
<line x1="914" y1="558.5" x2="911.2" y2="558.5" stroke="#000" stroke-width="1"/>
<line x1="914" y1="552.5" x2="911.2" y2="552.5" stroke="#000" stroke-width="1"/>
<line x1="914" y1="548.5" x2="911.2" y2="548.5" stroke="#000" stroke-width="1"/>
<line x1="914" y1="544.5" x2="911.2" y2="544.5" stroke="#000" stroke-width="1"/>
<line x1="914" y1="540.5" x2="911.2" y2="540.5" stroke="#000" stroke-width="1"/>
<line x1="914" y1="537.5" x2="911.2" y2="537.5" stroke="#000" stroke-width="1"/>
<line x1="914" y1="535.5" x2="909.3" y2="535.5" stroke="#000" stroke-width="1"/>
<line x1="914" y1="518.5" x2="911.2" y2="518.5" stroke="#000" stroke-width="1"/>
<line x1="914" y1="507.5" x2="911.2" y2="507.5" stroke="#000" stroke-width="1"/>
<line x1="914" y1="500.5" x2="911.2" y2="500.5" stroke="#000" stroke-width="1"/>
<line x1="914" y1="495.5" x2="911.2" y2="495.5" stroke="#000" stroke-width="1"/>
<line x1="914" y1="490.5" x2="911.2" y2="490.5" stroke="#000" stroke-width="1"/>
<line x1="914" y1="486.5" x2="911.2" y2="486.5" stroke="#000" stroke-width="1"/>
<line x1="914" y1="483.5" x2="911.2" y2="483.5" stroke="#000" stroke-width="1"/>
<line x1="914" y1="480.5" x2="911.2" y2="480.5" stroke="#000" stroke-width="1"/>
<line x1="914" y1="478.5" x2="909.3" y2="478.5" stroke="#000" stroke-width="1"/>
<text x="195.8" y="829.6" font-size="20" text-anchor="end" fill="#000">10<tspan font-size="14" dy="-7.26">−3</tspan></text>
<text x="195.8" y="772.27" font-size="20" text-anchor="end" fill="#000">10<tspan font-size="14" dy="-7.26">−2</tspan></text>
<text x="195.8" y="714.93" font-size="20" text-anchor="end" fill="#000">10<tspan font-size="14" dy="-7.26">−1</tspan></text>
<text x="195.8" y="657.6" font-size="20" text-anchor="end" fill="#000">10<tspan font-size="14" dy="-7.26">0</tspan></text>
<text x="195.8" y="600.27" font-size="20" text-anchor="end" fill="#000">10<tspan font-size="14" dy="-7.26">1</tspan></text>
<text x="195.8" y="542.93" font-size="20" text-anchor="end" fill="#000">10<tspan font-size="14" dy="-7.26">2</tspan></text>
<text x="195.8" y="485.6" font-size="20" text-anchor="end" fill="#000">10<tspan font-size="14" dy="-7.26">3</tspan></text>
<line x1="248.5" y1="822" x2="248.5" y2="817" stroke="#000" stroke-width="1"/>
<line x1="337.5" y1="822" x2="337.5" y2="817" stroke="#000" stroke-width="1"/>
<line x1="427.5" y1="822" x2="427.5" y2="817" stroke="#000" stroke-width="1"/>
<line x1="516.5" y1="822" x2="516.5" y2="817" stroke="#000" stroke-width="1"/>
<line x1="605.5" y1="822" x2="605.5" y2="817" stroke="#000" stroke-width="1"/>
<line x1="694.5" y1="822" x2="694.5" y2="817" stroke="#000" stroke-width="1"/>
<line x1="784.5" y1="822" x2="784.5" y2="817" stroke="#000" stroke-width="1"/>
<line x1="873.5" y1="822" x2="873.5" y2="817" stroke="#000" stroke-width="1"/>
<rect x="200" y="478" width="714" height="344" fill="none" stroke="#000" stroke-width="2"/>
<text x="236" y="511.5" font-size="24.15" text-anchor="start" fill="#000">Geostationary orbit:</text>
<text x="500" y="511.5" font-size="24.15" text-anchor="start" fill="#f00">Model</text>
<text transform="translate(102,651.2) rotate(-90)" font-size="24.15" text-anchor="middle">2.0 MeV Electron Flux</text>
<text transform="translate(134.2,650) rotate(-90)" font-size="24.15" text-anchor="middle">( cm<tspan font-size="16.9" dy="-8.77">−2</tspan><tspan dy="8.77"> s</tspan><tspan font-size="16.9" dy="-8.77">−1</tspan><tspan dy="8.77"> sr</tspan><tspan font-size="16.9" dy="-8.77">−1</tspan><tspan dy="8.77"> KeV</tspan><tspan font-size="16.9" dy="-8.77">−1</tspan><tspan dy="8.77"> )</tspan></text>
<rect x="243.1" y="1004.77" width="8.95" height="12.23" fill="#008000"/>
<rect x="254.26" y="1004.77" width="8.95" height="12.23" fill="#008000"/>
<rect x="265.41" y="1004.77" width="8.95" height="12.23" fill="#008000"/>
<rect x="276.57" y="1004.77" width="8.95" height="12.23" fill="#008000"/>
<rect x="287.72" y="1011.08" width="8.95" height="5.92" fill="#008000"/>
<rect x="298.88" y="1011.08" width="8.95" height="5.92" fill="#008000"/>
<rect x="310.04" y="991.96" width="8.95" height="25.04" fill="#008000"/>
<rect x="321.19" y="991.96" width="8.95" height="25.04" fill="#008000"/>
<rect x="332.35" y="997.89" width="8.95" height="19.11" fill="#008000"/>
<rect x="343.5" y="997.89" width="8.95" height="19.11" fill="#008000"/>
<rect x="354.66" y="985.85" width="8.95" height="31.15" fill="#008000"/>
<rect x="365.82" y="997.89" width="8.95" height="19.11" fill="#008000"/>
<rect x="376.97" y="991.96" width="8.95" height="25.04" fill="#008000"/>
<rect x="388.13" y="1004.77" width="8.95" height="12.23" fill="#008000"/>
<rect x="399.28" y="1011.08" width="8.95" height="5.92" fill="#008000"/>
<rect x="410.44" y="1004.77" width="8.95" height="12.23" fill="#008000"/>
<rect x="421.6" y="1004.77" width="8.95" height="12.23" fill="#008000"/>
<rect x="432.75" y="1004.77" width="8.95" height="12.23" fill="#008000"/>
<rect x="443.91" y="991.96" width="8.95" height="25.04" fill="#008000"/>
<rect x="455.06" y="997.89" width="8.95" height="19.11" fill="#008000"/>
<rect x="466.22" y="991.96" width="8.95" height="25.04" fill="#008000"/>
<rect x="477.38" y="997.89" width="8.95" height="19.11" fill="#008000"/>
<rect x="488.53" y="1004.77" width="8.95" height="12.23" fill="#008000"/>
<rect x="499.69" y="1004.77" width="8.95" height="12.23" fill="#008000"/>
<rect x="510.84" y="1011.08" width="8.95" height="5.92" fill="#008000"/>
<rect x="533.16" y="1011.08" width="8.95" height="5.92" fill="#008000"/>
<rect x="544.31" y="1011.08" width="8.95" height="5.92" fill="#008000"/>
<rect x="555.47" y="1011.08" width="8.95" height="5.92" fill="#008000"/>
<rect x="577.78" y="991.96" width="8.95" height="25.04" fill="#008000"/>
<rect x="588.94" y="1011.08" width="8.95" height="5.92" fill="#008000"/>
<rect x="600.09" y="1004.77" width="8.95" height="12.23" fill="#008000"/>
<rect x="611.25" y="997.89" width="8.95" height="19.11" fill="#008000"/>
<rect x="622.4" y="1004.77" width="8.95" height="12.23" fill="#008000"/>
<rect x="633.56" y="1011.08" width="8.95" height="5.92" fill="#008000"/>
<rect x="644.72" y="997.89" width="8.95" height="19.11" fill="#008000"/>
<rect x="655.87" y="1004.77" width="8.95" height="12.23" fill="#008000"/>
<rect x="678.18" y="1004.77" width="8.95" height="12.23" fill="#008000"/>
<rect x="689.34" y="1004.77" width="8.95" height="12.23" fill="#008000"/>
<rect x="700.5" y="978.78" width="8.95" height="38.22" fill="#008000"/>
<rect x="711.65" y="953.93" width="8.95" height="63.07" fill="#bfbf00"/>
<rect x="722.81" y="953.93" width="8.95" height="63.07" fill="#bfbf00"/>
<rect x="733.96" y="953.93" width="8.95" height="63.07" fill="#bfbf00"/>
<rect x="745.12" y="991.96" width="8.95" height="25.04" fill="#008000"/>
<rect x="756.28" y="1011.08" width="8.95" height="5.92" fill="#008000"/>
<rect x="767.43" y="978.78" width="8.95" height="38.22" fill="#008000"/>
<rect x="778.59" y="985.85" width="8.95" height="31.15" fill="#008000"/>
<rect x="789.74" y="985.85" width="8.95" height="31.15" fill="#008000"/>
<rect x="800.9" y="1004.77" width="8.95" height="12.23" fill="#008000"/>
<rect x="812.06" y="997.89" width="8.95" height="19.11" fill="#008000"/>
<rect x="823.21" y="997.89" width="8.95" height="19.11" fill="#008000"/>
<rect x="834.37" y="997.89" width="8.95" height="19.11" fill="#008000"/>
<rect x="845.52" y="997.89" width="8.95" height="19.11" fill="#008000"/>
<rect x="856.68" y="997.89" width="8.95" height="19.11" fill="#008000"/>
<rect x="867.84" y="997.89" width="8.95" height="19.11" fill="#008000"/>
<rect x="878.99" y="997.89" width="8.95" height="19.11" fill="#008000"/>
<rect x="890.15" y="997.89" width="8.95" height="19.11" fill="#008000"/>
<rect x="901.3" y="997.89" width="8.95" height="19.11" fill="#008000"/>
<line x1="825" y1="845" x2="825" y2="1017" stroke="#1f77b4" stroke-width="2.08" stroke-dasharray="2.08 3.43"/>
<text transform="translate(875.6,934.5) rotate(-90)" font-size="30.7" text-anchor="middle" fill="#000" fill-opacity="0.11">Forecast</text>
<text x="195.8" y="1024.6" font-size="20" text-anchor="end" fill="#000">0</text>
<line x1="200" y1="978.5" x2="205.8" y2="978.5" stroke="#000" stroke-width="1"/>
<line x1="914" y1="978.5" x2="909.4" y2="978.5" stroke="#000" stroke-width="1"/>
<text x="195.8" y="986.38" font-size="20" text-anchor="end" fill="#000">2</text>
<line x1="200" y1="940.5" x2="205.8" y2="940.5" stroke="#000" stroke-width="1"/>
<line x1="914" y1="940.5" x2="909.4" y2="940.5" stroke="#000" stroke-width="1"/>
<text x="195.8" y="948.16" font-size="20" text-anchor="end" fill="#000">4</text>
<line x1="200" y1="902.5" x2="205.8" y2="902.5" stroke="#000" stroke-width="1"/>
<line x1="914" y1="902.5" x2="909.4" y2="902.5" stroke="#000" stroke-width="1"/>
<text x="195.8" y="909.93" font-size="20" text-anchor="end" fill="#000">6</text>
<line x1="200" y1="864.5" x2="205.8" y2="864.5" stroke="#000" stroke-width="1"/>
<line x1="914" y1="864.5" x2="909.4" y2="864.5" stroke="#000" stroke-width="1"/>
<text x="195.8" y="871.71" font-size="20" text-anchor="end" fill="#000">8</text>
<line x1="248.5" y1="1017" x2="248.5" y2="1012" stroke="#000" stroke-width="1"/>
<text x="247.9" y="1037.4" font-size="20" text-anchor="middle" fill="#000">18</text>
<line x1="337.5" y1="1017" x2="337.5" y2="1012" stroke="#000" stroke-width="1"/>
<text x="337.15" y="1037.4" font-size="20" text-anchor="middle" fill="#000">19</text>
<line x1="427.5" y1="1017" x2="427.5" y2="1012" stroke="#000" stroke-width="1"/>
<text x="426.4" y="1037.4" font-size="20" text-anchor="middle" fill="#000">20</text>
<line x1="516.5" y1="1017" x2="516.5" y2="1012" stroke="#000" stroke-width="1"/>
<text x="515.65" y="1037.4" font-size="20" text-anchor="middle" fill="#000">21</text>
<line x1="605.5" y1="1017" x2="605.5" y2="1012" stroke="#000" stroke-width="1"/>
<text x="604.9" y="1037.4" font-size="20" text-anchor="middle" fill="#000">22</text>
<line x1="694.5" y1="1017" x2="694.5" y2="1012" stroke="#000" stroke-width="1"/>
<text x="694.15" y="1037.4" font-size="20" text-anchor="middle" fill="#000">23</text>
<line x1="784.5" y1="1017" x2="784.5" y2="1012" stroke="#000" stroke-width="1"/>
<text x="783.4" y="1037.4" font-size="20" text-anchor="middle" fill="#000">24</text>
<line x1="873.5" y1="1017" x2="873.5" y2="1012" stroke="#000" stroke-width="1"/>
<text x="872.65" y="1037.4" font-size="20" text-anchor="middle" fill="#000">25</text>
<rect x="200" y="845" width="714" height="172" fill="none" stroke="#000" stroke-width="2"/>
<text transform="translate(173.4,935.4) rotate(-90)" font-size="24.15" text-anchor="middle">Kp</text>
<text x="557.9" y="1066" font-size="24.28" text-anchor="middle" fill="#000">April 2019 (UT)</text>
<rect x="207.6" y="852.4" width="87.8" height="67" rx="3" ry="3" fill="#fff" fill-opacity="0.8" stroke="#ccc" stroke-width="1.2"/>
<rect x="213" y="858.8" width="28" height="10.8" fill="#008000"/>
<text x="252.3" y="869.4" font-size="13.5" text-anchor="start" fill="#000">Kp&lt;3</text>
<rect x="213" y="879.8" width="28" height="10.8" fill="#bfbf00"/>
<text x="252.3" y="890.4" font-size="13.5" text-anchor="start" fill="#000">Kp&lt;5</text>
<rect x="213" y="900.8" width="28" height="10.8" fill="#f00"/>
<text x="252.3" y="911.4" font-size="13.5" text-anchor="start" fill="#000">Kp&gt;5</text>
<clipPath id="cr1"><rect x="1205" y="110" width="595" height="345"/></clipPath>
<line x1="1205" y1="282.5" x2="1800" y2="282.5" stroke="#000" stroke-width="2.08" stroke-dasharray="2.08 3.43"/>
<polyline fill="none" stroke="#000" stroke-width="2" stroke-linejoin="round" clip-path="url(#cr1)" points="1206.25,251.09 1206.68,251.65 1207.11,249.22 1207.54,250.47 1207.97,248.87 1208.4,248.4 1208.83,249.87 1209.26,247.85 1209.69,248 1210.12,249.03 1210.55,249.72 1210.98,249.01 1211.41,249.9 1211.84,248.82 1212.27,249.7 1212.7,249.97 1213.13,249.49 1213.56,249.67 1213.99,249.89 1214.42,251.47 1214.85,252.29 1215.28,253.02 1215.71,254.23 1216.14,253.83 1216.57,255.82 1217,256.96 1217.43,258.29 1217.86,257.71 1218.29,258.85 1218.72,256.97 1219.15,257.9 1219.58,255.94 1220.01,256.21 1220.44,258.05 1220.87,254.65 1221.3,257.18 1221.73,258.59 1222.16,259.84 1222.59,262.36 1223.02,264.25 1223.45,266.54 1223.88,267.22 1224.31,268.53 1224.74,268.95 1225.17,269.03 1225.6,270.31 1226.03,270.07 1226.46,272.17 1226.89,269.96 1227.32,271.3 1227.75,273.14 1228.18,273.84 1228.61,279.15 1229.04,276.99 1229.47,280.63 1229.9,282.13 1230.33,285.54 1230.76,282.55 1231.19,285.59 1231.62,284.26 1232.05,285.06 1232.48,284.88 1232.91,285.05 1233.34,282.38 1233.77,282.25 1234.2,281.57 1234.63,281.83 1235.06,276.94 1235.49,279.4 1235.92,278.43 1236.35,276.71 1236.78,276.99 1237.21,275.87 1237.64,277.34 1238.07,275.62 1238.5,274.81 1238.93,274.36 1239.36,275.94 1239.79,283.27 1240.22,285.99 1240.65,288.2 1241.08,284.2 1241.51,282.24 1241.94,284.95 1242.37,284.5 1242.8,284.54 1243.23,296.83 1243.66,299.43 1244.09,290.83 1244.52,297.58 1244.95,293.8 1245.38,300.39 1245.81,277.68 1246.24,299.61 1246.67,260.27 1247.1,273.79 1247.53,259.26 1247.96,259.37 1248.39,256.3 1248.82,259.36 1249.25,268.49 1249.68,270.29 1250.11,270.93 1250.54,271.25 1250.97,270.71 1251.4,268.59 1251.83,268.05 1252.26,279.24 1252.69,275.19 1253.12,277.94 1253.55,268.71 1253.98,282.26 1254.41,270.2 1254.84,270.22 1255.27,277.28 1255.7,276.14 1256.13,274.44 1256.56,277.13 1256.99,282.34 1257.42,290.93 1257.85,276.93 1258.28,282.48 1258.71,291.19 1259.14,283.93 1259.57,288.12 1260,292.57 1260.43,292.32 1260.86,292.41 1261.29,265.55 1261.72,280.16 1262.15,267.65 1262.58,268.81 1263.01,278.73 1263.44,263.96 1263.87,279.93 1264.3,287.58 1264.73,286.86 1265.16,271.17 1265.59,269.35 1266.02,264.35 1266.45,264.52 1266.88,264.62 1267.31,287.91 1267.74,268 1268.17,280.9 1268.6,292.05 1269.03,295.77 1269.46,297.11 1269.89,290.27 1270.32,291.64 1270.75,290.51 1271.18,278.55 1271.61,281.16 1272.04,290.28 1272.47,278.41 1272.9,268.22 1273.33,277.41 1273.76,275.79 1274.19,265.95 1274.62,276.81 1275.05,276.09 1275.48,276.44 1275.91,266.35 1276.34,272.31 1276.77,268.09 1277.2,263.05 1277.63,265.01 1278.06,262.35 1278.49,261.42 1278.92,285.19 1279.35,269.29 1279.78,263.58 1280.21,271.54 1280.64,279.87 1281.07,287.24 1281.5,283.9 1281.93,282.16 1282.36,286.65 1282.79,283.77 1283.22,287.77 1283.65,282.74 1284.08,275.31 1284.51,271.76 1284.94,271.37 1285.37,272.48 1285.8,271.16 1286.23,271.98 1286.66,271.27 1287.09,274.16 1287.52,273.75 1287.95,274.39 1288.38,274.1 1288.81,273.07 1289.24,274.25 1289.67,295.3 1290.1,274.98 1290.53,281.47 1290.96,288.67 1291.39,288.47 1291.82,285.7 1292.25,275.85 1292.68,309.02 1293.11,295.11 1293.54,310.81 1293.97,303.75 1294.4,307.75 1294.83,308.59 1295.26,312.3 1295.69,307.12 1296.12,294.9 1296.55,292.42 1296.98,303.02 1297.41,306.11 1297.84,286.67 1298.27,286.98 1298.7,297.18 1299.13,300.59 1299.56,312.11 1299.99,314.34 1300.42,273.81 1300.85,309.73 1301.28,299.65 1301.71,280.74 1302.14,291.19 1302.57,301.76 1303,306.27 1303.43,250.23 1303.86,250.25 1304.29,250.25 1304.72,239.51 1305.15,250.12 1305.58,239.77 1306.01,237.54 1306.44,255.35 1306.87,251.99 1307.3,257.87 1307.73,251.44 1308.16,255.86 1308.59,240.97 1309.02,260.28 1309.45,280.73 1309.88,315.26 1310.31,263.62 1310.74,324.01 1311.17,288.54 1311.6,294.4 1312.03,323.47 1312.46,292.31 1312.89,307.04 1313.32,312.94 1313.75,323.85 1314.18,291.72 1314.61,298.41 1315.04,325.22 1315.47,291.34 1315.9,321.41 1316.33,309.76 1316.76,278.76 1317.19,294.4 1317.62,313.81 1318.05,286.44 1318.48,313.98 1318.91,265.72 1319.34,265.42 1319.77,264.16 1320.2,257.32 1320.63,254.32 1321.06,253.55 1321.49,257.29 1321.92,255.68 1322.35,252.36 1322.78,250.45 1323.21,252.97 1323.64,251.96 1324.07,280.95 1324.5,260.41 1324.93,286.44 1325.36,297.23 1325.79,302.09 1326.22,278.42 1326.65,255.34 1327.08,302.72 1327.51,294.27 1327.94,253.1 1328.37,309.09 1328.8,248.39 1329.23,297.7 1329.66,274.05 1330.09,261.52 1330.52,309.37 1330.95,281.13 1331.38,275.12 1331.81,296.09 1332.24,311.8 1332.67,303.28 1333.1,265.7 1333.53,312.81 1333.96,268.51 1334.39,264.27 1334.82,246.86 1335.25,255.47 1335.68,270.92 1336.11,258.86 1336.54,265.31 1336.97,242.85 1337.4,259.79 1337.83,258.85 1338.26,255.45 1338.69,256.66 1339.12,237.42 1339.55,239.64 1339.98,255.19 1340.41,246.61 1340.84,261.03 1341.27,256.09 1341.7,265.59 1342.13,269.54 1342.56,247.36 1342.99,257.7 1343.42,234.37 1343.85,263.39 1344.28,293.93 1344.71,230.01 1345.14,301.45 1345.57,248.6 1346,280.47 1346.43,234.84 1346.86,305.85 1347.29,245.16 1347.72,292.45 1348.15,233.48 1348.58,292.54 1349.01,289.94 1349.44,251.63 1349.87,302.69 1350.3,294.36 1350.73,277.74 1351.16,267.26 1351.59,288.62 1352.02,250.06 1352.45,250.11 1352.88,295.26 1353.31,247.13 1353.74,296.89 1354.17,289.89 1354.6,276.49 1355.03,254.32 1355.46,302.23 1355.89,275.1 1356.32,250.24 1356.75,252.9 1357.18,248.4 1357.61,300.21 1358.04,251.71 1358.47,295.31 1358.9,265.9 1359.33,267.24 1359.76,273.15 1360.19,273.62 1360.62,275.04 1361.05,269.75 1361.48,262.2 1361.91,268.98 1362.34,290.53 1362.77,298.37 1363.2,285.65 1363.63,272.58 1364.06,302.45 1364.49,274.55 1364.92,271.85 1365.35,267.62 1365.78,281.09 1366.21,288.08 1366.64,304.58 1367.07,292.89 1367.5,256.61 1367.93,272.36 1368.36,265.05 1368.79,263.18 1369.22,276.82 1369.65,288.13 1370.08,295.83 1370.51,268.8 1370.94,294.79 1371.37,294.69 1371.8,295.66 1372.23,293.26 1372.66,297.46 1373.09,289.04 1373.52,271.79 1373.95,292.24 1374.38,278.93 1374.81,278.61 1375.24,295.46 1375.67,268.42 1376.1,253.42 1376.53,252.59 1376.96,251.96 1377.39,271.85 1377.82,255.21 1378.25,253.6 1378.68,248.96 1379.11,263.98 1379.54,270.19 1379.97,274.3 1380.4,265.53 1380.83,296.36 1381.26,278.5 1381.69,255.55 1382.12,276.97 1382.55,283.58 1382.98,290.08 1383.41,287.73 1383.84,281.62 1384.27,284.05 1384.7,278.18 1385.13,291.03 1385.56,288.65 1385.99,293.88 1386.42,297.2 1386.85,283.76 1387.28,283.04 1387.71,274.08 1388.14,277.76 1388.57,297.96 1389,266.56 1389.43,255.37 1389.86,280.43 1390.29,280.66 1390.72,256.56 1391.15,260.71 1391.58,276.44 1392.01,271.58 1392.44,244.89 1392.87,277.32 1393.3,245.81 1393.73,247.38 1394.16,247.09 1394.59,283.51 1395.02,247.22 1395.45,308.92 1395.88,260.76 1396.31,300.63 1396.74,299.04 1397.17,274.56 1397.6,312.63 1398.03,309.01 1398.46,306.72 1398.89,305.71 1399.32,309.36 1399.75,288.22 1400.18,298.64 1400.61,249.57 1401.04,264.99 1401.47,251.43 1401.9,276.77 1402.33,253.3 1402.76,260.97 1403.19,247.77 1403.62,249 1404.05,267.07 1404.48,272.68 1404.91,293.77 1405.34,270.19 1405.77,292.41 1406.2,290.33 1406.63,285.67 1407.06,289.76 1407.49,293.37 1407.92,292.16 1408.35,293.19 1408.78,286.75 1409.21,283.52 1409.64,270.05 1410.07,272.31 1410.5,293.02 1410.93,292.19 1411.36,272 1411.79,299.08 1412.22,303.1 1412.65,314.26 1413.08,301.82 1413.51,295.01 1413.94,269.83 1414.37,269.33 1414.8,278.08 1415.23,322.49 1415.66,280.31 1416.09,313.13 1416.52,310.42 1416.95,283.51 1417.38,316.72 1417.81,264.13 1418.24,277.16 1418.67,302.17 1419.1,298.82 1419.53,285.86 1419.96,321.26 1420.39,316.07 1420.82,275.54 1421.25,318.09 1421.68,262.05 1422.11,273.42 1422.54,262.54 1422.97,284.95 1423.4,297.16 1423.83,290.03 1424.26,284.29 1424.69,298.13 1425.12,300.71 1425.55,301.12 1425.98,297.08 1426.41,314.45 1426.84,302.99 1427.27,305.51 1427.7,315.46 1428.13,313.31 1428.56,315.23 1428.99,316.25 1429.42,315.83 1429.85,296.05 1430.28,269.15 1430.71,287.99 1431.14,308.83 1431.57,268.74 1432,299.37 1432.43,299.85 1432.86,304.3 1433.29,306.23 1433.72,270.04 1434.15,282.67 1434.58,286.31 1435.01,278.41 1435.44,280.49 1435.87,292.74 1436.3,269.97 1436.73,261.36 1437.16,261.84 1437.59,261.68 1438.02,300.63 1438.45,300.38 1438.88,282.6 1439.31,273.33 1439.74,277.16 1440.17,301.69 1440.6,275.98 1441.03,268.61 1441.46,295.96 1441.89,257.84 1442.32,289.03 1442.75,259.17 1443.18,257.58 1443.61,278.45 1444.04,299.76 1444.47,260.49 1444.9,256.59 1445.33,257.3 1445.76,259.25 1446.19,261.19 1446.62,257.55 1447.05,263.57 1447.48,259.09 1447.91,261.6 1448.34,263.84 1448.77,263.46 1449.2,270.13 1449.63,264.48 1450.06,292.03 1450.49,309.04 1450.92,307.37 1451.35,284.45 1451.78,297.95 1452.21,295.6 1452.64,303.93 1453.07,276.39 1453.5,282.78 1453.93,304.02 1454.36,299.18 1454.79,311 1455.22,285.98 1455.65,281.67 1456.08,299.95 1456.51,276.1 1456.94,279.65 1457.37,286.94 1457.8,272.9 1458.23,274.73 1458.66,307.08 1459.09,284.5 1459.52,286.09 1459.95,285.74 1460.38,292.29 1460.81,277.26 1461.24,280.08 1461.67,279.17 1462.1,267.62 1462.53,268.24 1462.96,266.59 1463.39,269.06 1463.82,272.56 1464.25,266.72 1464.68,274.12 1465.11,260.84 1465.54,263.34 1465.97,261.81 1466.4,276.79 1466.83,277.84 1467.26,271.62 1467.69,268.39 1468.12,276.61 1468.55,278.32 1468.98,278.68 1469.41,278.89 1469.84,250.48 1470.27,271.04 1470.7,243.43 1471.13,244.89 1471.56,245.22 1471.99,254.6 1472.42,270.87 1472.85,266.94 1473.28,249.64 1473.71,241.66 1474.14,265.35 1474.57,249.23 1475,247.15 1475.43,248.4 1475.86,253.93 1476.29,243.99 1476.72,248.2 1477.15,244.77 1477.58,249.48 1478.01,246.05 1478.44,249.02 1478.87,263.72 1479.3,252.81 1479.73,269.94 1480.16,265.76 1480.59,269.82 1481.02,260.42 1481.45,266.52 1481.88,266.17 1482.31,296.44 1482.74,277.17 1483.17,290.63 1483.6,256.89 1484.03,274.7 1484.46,259.51 1484.89,259.38 1485.32,273.3 1485.75,287.07 1486.18,275.66 1486.61,278.33 1487.04,295.95 1487.47,262.14 1487.9,298.01 1488.33,300.81 1488.76,267.97 1489.19,295.9 1489.62,274.41 1490.05,298.67 1490.48,255.23 1490.91,302.3 1491.34,284.47 1491.77,282.35 1492.2,240.91 1492.63,262.35 1493.06,288.46 1493.49,252.49 1493.92,291.24 1494.35,259.98 1494.78,243.78 1495.21,265.7 1495.64,268.35 1496.07,295.9 1496.5,248.69 1496.93,261.9 1497.36,268.6 1497.79,250.7 1498.22,243.5 1498.65,242.97 1499.08,244.61 1499.51,255.02 1499.94,243.55 1500.37,254.44 1500.8,255.76 1501.23,246.97 1501.66,251.25 1502.09,250.93 1502.52,266.96 1502.95,247.39 1503.38,268.56 1503.81,273.09 1504.24,245.55 1504.67,273.93 1505.1,269.94 1505.53,264.84 1505.96,271.68 1506.39,249.18 1506.82,245.1 1507.25,249.36 1507.68,264.93 1508.11,262.2 1508.54,246.73 1508.97,270.76 1509.4,273.34 1509.83,271.11 1510.26,265.87 1510.69,266.57 1511.12,265.95 1511.55,265.55 1511.98,247 1512.41,277.39 1512.84,248.17 1513.27,253.64 1513.7,272.75 1514.13,243.56 1514.56,289.67 1514.99,288.3 1515.42,265.88 1515.85,290.79 1516.28,243.73 1516.71,284.39 1517.14,255.15 1517.57,249.17 1518,252.78 1518.43,286.89 1518.86,313.88 1519.29,274.17 1519.72,291.65 1520.15,279.4 1520.58,311.98 1521.01,257.98 1521.44,275.5 1521.87,260.97 1522.3,271.88 1522.73,295.42 1523.16,298.75 1523.59,258.07 1524.02,313.49 1524.45,253.62 1524.88,255.26 1525.31,248.4 1525.74,248.82 1526.17,243.75 1526.6,241.25 1527.03,248.57 1527.46,243.99 1527.89,253.76 1528.32,268.26 1528.75,262.95 1529.18,242.14 1529.61,260.33 1530.04,272.04 1530.47,306.79 1530.9,277.67 1531.33,251.4 1531.76,280.67 1532.19,295.85 1532.62,291.36 1533.05,307.06 1533.48,264.25 1533.91,266.35 1534.34,272.04 1534.77,306.35 1535.2,291.54 1535.63,266.3 1536.06,296.24 1536.49,308.63 1536.92,280.23 1537.35,264.74 1537.78,275.76 1538.21,257.25 1538.64,280.93 1539.07,295.84 1539.5,253.58 1539.93,247.5 1540.36,303.58 1540.79,272.97 1541.22,284.88 1541.65,286.72 1542.08,275.84 1542.51,251.74 1542.94,246.62 1543.37,253.33 1543.8,249.51 1544.23,259.86 1544.66,274.41 1545.09,253.93 1545.52,250.51 1545.95,286.96 1546.38,284.77 1546.81,251.94 1547.24,258.76 1547.67,301.05 1548.1,299.59 1548.53,254.44 1548.96,253.6 1549.39,303.6 1549.82,251.28 1550.25,306.08 1550.68,305.33 1551.11,259.74 1551.54,276.95 1551.97,285.65 1552.4,257.43 1552.83,264.59 1553.26,257.12 1553.69,271.91 1554.12,251.34 1554.55,275.27 1554.98,267.09 1555.41,265.94 1555.84,264.52 1556.27,260.63 1556.7,267.34 1557.13,261.43 1557.56,263.14 1557.99,260.48 1558.42,260.32 1558.85,251.12 1559.28,265.58 1559.71,272.13 1560.14,247.73 1560.57,252.44 1561,258.71 1561.43,275.01 1561.86,264.21 1562.29,274.03 1562.72,256.91 1563.15,269.5 1563.58,273.03 1564.01,263.16 1564.44,261.83 1564.87,267.47 1565.3,282.51 1565.73,278.4 1566.16,266.4 1566.59,265.88 1567.02,286.06 1567.45,278.29 1567.88,277 1568.31,265.57 1568.74,280.87 1569.17,279.62 1569.6,277.14 1570.03,265.31 1570.46,265.53 1570.89,269.24 1571.32,275.74 1571.75,275.68 1572.18,259.91 1572.61,275.09 1573.04,272.95 1573.47,253.86 1573.9,282.6 1574.33,274.58 1574.76,267.61 1575.19,260.91 1575.62,265.19 1576.05,255.91 1576.48,258.43 1576.91,274.8 1577.34,285.83 1577.77,292.62 1578.2,278.51 1578.63,278.28 1579.06,301.56 1579.49,285.69 1579.92,298.2 1580.35,286.36 1580.78,275.46 1581.21,271.84 1581.64,276.01 1582.07,297.94 1582.5,301.2 1582.93,288.07 1583.36,272.92 1583.79,301.6 1584.22,297.22 1584.65,274.58 1585.08,256.29 1585.51,297.09 1585.94,296.72 1586.37,275.89 1586.8,270.17 1587.23,270.4 1587.66,267.23 1588.09,260.02 1588.52,249.6 1588.95,256.33 1589.38,250.6 1589.81,255.62 1590.24,250.15 1590.67,262.87 1591.1,252.33 1591.53,258.42 1591.96,259.65 1592.39,254.51 1592.82,251.36 1593.25,277.51 1593.68,266.7 1594.11,264.74 1594.54,268.03 1594.97,276.58 1595.4,261.88 1595.83,276.95 1596.26,261.4 1596.69,277.97 1597.12,272.13 1597.55,269.5 1597.98,264.24 1598.41,265.89 1598.84,266.79 1599.27,261.1 1599.7,261.32 1600.13,265.29 1600.56,285.84 1600.99,285.73 1601.42,265.32 1601.85,284.34 1602.28,290.91 1602.71,274.81 1603.14,289.25 1603.57,282.42 1604,278.16 1604.43,286.33 1604.86,277.33 1605.29,285.02 1605.72,273.64 1606.15,271.03 1606.58,274.34 1607.01,270.28 1607.44,277.92 1607.87,276.25 1608.3,264.9 1608.73,264.64 1609.16,263.96 1609.59,258.65 1610.02,259.08 1610.45,258.97 1610.88,260.19 1611.31,261.98 1611.74,273 1612.17,258.62 1612.6,283.57 1613.03,260.8 1613.46,274.48 1613.89,260.87 1614.32,270.81 1614.75,291.16 1615.18,300.39 1615.61,304.99 1616.04,306.78 1616.47,291.94 1616.9,304.02 1617.33,312.38 1617.76,291.71 1618.19,310.2 1618.62,294.46 1619.05,306.28 1619.48,311.96 1619.91,290.44 1620.34,307.07 1620.77,297.51 1621.2,304.44 1621.63,292.5 1622.06,291.06 1622.49,284.51 1622.92,312.73 1623.35,283.29 1623.78,283.52 1624.21,271.53 1624.64,257.85 1625.07,250.51 1625.5,288.04 1625.93,249.47 1626.36,251.08 1626.79,282.99 1627.22,263.82 1627.65,286.13 1628.08,260.75 1628.51,287.33 1628.94,247.17 1629.37,319.18 1629.8,315.46 1630.23,292.06 1630.66,289.85 1631.09,237.04 1631.52,233.95 1631.95,327.52 1632.38,297.82 1632.81,326.62 1633.24,306.37 1633.67,256.27 1634.1,311.28 1634.53,248.95 1634.96,362.24 1635.39,254.66 1635.82,364.41 1636.25,339.98 1636.68,295.66 1637.11,364.89 1637.54,304.85 1637.97,281.47 1638.4,318.81 1638.83,254.22 1639.26,355.42 1639.69,350.38 1640.12,341.08 1640.55,256.49 1640.98,233.22 1641.41,256.04 1641.84,303.6 1642.27,239.92 1642.7,256.68 1643.13,288.82 1643.56,306.39 1643.99,234.17 1644.42,253.2 1644.85,256.86 1645.28,232.05 1645.71,272.2 1646.14,333.01 1646.57,319.9 1647,305.19 1647.43,320.6 1647.86,319.48 1648.29,309.63 1648.72,303.09 1649.15,315.22 1649.58,302.94 1650.01,292.93 1650.44,319.82 1650.87,312.79 1651.3,290.23 1651.73,293.75 1652.16,317.98 1652.59,289.68 1653.02,292.62 1653.45,293.36 1653.88,308.33 1654.31,316.95 1654.74,319.45 1655.17,316.64 1655.6,309.22 1656.03,307.49 1656.46,317.82 1656.89,307.51 1657.32,301.9 1657.75,318 1658.18,297.06 1658.61,279.59 1659.04,302.92 1659.47,290.18 1659.9,298.65 1660.33,281.7 1660.76,278.45 1661.19,289.81 1661.62,275.28 1662.05,294.01 1662.48,287.04 1662.91,281.61 1663.34,301.38 1663.77,301.23 1664.2,284.1 1664.63,300.33 1665.06,284 1665.49,283.06 1665.92,281.49 1666.35,281.6 1666.78,280.61 1667.21,280.21 1667.64,282.57 1668.07,284.34 1668.5,278.58 1668.93,272.03 1669.36,275.86 1669.79,275.04 1670.22,275.57 1670.65,268.23 1671.08,281.3 1671.51,281.08 1671.94,271.61 1672.37,278.07 1672.8,269.33 1673.23,268.32 1673.66,281.8 1674.09,269.03 1674.52,277.77 1674.95,291.28 1675.38,292.83 1675.81,288.01 1676.24,280.87 1676.67,280.94 1677.1,295.37 1677.53,296.47 1677.96,300.03 1678.39,304.82 1678.82,303.16 1679.25,305.68 1679.68,308.92 1680.11,305.42 1680.54,308.33 1680.97,291.82 1681.4,319.93 1681.83,287.3 1682.26,292.5 1682.69,294.87 1683.12,319.95 1683.55,302.93 1683.98,293.28 1684.41,294.96 1684.84,309.5 1685.27,317.16 1685.7,292.96 1686.13,265.9 1686.56,293.06 1686.99,267.22 1687.42,304.85 1687.85,304.58 1688.28,272.26 1688.71,293.34 1689.14,265.82 1689.57,267.37 1690,269.49 1690.43,297.74 1690.86,293.56 1691.29,299.77 1691.72,279.44 1692.15,259.26 1692.58,283.04 1693.01,260.06 1693.44,290.37 1693.87,278.77 1694.3,305.38 1694.73,291.5 1695.16,275.34 1695.59,297.14 1696.02,263.55 1696.45,309.17 1696.88,314.41 1697.31,288.67 1697.74,313.51 1698.17,312.2 1698.6,308.59 1699.03,310.72 1699.46,262.25 1699.89,260.89 1700.32,261.1 1700.75,294.7 1701.18,300.44 1701.61,288.93 1702.04,254.29 1702.47,305.68 1702.9,275.04 1703.33,280.72 1703.76,297.95 1704.19,258.57 1704.62,288.19 1705.05,297.44 1705.48,289.51 1705.91,310.29 1706.34,296.71 1706.77,311.29 1707.2,299.37 1707.63,292.15 1708.06,285.51 1708.49,296.78 1708.92,300.02 1709.35,296.17 1709.78,304.07 1710.21,287.55 1710.64,280.28 1711.07,297.93 1711.5,305.55 1711.93,281.25 1712.36,303.99 1712.79,301.13 1713.22,300.62 1713.65,304.36 1714.08,304.18 1714.51,307.45 1714.94,291.8 1715.37,304.66 1715.8,296.11 1716.23,303.51 1716.66,308.66 1717.09,307.23 1717.52,295.4 1717.95,290.52 1718.38,309.97 1718.81,292.35 1719.24,313.48 1719.67,291.47 1720.1,299.67 1720.53,301.22 1720.96,290.69 1721.39,319.57 1721.82,296.54 1722.25,286.41 1722.68,287.01 1723.11,285.18 1723.54,290.41 1723.97,292.04 1724.4,290.54 1724.83,292.99 1725.26,286.29 1725.69,287.39 1726.12,289.46 1726.55,288.06 1726.8,293"/>
<polyline fill="none" stroke="#f00" stroke-width="2" stroke-linejoin="round" clip-path="url(#cr1)" points="1206.25,339.64 1206.65,340.33 1207.05,342.6 1207.45,339.87 1207.85,340.63 1208.25,342.72 1208.65,340.83 1209.05,343.28 1209.45,342.34 1209.85,340.69 1210.25,342.12 1210.65,341.03 1211.05,342.85 1211.45,343.18 1211.85,342.38 1212.25,343.4 1212.65,341.71 1213.05,343.88 1213.45,344.34 1213.85,344.94 1214.25,344.91 1214.65,342.36 1215.05,342.43 1215.45,342.97 1215.85,344.01 1216.25,343.87 1216.65,345.32 1217.05,345.81 1217.45,345.7 1217.85,343.89 1218.25,345.02 1218.65,346.07 1219.05,345.53 1219.45,345.15 1219.85,342.59 1220.25,344.1 1220.65,343.74 1221.05,343.82 1221.45,343.46 1221.85,342.98 1222.25,342.51 1222.65,341.78 1223.05,344.32 1223.45,343.79 1223.85,341.71 1224.25,342.85 1224.65,343.13 1225.05,341.28 1225.45,344.39 1225.85,342.09 1226.25,342.66 1226.65,344.42 1227.05,344.84 1227.45,345.9 1227.85,346.63 1228.25,348.84 1228.65,348.52 1229.05,348.11 1229.45,349.01 1229.85,351.36 1230.25,350.17 1230.65,348.24 1231.05,349.51 1231.45,349.87 1231.85,348.38 1232.25,345.62 1232.65,348.13 1233.05,345.71 1233.45,345.46 1233.85,345.46 1234.25,347.11 1234.65,345.1 1235.05,346.53 1235.45,347.59 1235.85,347.33 1236.25,346.91 1236.65,345.11 1237.05,346.45 1237.45,345.37 1237.85,346.34 1238.25,346.69 1238.65,345.78 1239.05,345.42 1239.45,347.7 1239.85,346.62 1240.25,345.43 1240.65,347.72 1241.05,348.36 1241.45,347.64 1241.85,348.37 1242.25,346.7 1242.65,345.7 1243.05,348.33 1243.45,345.68 1243.85,346.85 1244.25,347.22 1244.65,347.86 1245.05,348.73 1245.45,348.19 1245.85,347.12 1246.25,347.08 1246.65,348.87 1247.05,347.71 1247.45,349.13 1247.85,348.56 1248.25,347.56 1248.65,347.51 1249.05,347.36 1249.45,354.37 1249.85,346.89 1250.25,351.04 1250.65,354.21 1251.05,347.09 1251.45,355.45 1251.85,340.49 1252.25,352.42 1252.65,353.41 1253.05,348.55 1253.45,346.34 1253.85,344.82 1254.25,339.74 1254.65,354.17 1255.05,356.55 1255.45,355 1255.85,353.93 1256.25,354.59 1256.65,359.52 1257.05,361.38 1257.45,357.92 1257.85,359.66 1258.25,359.39 1258.65,360.29 1258.75,360.5 1258.75,360.5 1259.2,303.5 1260.7,302.75 1261,288.5 1261.75,303.5 1262.8,305 1262.8,345.5 1262.8,344.1 1263.2,346.61 1263.6,345.75 1264,346.69 1264.4,346.74 1264.8,345.75 1265.2,349.72 1265.6,347.53 1266,349.45 1266.4,347.56 1266.8,349.75 1267.2,350.12 1267.6,350.46 1268,347.99 1268.4,350.16 1268.8,349.35 1269.2,349.87 1269.6,347.82 1270,348.88 1270.4,350.3 1270.8,349.29 1271.2,347.62 1271.6,348.06 1272,348.36 1272.4,347.8 1272.8,347.2 1273.2,348.96 1273.6,347.17 1274,347.14 1274.4,349.05 1274.8,347.62 1275.2,349.44 1275.6,347.65 1276,346.28 1276.4,348.6 1276.8,349.44 1277.2,346.72 1277.6,344.11 1278,345.25 1278.4,343.52 1278.8,345.98 1279.2,344.14 1279.6,343.27 1280,345.21 1280.4,343.09 1280.8,343 1281.2,343.08 1281.6,345.24 1282,345.48 1282.4,342.44 1282.8,342.68 1283.2,342.93 1283.6,344.85 1284,342.25 1284.4,341.82 1284.8,344.4 1285.2,343.29 1285.6,342.05 1286,344.05 1286.4,345.06 1286.8,344.54 1287.2,343.28 1287.6,343.46 1288,346.18 1288.4,344.06 1288.8,345.07 1289.2,346.03 1289.6,345.81 1290,346.22 1290.4,346.26 1290.8,344.72 1291.2,346.73 1291.6,347.86 1292,345.99 1292.4,346.11 1292.8,347.66 1293.2,349.1 1293.6,347.71 1294,351.28 1294.4,349.45 1294.8,349.63 1295.2,351.79 1295.6,352.79 1296,350.92 1296.4,350.61 1296.8,350.86 1297.2,351.41 1297.6,353.11 1298,349.98 1298.4,347.17 1298.8,346.19 1299.2,345.12 1299.6,340.13 1300,340.42 1300.4,342.96 1300.8,341.98 1301.2,344.38 1301.6,343.23 1302,338.84 1302.4,344.87 1302.8,343.14 1303.2,338.65 1303.6,337.35 1304,339.45 1304.4,342.04 1304.8,343.66 1305.2,341.95 1305.6,344.9 1306,343.56 1306.4,340.4 1306.8,342.87 1307.2,343.46 1307.6,343.08 1308,343.47 1308.4,342.25 1308.8,342.54 1309.2,343.27 1309.6,344.47 1310,345.27 1310.4,344.5 1310.8,343.59 1311.2,345.94 1311.6,344.66 1312,344.44 1312.4,342.73 1312.8,342.02 1313.2,343.77 1313.6,343.38 1314,342.16 1314.4,341.57 1314.8,339.13 1315.2,338.59 1315.6,341.43 1316,340.81 1316.4,340.52 1316.8,338.74 1317.2,338.4 1317.6,338.4 1318,340 1318.4,339.48 1318.8,339.45 1319.2,336.81 1319.6,333 1320,334.33 1320.4,335.59 1320.8,335.12 1321.2,334.87 1321.6,332.56 1322,338.24 1322.4,332.72 1322.8,340.34 1323.2,337.62 1323.6,333.4 1324,334.56 1324.4,340.57 1324.8,341.58 1325.2,339.9 1325.6,341.36 1326,345.69 1326.4,345.15 1326.8,343.35 1327.2,344.36 1327.6,345.57 1328,345.27 1328.4,342.49 1328.8,343.04 1329.2,343.51 1329.6,336.58 1330,344.44 1330.4,337.65 1330.8,339.58 1331.2,336.11 1331.6,336.78 1332,338.61 1332.4,339.06 1332.8,337.59 1333.2,339.13 1333.6,338.16 1334,339.88 1334.4,337.92 1334.8,341.15 1335.2,342.12 1335.6,342.64 1336,342.41 1336.4,340.65 1336.8,340.39 1337.2,340.44 1337.6,341.09 1338,342.4 1338.4,340.19 1338.8,340.28 1339.2,340.17 1339.6,341.45 1340,340.08 1340.4,341.03 1340.8,341.35 1341.2,341.3 1341.6,342.86 1342,340.75 1342.4,340.59 1342.8,341.84 1343.2,340.85 1343.6,342.13 1344,341.55 1344.4,341.75 1344.8,341.14 1345.2,339.52 1345.6,342 1346,342.17 1346.4,339.47 1346.8,340.84 1347.2,340.25 1347.6,340.71 1348,338.65 1348.4,338.71 1348.8,340.1 1349.2,337.92 1349.6,339.52 1350,338.45 1350.4,338.65 1350.8,338.68 1351.2,338.29 1351.6,338.07 1352,336.88 1352.4,336.45 1352.8,336.15 1353.2,338.92 1353.6,336.22 1354,338.59 1354.4,336.24 1354.8,336.44 1355.2,338.44 1355.6,337.17 1356,338.76 1356.4,337.81 1356.8,337.86 1357.2,339.78 1357.6,338.42 1358,339.85 1358.4,339.18 1358.8,340.25 1359.2,339.9 1359.6,339.51 1360,339.5 1360.4,341.25 1360.8,340.96 1361.2,338.86 1361.6,339.11 1362,340.24 1362.4,341.02 1362.8,339.47 1363.2,339.46 1363.6,340.53 1364,339.72 1364.4,341.46 1364.8,342.42 1365.2,340.75 1365.6,340.1 1366,340.11 1366.4,341.62 1366.8,340.43 1367.2,342.78 1367.6,342.28 1368,340.86 1368.4,342.07 1368.8,341.63 1369.2,340.92 1369.6,345.93 1370,346.19 1370.4,343.19 1370.8,346.35 1371.2,343.63 1371.6,345.89 1372,337.92 1372.4,337.26 1372.8,345.82 1373.2,340.67 1373.6,341.65 1374,345.56 1374.4,339.07 1374.8,339.37 1375.2,338.88 1375.6,339.7 1376,340.97 1376.4,338.8 1376.8,342.39 1377.2,342 1377.6,343.02 1378,341.9 1378.4,342.93 1378.8,351.9 1379.2,347.78 1379.6,343.23 1380,348.98 1380.4,351.48 1380.8,348.86 1381.2,348.91 1381.6,342.74 1382,341.27 1382.4,346.66 1382.8,340.38 1383.2,343.44 1383.6,339.35 1384,343.24 1384.4,340.74 1384.8,339.38 1385.2,341.92 1385.6,342.7 1386,338.37 1386.4,340.25 1386.8,339.53 1387.2,340.09 1387.6,338.31 1388,337.09 1388.4,336.61 1388.8,337 1389.2,336.57 1389.6,337.56 1390,336.75 1390.4,336.49 1390.8,338.81 1391.2,336.76 1391.6,338.27 1392,337.87 1392.4,337.66 1392.8,333.73 1393.2,335.27 1393.6,333.76 1394,336.49 1394.4,332.41 1394.8,333.98 1395.2,334.27 1395.6,334.35 1396,334.2 1396.4,334.23 1396.8,337.5 1397.2,331.04 1397.6,335.25 1398,333.25 1398.4,332.92 1398.8,335.09 1399.2,338.18 1399.6,331.31 1400,329.59 1400.4,329.31 1400.8,332.9 1401.2,331.97 1401.6,327.92 1402,328.1 1402.4,331.75 1402.8,336.08 1403.2,330.33 1403.6,336.59 1404,329.15 1404.4,335.31 1404.8,338.75 1405.2,334.76 1405.6,333.12 1406,337.41 1406.4,335.76 1406.8,335.23 1407.2,333.82 1407.6,330.73 1408,330.44 1408.4,332.18 1408.8,335.88 1409.2,331.95 1409.6,341.95 1410,337.47 1410.4,342.48 1410.8,339.14 1411.2,342.55 1411.6,340.23 1412,342.56 1412.4,341.64 1412.8,341.92 1413.2,338.24 1413.6,335.32 1414,334.96 1414.4,334.39 1414.8,332.36 1415.2,333.87 1415.6,332.13 1416,331.19 1416.4,334.7 1416.8,331.94 1417.2,330.63 1417.6,340.14 1418,329.54 1418.4,332.98 1418.8,340.63 1419.2,339.93 1419.6,341.26 1420,337.92 1420.4,341.32 1420.8,341.46 1421.2,338.12 1421.6,337.36 1422,340.52 1422.4,338.44 1422.8,340.51 1423.2,338.12 1423.6,334.29 1424,338.61 1424.4,337.96 1424.8,336.97 1425.2,336.14 1425.6,333.54 1426,336.69 1426.4,338.65 1426.8,342.42 1427.2,340.84 1427.6,323.54 1428,338.85 1428.4,323.08 1428.8,341.39 1429.2,343.12 1429.6,339.28 1430,323.54 1430.4,340.23 1430.8,344.13 1431.2,332.61 1431.6,339.11 1432,343.11 1432.4,340.56 1432.8,346.15 1433.2,340.25 1433.6,346.13 1434,344.94 1434.4,348.68 1434.8,346.24 1435.2,347.95 1435.6,348.11 1436,347.61 1436.4,348.31 1436.8,337.78 1437.2,339.29 1437.6,338.31 1438,339.58 1438.4,335.69 1438.8,337.41 1439.2,340.3 1439.6,339.56 1440,339.47 1440.4,339.25 1440.8,338.75 1441.2,337.99 1441.6,337.12 1442,338.45 1442.4,334.89 1442.8,336.48 1443.2,338.83 1443.6,334.13 1444,334.15 1444.4,335.54 1444.8,338.7 1445.2,333.99 1445.6,334.72 1446,337.15 1446.4,337.48 1446.8,337.69 1447.2,336.76 1447.6,336.72 1448,334.08 1448.4,337.08 1448.8,334.93 1449.2,335.14 1449.6,337.37 1450,337.75 1450.4,337.77 1450.8,335.19 1451.2,336.26 1451.6,337.49 1452,336.56 1452.4,334.63 1452.8,337.28 1453.2,333.99 1453.6,334.23 1454,334.79 1454.4,337.34 1454.8,333.19 1455.2,336.11 1455.6,335.33 1456,333.95 1456.4,334.39 1456.8,338.68 1457.2,334.45 1457.6,335.72 1458,334.59 1458.4,335.33 1458.8,334.87 1459.2,336.85 1459.6,335.87 1460,338.36 1460.4,335.89 1460.8,339.09 1461.2,337.66 1461.6,339.6 1462,342.12 1462.4,339.89 1462.8,342.29 1463.2,340.97 1463.6,338.49 1464,341.39 1464.4,341.76 1464.8,344.89 1465.2,341.9 1465.6,340.78 1466,343.73 1466.4,345.64 1466.8,343.38 1467.2,342.56 1467.6,342.7 1468,340.96 1468.4,342.05 1468.8,342.05 1469.2,337.16 1469.6,337.16 1470,335.19 1470.4,333.35 1470.8,337.42 1471.2,336.31 1471.6,333.88 1472,332.75 1472.4,333.14 1472.8,334.46 1473.2,331.68 1473.6,334.11 1474,331.14 1474.4,331.03 1474.8,333.74 1475.2,332.88 1475.6,334.5 1476,334.14 1476.4,335.49 1476.8,331.4 1477.2,332.86 1477.6,331.67 1478,331.24 1478.4,331.24 1478.8,332.56 1479.2,335.16 1479.6,334.41 1480,335.96 1480.4,332.32 1480.8,333.47 1481.2,332.72 1481.6,333.11 1482,338.72 1482.4,341.34 1482.8,341.37 1483.2,339.32 1483.6,336.13 1484,335.1 1484.4,332.81 1484.8,332.56 1485.2,338.5 1485.6,335.1 1486,336.91 1486.4,339.57 1486.8,336.51 1487.2,338.02 1487.6,334.65 1488,332.08 1488.4,332.77 1488.8,335.09 1489.2,338.22 1489.6,338.23 1490,336.46 1490.4,331.31 1490.8,334.79 1491.2,330.25 1491.6,334.16 1492,338.19 1492.4,330.14 1492.8,333.02 1493.2,330.72 1493.6,330.47 1494,332.13 1494.4,331.67 1494.8,328.28 1495.2,334.49 1495.6,334.44 1496,334.8 1496.4,334.25 1496.8,333.82 1497.2,333.75 1497.6,336.09 1498,334.2 1498.4,335.8 1498.8,335.53 1499.2,333.26 1499.6,336.01 1500,331.64 1500.4,336.09 1500.8,333.66 1501.2,335.03 1501.6,331.89 1502,329.87 1502.4,334.42 1502.8,334 1503.2,332.12 1503.6,333.53 1504,330.88 1504.4,331.35 1504.8,330.77 1505.2,323.56 1505.6,328.68 1506,327.41 1506.4,323.1 1506.8,326.93 1507.2,322.8 1507.6,334.43 1508,328.34 1508.4,326.85 1508.8,333.44 1509.2,335.99 1509.6,336.42 1510,336.25 1510.4,338.68 1510.8,334.03 1511.2,335.86 1511.6,338.67 1512,335.9 1512.4,328.31 1512.8,327.62 1513.2,329.42 1513.6,335.35 1514,326.49 1514.4,326.96 1514.8,327.53 1515.2,332.91 1515.6,339.52 1516,338.86 1516.4,338.77 1516.8,338.03 1517.2,340.94 1517.6,339.81 1518,339.04 1518.4,335.75 1518.8,338.05 1519.2,331.15 1519.6,332.61 1520,333.14 1520.4,325.88 1520.8,329.86 1521.2,323.24 1521.6,328.87 1522,319.15 1522.4,323.41 1522.8,327.47 1523.2,322.63 1523.6,322.41 1524,326.74 1524.4,318.13 1524.8,319.43 1525.2,332.77 1525.6,332.62 1526,329.62 1526.4,329.48 1526.8,333.66 1527.2,331.91 1527.6,329.34 1528,330.44 1528.4,333.05 1528.8,328.57 1529.2,329.32 1529.6,332.62 1530,332.04 1530.4,332.23 1530.8,329.81 1531.2,330.11 1531.6,325.74 1532,324.86 1532.4,325.84 1532.8,319.41 1533.2,324.02 1533.6,322.26 1534,318.32 1534.4,321.05 1534.8,317.86 1535.2,318.11 1535.6,319.46 1536,315.41 1536.4,316.71 1536.8,320.85 1537.2,316.8 1537.6,317.84 1538,316.69 1538.4,314.19 1538.8,314.59 1539.2,317.21 1539.6,318.54 1540,314.1 1540.4,314.5 1540.8,317.13 1541.2,316.79 1541.6,319.44 1542,315.93 1542.4,320 1542.8,320.21 1543.2,320.33 1543.6,320.47 1544,316.63 1544.4,319.67 1544.8,316.01 1545.2,317.31 1545.6,316.89 1546,320.28 1546.4,321.42 1546.8,318.4 1547.2,320.89 1547.6,321.06 1548,318.9 1548.4,319.86 1548.8,321.02 1549.2,323.02 1549.6,323.99 1550,320.95 1550.4,323.79 1550.8,322.74 1551.2,322.06 1551.6,322.07 1552,321.5 1552.4,323.18 1552.8,325.59 1553.2,322.87 1553.6,326.68 1554,326.92 1554.4,323.62 1554.8,325.48 1555.2,324.27 1555.6,324.82 1556,325.8 1556.4,320.9 1556.8,324.23 1557.2,324.98 1557.6,322.89 1558,320.13 1558.4,320.25 1558.8,324.23 1559.2,321.31 1559.6,321.26 1560,323.86 1560.4,320.31 1560.8,325.52 1561.2,322.71 1561.6,326.47 1562,322.34 1562.4,322.72 1562.8,326.75 1563.2,321.1 1563.6,322.03 1564,323.17 1564.4,322.88 1564.8,319.19 1565.2,330.27 1565.6,325.41 1566,320.38 1566.4,318.28 1566.8,319.3 1567.2,327.78 1567.6,314.72 1568,329.43 1568.4,329.77 1568.8,329.25 1569.2,327.66 1569.6,328.93 1570,326.38 1570.4,326.94 1570.8,327.73 1571.2,326.93 1571.6,325.65 1572,327.15 1572.4,328.18 1572.8,327.71 1573.2,327.15 1573.6,327.38 1574,331.02 1574.4,330.85 1574.8,331.85 1575.2,331.42 1575.6,335.15 1576,332.41 1576.4,336.57 1576.8,334.52 1577.2,332.86 1577.6,335.13 1578,333.58 1578.4,335.64 1578.8,336.32 1579.2,339.05 1579.6,337.37 1580,336.34 1580.4,341.49 1580.8,338.87 1581.2,337.18 1581.6,342.1 1582,341.27 1582.4,342.53 1582.8,339.61 1583.2,342.25 1583.6,341.55 1584,340.86 1584.4,341.13 1584.8,338.05 1585.2,339.2 1585.6,339.44 1586,335.36 1586.4,321.23 1586.8,337.87 1587.2,333.53 1587.6,322.9 1588,330.08 1588.4,324.57 1588.8,332.64 1589.2,319.8 1589.6,318.11 1590,322.31 1590.4,322.88 1590.8,319.08 1591.2,321.31 1591.6,322.15 1592,324.23 1592.4,321.76 1592.8,326.21 1593.2,322.09 1593.6,326.38 1594,326.42 1594.4,325.72 1594.8,325.43 1595.2,321.8 1595.6,324.9 1596,321.2 1596.4,324.18 1596.8,323.05 1597.2,318.45 1597.6,320.52 1598,321.67 1598.4,322.69 1598.8,319.83 1599.2,318.11 1599.6,318.86 1600,318.44 1600.4,323.01 1600.8,319.9 1601.2,328.06 1601.6,325.39 1602,323.92 1602.4,326.44 1602.8,327.79 1603.2,327.47 1603.6,327.83 1604,325.93 1604.4,327.51 1604.8,328.41 1605.2,332.19 1605.6,327.28 1606,331.74 1606.4,333.7 1606.8,331.05 1607.2,330.07 1607.6,333.3 1608,326.76 1608.4,330.88 1608.8,331.85 1609.2,326.18 1609.6,329.24 1610,330.12 1610.4,329.74 1610.8,325.9 1611.2,327.02 1611.6,330.94 1612,331.81 1612.4,338.09 1612.8,338.99 1613.2,335.78 1613.6,337.72 1614,339.12 1614.4,341.44 1614.8,339.69 1615.2,341.74 1615.6,341.57 1616,340 1616.4,337.46 1616.8,340.75 1617.2,336.49 1617.6,336.47 1618,334.65 1618.4,336.22 1618.8,336.75 1619.2,336.15 1619.6,333.19 1620,331.49 1620.4,331.66 1620.8,331.06 1621.2,332.52 1621.6,331.98 1622,331.47 1622.4,331.23 1622.8,334.13 1623.2,329.55 1623.6,329.23 1624,333.47 1624.4,332.75 1624.8,330.72 1625.2,329.88 1625.6,328.51 1626,329.26 1626.4,331.88 1626.8,330.78 1627.2,330.7 1627.6,332.89 1628,329.58 1628.4,335.91 1628.8,335.87 1629.2,331.86 1629.6,336.95 1630,334.78 1630.4,333.28 1630.8,329.7 1631.2,331.51 1631.6,332.53 1632,333.2 1632.4,324.22 1632.8,331.83 1633.2,323.82 1633.6,325.84 1634,326.35 1634.4,324.21 1634.8,321.26 1635.2,324.38 1635.6,320.96 1636,323.85 1636.4,321.78 1636.8,319.16 1637.2,324.09 1637.6,321.86 1638,320.45 1638.4,320.09 1638.8,324.36 1639.2,322.15 1639.6,320.53 1640,324.09 1640.4,324.79 1640.8,322.1 1641.2,320.65 1641.6,320.46 1642,322.72 1642.4,323.28 1642.8,323.21 1643.2,320.93 1643.6,321.53 1644,317.4 1644.4,315.79 1644.8,318.33 1645.2,319.32 1645.6,315.48 1646,319.59 1646.4,318.17 1646.8,314.53 1647.2,317.55 1647.6,313.21 1648,316.13 1648.4,310.93 1648.8,310.23 1649.2,314.7 1649.6,314.4 1650,311.44 1650.4,309.32 1650.8,310.58 1651.2,313.39 1651.6,310.67 1652,308.97 1652.4,311.85 1652.8,310.41 1653.2,311.24 1653.6,311.03 1654,311.68 1654.4,307.4 1654.8,309.49 1655.2,308.17 1655.6,307.31 1656,307.75 1656.4,307.11 1656.8,308.98 1657.2,308.22 1657.6,309.18 1658,306.71 1658.4,309.94 1658.8,310.71 1659.2,310.74 1659.6,306.61 1660,305.75 1660.4,309.5 1660.8,305.19 1661.2,308.53 1661.6,308.62 1662,305.99 1662.4,307.1 1662.8,308.1 1663.2,308.97 1663.6,307.9 1664,306.61 1664.4,305.83 1664.8,309.61 1665.2,307.01 1665.6,310.74 1666,308.19 1666.4,311.59 1666.8,310.35 1667.2,311.1 1667.6,312.85 1668,310.81 1668.4,312.79 1668.8,311.63 1669.2,313.35 1669.6,310.88 1670,314.33 1670.4,312.37 1670.8,311.72 1671.2,311.19 1671.6,312.23 1672,311.08 1672.4,311.43 1672.8,311.71 1673.2,316.34 1673.6,316.47 1674,316.38 1674.4,315.66 1674.8,316.68 1675.2,311.74 1675.6,314.84 1676,312.84 1676.4,312.95 1676.8,315.45 1677.2,309.34 1677.6,307.83 1678,307.87 1678.4,311.64 1678.8,310.16 1679.2,306.73 1679.6,310.6 1680,310.78 1680.4,311.18 1680.8,313.13 1681.2,312.29 1681.6,313.02 1682,311.95 1682.4,312.04 1682.8,310.26 1683.2,312.66 1683.6,309.37 1684,311.98 1684.4,312.77 1684.8,312.69 1685.2,313.73 1685.6,308.64 1686,311.85 1686.4,308.94 1686.8,312.75 1687.2,313.77 1687.6,313.9 1688,310.56 1688.4,316.86 1688.8,316.85 1689.2,315.67 1689.6,314.71 1690,316.04 1690.4,316.89 1690.8,314.05 1691.2,314.02 1691.6,315.99 1692,315.13 1692.4,315.39 1692.8,313.5 1693.2,314.42 1693.6,323.53 1694,324.53 1694.4,325.72 1694.8,316.25 1695.2,315.38 1695.6,319.35 1696,324.32 1696.4,326.33 1696.8,317.06 1697.2,324.74 1697.6,324.95 1698,323.45 1698.4,322.23 1698.8,322.5 1699.2,322.98 1699.6,323.63 1700,319.81 1700.4,322.24 1700.8,320.81 1701.2,319.34 1701.6,320.74 1702,323.7 1702.4,324.07 1702.8,320.08 1703.2,322.9 1703.6,320.54 1704,320.06 1704.4,322.62 1704.8,326.92 1705.2,325.74 1705.6,322.9 1706,327.94 1706.4,324.35 1706.8,328.3 1707.2,323.88 1707.6,327.95 1708,328.55 1708.4,324.55 1708.8,324.25 1709.2,329.31 1709.6,328.82 1710,330.62 1710.4,330.31 1710.8,329.43 1711.2,327.51 1711.6,332.27 1712,332.03 1712.4,332.67 1712.8,327.98 1713.2,332.13 1713.6,331.58 1714,328.03 1714.4,329.96 1714.8,331.99 1715.2,330.09 1715.6,329.74 1716,330.02 1716.4,331.9 1716.8,331.78 1717.2,331.89 1717.6,330.99 1718,329.91 1718.4,327.52 1718.8,331.45 1719.2,328.45 1719.6,328.53 1720,329.35 1720.4,327.64 1720.8,332 1721.2,332.59 1721.6,332.73 1722,330.14 1722.4,331.59 1722.8,331.69 1723.2,329.55 1723.6,333.29 1724,330.33 1724.4,331.26 1724.8,336.26 1725.2,331.26 1725.6,335.4 1726,333.87 1726.4,334.58 1726.8,336.5"/>
<line x1="1725.8" y1="110" x2="1725.8" y2="455" stroke="#1f77b4" stroke-width="2.08" stroke-dasharray="2.08 3.43"/>
<text x="1200.6" y="462.2" font-size="20" text-anchor="end" fill="#000">−20</text>
<line x1="1205" y1="411.5" x2="1210.8" y2="411.5" stroke="#000" stroke-width="1"/>
<text x="1200.6" y="419.18" font-size="20" text-anchor="end" fill="#000">−15</text>
<line x1="1205" y1="368.5" x2="1210.8" y2="368.5" stroke="#000" stroke-width="1"/>
<text x="1200.6" y="376.15" font-size="20" text-anchor="end" fill="#000">−10</text>
<line x1="1205" y1="325.5" x2="1210.8" y2="325.5" stroke="#000" stroke-width="1"/>
<text x="1200.6" y="333.12" font-size="20" text-anchor="end" fill="#000">−5</text>
<line x1="1205" y1="282.5" x2="1210.8" y2="282.5" stroke="#000" stroke-width="1"/>
<text x="1200.6" y="290.1" font-size="20" text-anchor="end" fill="#000">0</text>
<line x1="1205" y1="239.5" x2="1210.8" y2="239.5" stroke="#000" stroke-width="1"/>
<text x="1200.6" y="247.07" font-size="20" text-anchor="end" fill="#000">5</text>
<line x1="1205" y1="196.5" x2="1210.8" y2="196.5" stroke="#000" stroke-width="1"/>
<text x="1200.6" y="204.05" font-size="20" text-anchor="end" fill="#000">10</text>
<line x1="1205" y1="153.5" x2="1210.8" y2="153.5" stroke="#000" stroke-width="1"/>
<text x="1200.6" y="161.03" font-size="20" text-anchor="end" fill="#000">15</text>
<text x="1200.6" y="118" font-size="20" text-anchor="end" fill="#000">20</text>
<text x="1804.9" y="462.2" font-size="20" text-anchor="start" fill="#f00">0</text>
<line x1="1800" y1="386.5" x2="1795.3" y2="386.5" stroke="#f00" stroke-width="1"/>
<text x="1804.9" y="393.36" font-size="20" text-anchor="start" fill="#f00">200</text>
<line x1="1800" y1="317.5" x2="1795.3" y2="317.5" stroke="#f00" stroke-width="1"/>
<text x="1804.9" y="324.52" font-size="20" text-anchor="start" fill="#f00">400</text>
<line x1="1800" y1="248.5" x2="1795.3" y2="248.5" stroke="#f00" stroke-width="1"/>
<text x="1804.9" y="255.68" font-size="20" text-anchor="start" fill="#f00">600</text>
<line x1="1800" y1="179.5" x2="1795.3" y2="179.5" stroke="#f00" stroke-width="1"/>
<text x="1804.9" y="186.84" font-size="20" text-anchor="start" fill="#f00">800</text>
<text x="1804.9" y="118" font-size="20" text-anchor="start" fill="#f00">1000</text>
<line x1="1245.5" y1="455" x2="1245.5" y2="450" stroke="#000" stroke-width="1"/>
<line x1="1319.5" y1="455" x2="1319.5" y2="450" stroke="#000" stroke-width="1"/>
<line x1="1393.5" y1="455" x2="1393.5" y2="450" stroke="#000" stroke-width="1"/>
<line x1="1468.5" y1="455" x2="1468.5" y2="450" stroke="#000" stroke-width="1"/>
<line x1="1542.5" y1="455" x2="1542.5" y2="450" stroke="#000" stroke-width="1"/>
<line x1="1616.5" y1="455" x2="1616.5" y2="450" stroke="#000" stroke-width="1"/>
<line x1="1691.5" y1="455" x2="1691.5" y2="450" stroke="#000" stroke-width="1"/>
<line x1="1765.5" y1="455" x2="1765.5" y2="450" stroke="#000" stroke-width="1"/>
<rect x="1205" y="110" width="595" height="345" fill="none" stroke="#000" stroke-width="2"/>
<line x1="1800" y1="110" x2="1800" y2="455" stroke="#f00" stroke-width="2"/>
<line x1="1204" y1="110" x2="1801" y2="110" stroke="#000" stroke-width="2"/>
<line x1="1204" y1="455" x2="1801" y2="455" stroke="#000" stroke-width="2"/>
<text transform="translate(1116.7,283.5) rotate(-90)" font-size="24.15" text-anchor="middle" fill="#000">IMF Bz</text>
<text transform="translate(1146.7,283) rotate(-90)" font-size="24.15" text-anchor="middle" fill="#000">( nT )</text>
<text transform="translate(1879.3,283.8) rotate(-90)" font-size="24.5" text-anchor="middle" fill="#f00">SW Velocity</text>
<text transform="translate(1912,282.4) rotate(-90)" font-size="24.15" text-anchor="middle" fill="#f00">( km s<tspan font-size="16.9" dy="-8.77">−1</tspan><tspan dy="8.77"> )</tspan></text>
<clipPath id="cr2"><rect x="1205" y="478" width="595" height="344"/></clipPath>
<line x1="1205" y1="512.4" x2="1800" y2="512.4" stroke="#000" stroke-width="2.08" stroke-dasharray="2.08 3.43"/>
<polyline fill="none" stroke="#000" stroke-width="2" stroke-linejoin="round" clip-path="url(#cr2)" points="1206.25,513.5 1210,512.75 1216.75,506.45 1220.5,506.75 1231.75,506.75 1235.2,505.7 1241.5,510.5 1256.5,510.5 1259.8,513.5 1265.5,510.5 1272.25,507.8 1276,507.8 1279,509 1282.75,508.7 1288.75,502.25 1291.75,501.8 1294.75,502.25 1300.75,507.5 1306.75,507.5 1312.75,505.25 1315.75,507.5 1318.75,511.7 1324.75,513.2 1329.25,511.25 1337.5,512 1339.75,508.7 1343.5,506.75 1348.75,509.3 1354,511.25 1358.5,507.2 1361.5,500.75 1365.25,498.5 1369,502.25 1376.5,509.45 1380.25,509.75 1384.3,507.8 1390,507.8 1396.75,500.75 1399,500.3 1402.75,502.7 1405.75,503.75 1409.5,506.75 1414.75,508.25 1420,513.2 1424.2,516.8 1430.5,514.7 1436.5,510.2 1441,510.2 1447,509.75 1453,510.2 1459,513.5 1463.5,515.75 1469.5,512 1474,509.3 1477.75,509.75 1482.25,511.25 1486,510.5 1489.75,508.7 1486.5,509.75 1489.5,508.7 1494,509.75 1499.25,512.3 1502.25,514.25 1505.25,512.75 1511.25,505.25 1514.25,503.75 1517.25,505.55 1521,506.3 1524.75,508.25 1527,510.8 1530,509.3 1533,508.7 1537.5,506.45 1542,505.25 1546.5,506.45 1552.5,508.7 1557.75,509 1563,505.7 1567.5,508.25 1573.5,511.25 1581,510.8 1584.75,506.75 1588.5,505.25 1592.25,504.95 1595.25,503.75 1599,503.45 1603.5,504.05 1608,505.7 1611.75,506 1616.25,508.25 1620.75,511.25 1624.5,513.05 1627.5,511.7 1631.25,509 1635,503.75 1638,505.25 1641.3,518.75 1647,516.5 1650,518.3 1653.75,517.7 1659.75,509.75 1666.5,514.25 1669.5,513.8 1675.5,509.3 1678.5,509.3 1681.8,506.75 1685.25,508.7 1690.5,512.75 1701.75,512.75 1707,515.75 1714.5,516.5 1719,517.7 1722.75,518.3"/>
<polyline fill="none" stroke="#f00" stroke-width="2" stroke-linejoin="round" clip-path="url(#cr2)" points="1206.46,645.92 1206.86,642.26 1207.26,645.48 1207.66,633.26 1208.06,642.26 1208.46,640.19 1208.86,637.12 1209.26,635.77 1209.66,651.55 1210.06,646.31 1210.46,650.6 1210.86,648.85 1211.26,651.98 1211.66,650.8 1212.06,648.31 1212.46,652.32 1212.86,651.7 1213.26,653.28 1213.66,651.15 1214.06,649.06 1214.46,648.9 1214.86,650.62 1215.26,651.14 1215.66,651.51 1216.06,649.98 1216.46,654.64 1216.86,652.15 1217.26,650.78 1217.66,650.41 1218.06,655.65 1218.46,650.32 1218.86,655.5 1219.26,654.52 1219.66,655.75 1220.06,652.32 1220.46,656.09 1220.86,656.46 1221.26,663.03 1221.66,652.78 1222.06,669.38 1222.46,659.37 1222.86,656.21 1223.26,660.36 1223.66,662.23 1224.06,670.09 1224.46,668.56 1224.86,654.82 1225.26,663.98 1225.66,668.57 1226.06,652.58 1226.46,675.69 1226.86,670.74 1227.26,671.81 1227.66,653.46 1228.06,672.58 1228.46,656.84 1228.86,688.03 1229.26,697.83 1229.66,687.61 1230.06,679.5 1230.46,651.92 1230.86,686.39 1231.26,693.56 1231.66,682 1232.06,691.09 1232.46,665.26 1232.86,649.38 1233.26,671.96 1233.66,660.06 1234.06,679.4 1234.46,655.05 1234.86,650.42 1235.26,650.46 1235.66,652.48 1236.06,668.65 1236.46,648.61 1236.86,667.01 1237.26,649.16 1237.66,667.01 1238.06,674.61 1238.46,677.54 1238.86,664.69 1239.26,665.34 1239.66,665.46 1240.06,679.14 1240.46,679.6 1240.86,675.3 1241.26,679.25 1241.66,679.78 1242.06,659.12 1242.46,667.76 1242.86,654.01 1243.26,667.65 1243.66,663.41 1244.06,654.27 1244.46,660.04 1244.86,659.89 1245.26,657.42 1245.66,657.44 1246.06,649.32 1246.46,647.28 1246.86,646.94 1247.26,647.97 1247.66,646.2 1248.06,647.63 1248.46,645.43 1248.86,680.62 1249.26,680.48 1249.66,697.6 1250.06,750.43 1250.46,756.96 1250.86,756.33 1251.26,756.98 1251.66,755.77 1252.06,754.43 1252.46,753.12 1252.86,661.92 1253.26,649.06 1253.66,649.04 1254.06,648.86 1254.46,651.97 1254.86,650.62 1255.26,652.35 1255.66,682.91 1256.06,682.81 1256.46,683.21 1256.86,679.28 1257.26,678.91 1257.66,677.69 1258.06,678.54 1258.46,758.78 1258.86,764.64 1259.26,764.63 1259.66,760.79 1260.06,747.98 1260.46,735.53 1260.86,735.19 1261.26,736.63 1261.66,734.6 1262.06,732.99 1262.46,653.52 1262.86,708.22 1263.26,667.6 1263.66,648.07 1264.06,646.78 1264.46,643.83 1264.86,643.6 1265.26,639.6 1265.66,640.73 1266.06,642.8 1266.46,640.62 1266.86,644.39 1267.26,640.4 1267.66,652.03 1268.06,650.63 1268.46,650.72 1268.86,648.98 1269.26,642.73 1269.66,652.48 1270.06,648.93 1270.46,653.49 1270.86,653.29 1271.26,653.96 1271.66,651.51 1272.06,644.77 1272.46,654.54 1272.86,643.55 1273.26,647.39 1273.66,646.69 1274.06,642.82 1274.46,643.84 1274.86,644.08 1275.26,645.32 1275.66,643.94 1276.06,645.76 1276.46,643.42 1276.86,643.96 1277.26,648.35 1277.66,652.89 1278.06,645.56 1278.46,651.12 1278.86,645.81 1279.26,644.62 1279.66,647.81 1280.06,651.81 1280.46,645.27 1280.86,645.27 1281.26,643.22 1281.66,644.06 1282.06,643.28 1282.46,644.49 1282.86,652.26 1283.26,647.14 1283.66,638.74 1284.06,639.73 1284.46,638.55 1284.86,635.2 1285.26,636.28 1285.66,639.69 1286.06,637.93 1286.46,635.4 1286.86,632.7 1287.26,633.48 1287.66,633.09 1288.06,633.42 1288.46,643.08 1288.86,642.5 1289.26,640.49 1289.66,642.2 1290.06,635.02 1290.46,635.11 1290.86,637.36 1291.26,637.55 1291.66,631.82 1292.06,633.41 1292.46,643.98 1292.86,643.57 1293.26,662.32 1293.66,648.83 1294.06,662.6 1294.46,658.2 1294.86,658.55 1295.26,662.4 1295.66,659.22 1296.06,660.17 1296.46,649.57 1296.86,660.67 1297.26,651.89 1297.66,633.13 1298.06,631.03 1298.46,635.19 1298.86,653.55 1299.26,644.24 1299.66,643.97 1300.06,649.19 1300.46,640.91 1300.86,627.47 1301.26,626.43 1301.66,648.72 1302.06,637.73 1302.46,644.56 1302.86,637.08 1303.26,630.82 1303.66,640.36 1304.06,641.73 1304.46,665.99 1304.86,631.5 1305.26,659.19 1305.66,633.75 1306.06,666.32 1306.46,664.95 1306.86,667.64 1307.26,664.82 1307.66,669.6 1308.06,646.93 1308.46,652.71 1308.86,624.09 1309.26,667.07 1309.66,622.65 1310.06,654.18 1310.46,636.3 1310.86,639.97 1311.26,621.49 1311.66,635.92 1312.06,627.49 1312.46,636.12 1312.86,625.32 1313.26,624.42 1313.66,626.98 1314.06,642.1 1314.46,639.28 1314.86,628.76 1315.26,639.3 1315.66,637.12 1316.06,624.1 1316.46,646.6 1316.86,624.36 1317.26,649.04 1317.66,636.92 1318.06,633.17 1318.46,654 1318.86,633.93 1319.26,628.67 1319.66,637.71 1320.06,646.99 1320.46,633.76 1320.86,656.46 1321.26,642.78 1321.66,645.07 1322.06,632.16 1322.46,645.95 1322.86,633.42 1323.26,646.4 1323.66,643.94 1324.06,643.58 1324.46,622.67 1324.86,649.96 1325.26,644.09 1325.66,635.91 1326.06,623.86 1326.46,620.03 1326.86,621.39 1327.26,621.34 1327.66,629.83 1328.06,628.9 1328.46,623.74 1328.86,620.77 1329.26,629.34 1329.66,620.32 1330.06,628.61 1330.46,622.27 1330.86,639.85 1331.26,632.43 1331.66,621.23 1332.06,621.66 1332.46,639.1 1332.86,638.49 1333.26,625.91 1333.66,640.46 1334.06,633.83 1334.46,635.8 1334.86,640.85 1335.26,640.33 1335.66,625.23 1336.06,630.8 1336.46,632.48 1336.86,625.19 1337.26,624.37 1337.66,626.03 1338.06,641.38 1338.46,642.01 1338.86,642.04 1339.26,634.93 1339.66,614.94 1340.06,625.06 1340.46,633.78 1340.86,624.32 1341.26,620.79 1341.66,641.9 1342.06,615.05 1342.46,609.64 1342.86,617.73 1343.26,612.36 1343.66,611.18 1344.06,636.35 1344.46,646.89 1344.86,610.96 1345.26,647.06 1345.66,646.21 1346.06,641.47 1346.46,629.44 1346.86,644.18 1347.26,629.46 1347.66,634.25 1348.06,645.79 1348.46,633.37 1348.86,629.19 1349.26,626.9 1349.66,629.76 1350.06,617.64 1350.46,619.12 1350.86,630.12 1351.26,626.46 1351.66,624.42 1352.06,634.37 1352.46,634.92 1352.86,634.83 1353.26,626.52 1353.66,618.64 1354.06,622.1 1354.46,620.65 1354.86,633.61 1355.26,625.75 1355.66,625.17 1356.06,633.2 1356.46,622.37 1356.86,621.31 1357.26,623.77 1357.66,621.02 1358.06,624.64 1358.46,622.69 1358.86,625.73 1359.26,624.84 1359.66,625.94 1360.06,623.94 1360.46,622.65 1360.86,624.49 1361.26,624.06 1361.66,622.85 1362.06,625.35 1362.46,628.07 1362.86,625.55 1363.26,627.87 1363.66,628.6 1364.06,626.09 1364.46,628.02 1364.86,630.67 1365.26,630.31 1365.66,629.86 1366.06,632.46 1366.46,630.39 1366.86,633.65 1367.26,630.18 1367.66,633.89 1368.06,633.86 1368.46,634.31 1368.86,630.24 1369.26,630.3 1369.66,641.74 1370.06,640.96 1370.46,635.9 1370.86,648.66 1371.26,636.26 1371.66,645.31 1372.06,636.62 1372.46,646.89 1372.86,641.45 1373.26,641.54 1373.66,641.74 1374.06,651.73 1374.46,649.25 1374.86,640.94 1375.26,653.02 1375.66,647.69 1376.06,652.9 1376.46,651.71 1376.86,657.85 1377.26,651.4 1377.66,665.05 1378.06,650.01 1378.46,671.28 1378.86,650.89 1379.26,650.2 1379.66,666.29 1380.06,669.76 1380.46,649.45 1380.86,671.23 1381.26,652.65 1381.66,650.02 1382.06,661.68 1382.46,653.96 1382.86,663.67 1383.26,647.51 1383.66,652.17 1384.06,665.25 1384.46,661.46 1384.86,670.45 1385.26,658.8 1385.66,666.3 1386.06,672.61 1386.46,661.33 1386.86,658.21 1387.26,670.56 1387.66,670.66 1388.06,656.51 1388.46,648.41 1388.86,656.85 1389.26,636.67 1389.66,631.55 1390.06,656.19 1390.46,632.03 1390.86,630.98 1391.26,646 1391.66,647.7 1392.06,648.41 1392.46,645.13 1392.86,635.79 1393.26,638.88 1393.66,647.76 1394.06,649.17 1394.46,636.92 1394.86,663.44 1395.26,635.29 1395.66,669.49 1396.06,669.34 1396.46,632.24 1396.86,648.12 1397.26,652.15 1397.66,634.23 1398.06,639.91 1398.46,643.04 1398.86,651.39 1399.26,666.85 1399.66,665.02 1400.06,663.19 1400.46,649.37 1400.86,653.05 1401.26,663.97 1401.66,668.52 1402.06,682.94 1402.46,683.26 1402.86,653.17 1403.26,648.71 1403.66,685.13 1404.06,673.05 1404.46,676.1 1404.86,678.3 1405.26,671.12 1405.66,673.12 1406.06,681.52 1406.46,686.21 1406.86,686.31 1407.26,690.68 1407.66,679.64 1408.06,677.29 1408.46,691.62 1408.86,692.5 1409.26,682.69 1409.66,682.49 1410.06,689.19 1410.46,678.1 1410.86,666.75 1411.26,675.03 1411.66,673.48 1412.06,664.91 1412.46,679.29 1412.86,681.25 1413.26,672.49 1413.66,666.91 1414.06,672.99 1414.46,664.1 1414.86,677.2 1415.26,679.44 1415.66,678.22 1416.06,672.72 1416.46,680.47 1416.86,661.01 1417.26,663.26 1417.66,657.37 1418.06,667.44 1418.46,657.54 1418.86,678.3 1419.26,673.54 1419.66,658.92 1420.06,670.98 1420.46,666.76 1420.86,674.66 1421.26,674.01 1421.66,665.32 1422.06,672.46 1422.46,671 1422.86,670.46 1423.26,674.19 1423.66,665.41 1424.06,667.29 1424.46,669.04 1424.86,678.94 1425.26,692.56 1425.66,691.97 1426.06,692.02 1426.46,670.4 1426.86,677.08 1427.26,674.93 1427.66,679.31 1428.06,680.9 1428.46,665.99 1428.86,680.41 1429.26,680.93 1429.66,646.62 1430.06,647.08 1430.46,647.95 1430.86,667.45 1431.26,650.6 1431.66,689.83 1432.06,699.31 1432.46,652.17 1432.86,691.51 1433.26,680.87 1433.66,673.89 1434.06,681.95 1434.46,693.75 1434.86,698.44 1435.26,695.56 1435.66,691.07 1436.06,681.06 1436.46,677.33 1436.86,681.74 1437.26,676.17 1437.66,679.91 1438.06,677.77 1438.46,668.24 1438.86,676.78 1439.26,667.42 1439.66,677.62 1440.06,676 1440.46,675.56 1440.86,684.73 1441.26,681.39 1441.66,668 1442.06,686.31 1442.46,667.39 1442.86,680.7 1443.26,681.02 1443.66,660.13 1444.06,688.14 1444.46,688.09 1444.86,662.2 1445.26,673.88 1445.66,674.68 1446.06,666.95 1446.46,674.2 1446.86,659.85 1447.26,673.13 1447.66,659.5 1448.06,670.52 1448.46,672.99 1448.86,663.51 1449.26,671.1 1449.66,671.83 1450.06,664.83 1450.46,665.1 1450.86,664.86 1451.26,671.15 1451.66,663.34 1452.06,655.33 1452.46,651.73 1452.86,658.43 1453.26,671.34 1453.66,667.9 1454.06,653.27 1454.46,656.25 1454.86,665.36 1455.26,666.16 1455.66,667.39 1456.06,658.38 1456.46,657.38 1456.86,648.54 1457.26,655.92 1457.66,657.6 1458.06,657.78 1458.46,646.3 1458.86,663.04 1459.26,644.46 1459.66,663.66 1460.06,658.72 1460.46,644.54 1460.86,655.56 1461.26,645.65 1461.66,663.88 1462.06,661.2 1462.46,646.94 1462.86,664.67 1463.26,664.4 1463.66,653.31 1464.06,653.5 1464.46,656.78 1464.86,653.58 1465.26,652.28 1465.66,657.21 1466.06,660.46 1466.46,659.52 1466.86,653.3 1467.26,659.52 1467.66,664.2 1468.06,663.95 1468.46,658.82 1468.86,665.38 1469.26,650.08 1469.66,651.25 1470.06,659.93 1470.46,661.05 1470.86,653.46 1471.26,649.55 1471.66,649.51 1472.06,651.68 1472.46,652.91 1472.86,661.2 1473.26,642.78 1473.66,645.77 1474.06,649.78 1474.46,650.1 1474.86,646.45 1475.26,645.17 1475.66,644.66 1476.06,652.23 1476.46,648.37 1476.86,651.67 1477.26,646.23 1477.66,651.02 1478.06,649.85 1478.46,659.39 1478.86,657.73 1479.26,651.55 1479.66,654.42 1480.06,652.34 1480.46,651.44 1480.86,659.73 1481.26,656.38 1481.66,658.12 1482.06,646.71 1482.46,656.57 1482.86,656.61 1483.26,650.58 1483.66,655.4 1484.06,657.2 1484.46,652.76 1484.86,651.94 1485.26,647.96 1485.66,647.96 1486.06,652.14 1486.46,648.47 1486.86,660.59 1487.26,654.25 1487.66,651.4 1488.06,662.73 1488.46,663.11 1488.86,661.31 1489.26,649.88 1489.66,659.36 1490.06,651.17 1490.46,651.75 1490.86,649.66 1491.26,645.52 1491.66,642.76 1492.06,651.1 1492.46,643.04 1492.86,650.65 1493.26,649.63 1493.66,646.66 1494.06,647.46 1494.46,642.89 1494.86,643.07 1495.26,643.6 1495.66,650.94 1496.06,646.97 1496.46,643.65 1496.86,660.12 1497.26,650 1497.66,652.42 1498.06,654.91 1498.46,660.29 1498.86,650.36 1499.26,660.08 1499.66,662.15 1500.06,658 1500.46,659.35 1500.86,665.22 1501.26,668.91 1501.66,661.44 1502.06,648.52 1502.46,665.42 1502.86,664.9 1503.26,670.5 1503.66,663.75 1504.06,650.76 1504.46,648.99 1504.86,663.91 1505.26,653.58 1505.66,649.87 1506.06,649.22 1506.46,649.46 1506.86,646.05 1507.26,648.54 1507.66,648.64 1508.06,668.01 1508.46,652.93 1508.86,649.66 1509.26,662.06 1509.66,650.53 1510.06,656.72 1510.46,656.94 1510.86,672.03 1511.26,667.54 1511.66,661.66 1512.06,653.29 1512.46,661.51 1512.86,647.65 1513.26,670.04 1513.66,658.36 1514.06,647.76 1514.46,649.57 1514.86,647.11 1515.26,650.29 1515.66,667.86 1516.06,667.31 1516.46,647.78 1516.86,649.23 1517.26,669.72 1517.66,659.58 1518.06,668.36 1518.46,668.81 1518.86,656.28 1519.26,639.69 1519.66,654.04 1520.06,668.22 1520.46,641.36 1520.86,657.43 1521.26,638.41 1521.66,658.55 1522.06,660.76 1522.46,631.67 1522.86,656.88 1523.26,634.97 1523.66,661.4 1524.06,659.99 1524.46,651.21 1524.86,644.76 1525.26,654.9 1525.66,662.02 1526.06,651.18 1526.46,659.97 1526.86,660.18 1527.26,652.12 1527.66,655.29 1528.06,649.37 1528.46,652.95 1528.86,652.68 1529.26,659.32 1529.66,655.3 1530.06,655.78 1530.46,657.3 1530.86,646.36 1531.26,657.81 1531.66,656.94 1532.06,641.17 1532.46,641.21 1532.86,650.63 1533.26,653.06 1533.66,658.14 1534.06,656.76 1534.46,654.03 1534.86,638.19 1535.26,637.84 1535.66,635.36 1536.06,636.31 1536.46,641.06 1536.86,637 1537.26,639.47 1537.66,635.16 1538.06,633.31 1538.46,635.42 1538.86,636.69 1539.26,638.68 1539.66,643.76 1540.06,635.98 1540.46,641.73 1540.86,635.67 1541.26,644.45 1541.66,641.29 1542.06,640.44 1542.46,646.08 1542.86,644.39 1543.26,645.43 1543.66,643.77 1544.06,642.49 1544.46,646.05 1544.86,645.59 1545.26,644.03 1545.66,645.52 1546.06,648.41 1546.46,648.8 1546.86,644.63 1547.26,647.66 1547.66,643.19 1548.06,647.07 1548.46,642.07 1548.86,642.21 1549.26,641.03 1549.66,644.38 1550.06,641.16 1550.46,639.54 1550.86,644.31 1551.26,642.8 1551.66,643.96 1552.06,654.83 1552.46,654.34 1552.86,651.18 1553.26,646.45 1553.66,642.26 1554.06,650.1 1554.46,654.1 1554.86,654.99 1555.26,651.62 1555.66,657.1 1556.06,652.18 1556.46,653.25 1556.86,655.17 1557.26,652.56 1557.66,654.7 1558.06,653.68 1558.46,654.2 1558.86,653.13 1559.26,654.24 1559.66,645.55 1560.06,656.78 1560.46,646.89 1560.86,650.82 1561.26,645.69 1561.66,648.69 1562.06,648.08 1562.46,645.45 1562.86,642.02 1563.26,660.29 1563.66,648.88 1564.06,643.69 1564.46,657.07 1564.86,657.6 1565.26,647.33 1565.66,655.75 1566.06,639.85 1566.46,640.99 1566.86,655.4 1567.26,651.91 1567.66,647.55 1568.06,659.84 1568.46,669.17 1568.86,663.25 1569.26,667.49 1569.66,667.82 1570.06,656.59 1570.46,663.91 1570.86,654.79 1571.26,650.2 1571.66,650.36 1572.06,654.26 1572.46,648.44 1572.86,649.12 1573.26,649.49 1573.66,651.38 1574.06,657.46 1574.46,654.43 1574.86,649.8 1575.26,665.84 1575.66,660.36 1576.06,666.04 1576.46,667.73 1576.86,661.15 1577.26,667.03 1577.66,666.21 1578.06,661.99 1578.46,666.17 1578.86,664.94 1579.26,682.49 1579.66,659.49 1580.06,660.79 1580.46,682.45 1580.86,675.98 1581.26,670.39 1581.66,659.92 1582.06,682.3 1582.46,673.68 1582.86,685.61 1583.26,676.52 1583.66,676.05 1584.06,683.3 1584.46,681.36 1584.86,675.98 1585.26,676.46 1585.66,679.31 1586.06,675.21 1586.46,668.46 1586.86,653.17 1587.26,653.74 1587.66,663.16 1588.06,673.51 1588.46,664.12 1588.86,657.95 1589.26,653.38 1589.66,650.81 1590.06,653.06 1590.46,652.72 1590.86,650.92 1591.26,641.71 1591.66,648.46 1592.06,638.15 1592.46,636.95 1592.86,636.84 1593.26,636.78 1593.66,636.48 1594.06,643.55 1594.46,643.48 1594.86,639.78 1595.26,643.94 1595.66,651.09 1596.06,651.26 1596.46,637.15 1596.86,642.59 1597.26,641.58 1597.66,640.03 1598.06,640 1598.46,642.12 1598.86,639.06 1599.26,647.38 1599.66,648.68 1600.06,641 1600.46,649.48 1600.86,650.58 1601.26,638.46 1601.66,641.95 1602.06,649.77 1602.46,645.22 1602.86,649.48 1603.26,644.78 1603.66,643.99 1604.06,641.61 1604.46,645.98 1604.86,640.46 1605.26,643.02 1605.66,645.91 1606.06,642.78 1606.46,647.34 1606.86,642.24 1607.26,633.34 1607.66,647.28 1608.06,649.52 1608.46,649.34 1608.86,647.12 1609.26,633.16 1609.66,642.9 1610.06,649.1 1610.46,646.47 1610.86,644.85 1611.26,645.57 1611.66,641.97 1612.06,649.78 1612.46,669.51 1612.86,633.13 1613.26,650.06 1613.66,671.52 1614.06,650.96 1614.46,675.39 1614.86,663.66 1615.26,676.83 1615.66,673.84 1616.06,668.53 1616.46,675.98 1616.86,676.39 1617.26,670.16 1617.66,668.79 1618.06,669.38 1618.46,667.99 1618.86,671.45 1619.26,669.01 1619.66,649.69 1620.06,661.14 1620.46,649.81 1620.86,649.43 1621.26,655.5 1621.66,669.88 1622.06,651.78 1622.46,650.87 1622.86,651.25 1623.26,641.82 1623.66,623.13 1624.06,648.83 1624.46,634.04 1624.86,624.9 1625.26,636.83 1625.66,641.89 1626.06,636.38 1626.46,643 1626.86,642.98 1627.26,643.11 1627.66,632.85 1628.06,627.21 1628.46,631.99 1628.86,634.41 1629.26,626.54 1629.66,628.09 1630.06,635.1 1630.46,617.65 1630.86,623.59 1631.26,631.08 1631.66,630.62 1632.06,622.7 1632.46,630.6 1632.86,613.43 1633.26,606.96 1633.66,622.63 1634.06,624.16 1634.46,596.7 1634.86,606.98 1635.26,582.67 1635.66,581.51 1636.06,612.43 1636.46,619.48 1636.86,621.55 1637.26,604.04 1637.66,591.29 1638.06,621 1638.46,594.58 1638.86,614.44 1639.26,618.93 1639.66,621.36 1640.06,621.16 1640.46,620.85 1640.86,633.69 1641.26,628.26 1641.66,629.84 1642.06,625.31 1642.46,631.57 1642.86,634.73 1643.26,615.08 1643.66,632.28 1644.06,615.35 1644.46,627.53 1644.86,624.41 1645.26,633.94 1645.66,632.68 1646.06,613.77 1646.46,617.01 1646.86,613.93 1647.26,614.1 1647.66,618.45 1648.06,616.32 1648.46,618.3 1648.86,615.92 1649.26,621.41 1649.66,620.34 1650.06,622.27 1650.46,623.44 1650.86,624.8 1651.26,619.96 1651.66,617.91 1652.06,617.83 1652.46,622.26 1652.86,620.86 1653.26,623.32 1653.66,621.83 1654.06,619.95 1654.46,625.3 1654.86,626.35 1655.26,620.09 1655.66,628.01 1656.06,620.34 1656.46,627.62 1656.86,627.93 1657.26,623.84 1657.66,624.27 1658.06,625.87 1658.46,630.17 1658.86,630.62 1659.26,627.98 1659.66,629.12 1660.06,632.01 1660.46,626.41 1660.86,632.29 1661.26,627.73 1661.66,630.42 1662.06,627.88 1662.46,627.65 1662.86,627.03 1663.26,628.45 1663.66,635.22 1664.06,634.43 1664.46,628.31 1664.86,628.99 1665.26,632.64 1665.66,631.86 1666.06,630.76 1666.46,628.19 1666.86,636.89 1667.26,635.14 1667.66,636.68 1668.06,634.94 1668.46,639.66 1668.86,635.99 1669.26,639.51 1669.66,640.23 1670.06,639.54 1670.46,636.14 1670.86,634.91 1671.26,636.9 1671.66,639.91 1672.06,637.09 1672.46,650.67 1672.86,639.52 1673.26,638.81 1673.66,650.47 1674.06,640.75 1674.46,641.71 1674.86,642.39 1675.26,639.99 1675.66,633.38 1676.06,646.55 1676.46,631.58 1676.86,649.11 1677.26,631.89 1677.66,640.32 1678.06,632.04 1678.46,622.64 1678.86,624.38 1679.26,629.49 1679.66,630.73 1680.06,622.44 1680.46,627.02 1680.86,628.76 1681.26,622.7 1681.66,624.21 1682.06,621.49 1682.46,624 1682.86,629.47 1683.26,625.32 1683.66,629.9 1684.06,624.36 1684.46,630.54 1684.86,630.94 1685.26,630.73 1685.66,622.37 1686.06,630.63 1686.46,631.88 1686.86,622.83 1687.26,632.05 1687.66,628.45 1688.06,634.7 1688.46,636.46 1688.86,636.5 1689.26,630.23 1689.66,631.08 1690.06,637.81 1690.46,637.74 1690.86,633.72 1691.26,634.43 1691.66,632.28 1692.06,632.63 1692.46,636.3 1692.86,626.93 1693.26,640.76 1693.66,631.95 1694.06,640.06 1694.46,630.93 1694.86,643.2 1695.26,631.38 1695.66,633.5 1696.06,634.24 1696.46,642.48 1696.86,633 1697.26,630.75 1697.66,641.95 1698.06,642.15 1698.46,643 1698.86,638.11 1699.26,637.65 1699.66,644.16 1700.06,641.55 1700.46,641.67 1700.86,643.84 1701.26,634.95 1701.66,642.71 1702.06,637.13 1702.46,637.66 1702.86,647.58 1703.26,643.29 1703.66,637.63 1704.06,640.15 1704.46,642.44 1704.86,642.88 1705.26,639.82 1705.66,638.6 1706.06,647.94 1706.46,652.53 1706.86,648.23 1707.26,638.78 1707.66,640.84 1708.06,653.05 1708.46,645.41 1708.86,650.51 1709.26,645.25 1709.66,642.78 1710.06,649.36 1710.46,643.94 1710.86,642.38 1711.26,644.6 1711.66,645.66 1712.06,641.22 1712.46,642.68 1712.86,638.46 1713.26,636.4 1713.66,638.05 1714.06,636.58 1714.46,638.72 1714.86,637.71 1715.26,639.96 1715.66,634.37 1716.06,636.18 1716.46,636.95 1716.86,633.14 1717.26,628.38 1717.66,626.64 1718.06,627.49 1718.46,630.22 1718.86,626.7 1719.26,626.36 1719.66,628.03 1720.06,623.76 1720.46,626.9 1720.86,625.34 1721.26,628 1721.66,623.8 1722.06,625.79 1722.46,621.78 1722.86,622.62 1723.26,622.21 1723.66,626.21 1724.06,623.75 1724.46,614.03 1724.86,619.55 1725.26,622.79 1725.66,618.15 1726.06,612.92 1726.46,612.9 1726.57,613.92"/>
<line x1="1725.8" y1="478" x2="1725.8" y2="822" stroke="#1f77b4" stroke-width="2.08" stroke-dasharray="2.08 3.43"/>
<line x1="1205" y1="787.5" x2="1210.8" y2="787.5" stroke="#000" stroke-width="1"/>
<text x="1200.6" y="795.2" font-size="20" text-anchor="end" fill="#000">−400</text>
<line x1="1205" y1="718.5" x2="1210.8" y2="718.5" stroke="#000" stroke-width="1"/>
<text x="1200.6" y="726.4" font-size="20" text-anchor="end" fill="#000">−300</text>
<line x1="1205" y1="650.5" x2="1210.8" y2="650.5" stroke="#000" stroke-width="1"/>
<text x="1200.6" y="657.6" font-size="20" text-anchor="end" fill="#000">−200</text>
<line x1="1205" y1="581.5" x2="1210.8" y2="581.5" stroke="#000" stroke-width="1"/>
<text x="1200.6" y="588.8" font-size="20" text-anchor="end" fill="#000">−100</text>
<line x1="1205" y1="512.5" x2="1210.8" y2="512.5" stroke="#000" stroke-width="1"/>
<text x="1200.6" y="520" font-size="20" text-anchor="end" fill="#000">0</text>
<line x1="1800" y1="822.5" x2="1795.3" y2="822.5" stroke="#f00" stroke-width="1"/>
<line x1="1800" y1="796.5" x2="1797.2" y2="796.5" stroke="#f00" stroke-width="1"/>
<line x1="1800" y1="780.5" x2="1797.2" y2="780.5" stroke="#f00" stroke-width="1"/>
<line x1="1800" y1="770.5" x2="1797.2" y2="770.5" stroke="#f00" stroke-width="1"/>
<line x1="1800" y1="761.5" x2="1797.2" y2="761.5" stroke="#f00" stroke-width="1"/>
<line x1="1800" y1="755.5" x2="1797.2" y2="755.5" stroke="#f00" stroke-width="1"/>
<line x1="1800" y1="749.5" x2="1797.2" y2="749.5" stroke="#f00" stroke-width="1"/>
<line x1="1800" y1="744.5" x2="1797.2" y2="744.5" stroke="#f00" stroke-width="1"/>
<line x1="1800" y1="739.5" x2="1797.2" y2="739.5" stroke="#f00" stroke-width="1"/>
<line x1="1800" y1="736.5" x2="1795.3" y2="736.5" stroke="#f00" stroke-width="1"/>
<line x1="1800" y1="710.5" x2="1797.2" y2="710.5" stroke="#f00" stroke-width="1"/>
<line x1="1800" y1="694.5" x2="1797.2" y2="694.5" stroke="#f00" stroke-width="1"/>
<line x1="1800" y1="684.5" x2="1797.2" y2="684.5" stroke="#f00" stroke-width="1"/>
<line x1="1800" y1="675.5" x2="1797.2" y2="675.5" stroke="#f00" stroke-width="1"/>
<line x1="1800" y1="669.5" x2="1797.2" y2="669.5" stroke="#f00" stroke-width="1"/>
<line x1="1800" y1="663.5" x2="1797.2" y2="663.5" stroke="#f00" stroke-width="1"/>
<line x1="1800" y1="658.5" x2="1797.2" y2="658.5" stroke="#f00" stroke-width="1"/>
<line x1="1800" y1="653.5" x2="1797.2" y2="653.5" stroke="#f00" stroke-width="1"/>
<line x1="1800" y1="650.5" x2="1795.3" y2="650.5" stroke="#f00" stroke-width="1"/>
<line x1="1800" y1="624.5" x2="1797.2" y2="624.5" stroke="#f00" stroke-width="1"/>
<line x1="1800" y1="608.5" x2="1797.2" y2="608.5" stroke="#f00" stroke-width="1"/>
<line x1="1800" y1="598.5" x2="1797.2" y2="598.5" stroke="#f00" stroke-width="1"/>
<line x1="1800" y1="589.5" x2="1797.2" y2="589.5" stroke="#f00" stroke-width="1"/>
<line x1="1800" y1="583.5" x2="1797.2" y2="583.5" stroke="#f00" stroke-width="1"/>
<line x1="1800" y1="577.5" x2="1797.2" y2="577.5" stroke="#f00" stroke-width="1"/>
<line x1="1800" y1="572.5" x2="1797.2" y2="572.5" stroke="#f00" stroke-width="1"/>
<line x1="1800" y1="567.5" x2="1797.2" y2="567.5" stroke="#f00" stroke-width="1"/>
<line x1="1800" y1="564.5" x2="1795.3" y2="564.5" stroke="#f00" stroke-width="1"/>
<line x1="1800" y1="538.5" x2="1797.2" y2="538.5" stroke="#f00" stroke-width="1"/>
<line x1="1800" y1="522.5" x2="1797.2" y2="522.5" stroke="#f00" stroke-width="1"/>
<line x1="1800" y1="512.5" x2="1797.2" y2="512.5" stroke="#f00" stroke-width="1"/>
<line x1="1800" y1="503.5" x2="1797.2" y2="503.5" stroke="#f00" stroke-width="1"/>
<line x1="1800" y1="497.5" x2="1797.2" y2="497.5" stroke="#f00" stroke-width="1"/>
<line x1="1800" y1="491.5" x2="1797.2" y2="491.5" stroke="#f00" stroke-width="1"/>
<line x1="1800" y1="486.5" x2="1797.2" y2="486.5" stroke="#f00" stroke-width="1"/>
<line x1="1800" y1="481.5" x2="1797.2" y2="481.5" stroke="#f00" stroke-width="1"/>
<line x1="1800" y1="478.5" x2="1795.3" y2="478.5" stroke="#f00" stroke-width="1"/>
<text x="1805.8" y="830" font-size="20" text-anchor="start" fill="#f00">10<tspan font-size="14" dy="-7.26">−2</tspan></text>
<text x="1805.8" y="744" font-size="20" text-anchor="start" fill="#f00">10<tspan font-size="14" dy="-7.26">−1</tspan></text>
<text x="1805.8" y="658" font-size="20" text-anchor="start" fill="#f00">10<tspan font-size="14" dy="-7.26">0</tspan></text>
<text x="1805.8" y="572" font-size="20" text-anchor="start" fill="#f00">10<tspan font-size="14" dy="-7.26">1</tspan></text>
<text x="1805.8" y="486" font-size="20" text-anchor="start" fill="#f00">10<tspan font-size="14" dy="-7.26">2</tspan></text>
<line x1="1245.5" y1="822" x2="1245.5" y2="817" stroke="#000" stroke-width="1"/>
<line x1="1319.5" y1="822" x2="1319.5" y2="817" stroke="#000" stroke-width="1"/>
<line x1="1393.5" y1="822" x2="1393.5" y2="817" stroke="#000" stroke-width="1"/>
<line x1="1468.5" y1="822" x2="1468.5" y2="817" stroke="#000" stroke-width="1"/>
<line x1="1542.5" y1="822" x2="1542.5" y2="817" stroke="#000" stroke-width="1"/>
<line x1="1616.5" y1="822" x2="1616.5" y2="817" stroke="#000" stroke-width="1"/>
<line x1="1691.5" y1="822" x2="1691.5" y2="817" stroke="#000" stroke-width="1"/>
<line x1="1765.5" y1="822" x2="1765.5" y2="817" stroke="#000" stroke-width="1"/>
<rect x="1205" y="478" width="595" height="344" fill="none" stroke="#000" stroke-width="2"/>
<line x1="1800" y1="478" x2="1800" y2="822" stroke="#f00" stroke-width="2"/>
<line x1="1204" y1="478" x2="1801" y2="478" stroke="#000" stroke-width="2"/>
<line x1="1204" y1="822" x2="1801" y2="822" stroke="#000" stroke-width="2"/>
<text transform="translate(1105.6,653.7) rotate(-90)" font-size="24.15" text-anchor="middle" fill="#000">Dst</text>
<text transform="translate(1133.2,650.8) rotate(-90)" font-size="24.15" text-anchor="middle" fill="#000">( nT )</text>
<text transform="translate(1876.2,651.3) rotate(-90)" font-size="24.45" text-anchor="middle" fill="#f00">SW Pressure</text>
<text transform="translate(1906.3,650.2) rotate(-90)" font-size="24.15" text-anchor="middle" fill="#f00">( nPa )</text>
<clipPath id="cr3"><rect x="1205" y="845" width="595" height="172"/></clipPath>
<line x1="1205" y1="931" x2="1800" y2="931" stroke="#000" stroke-width="2.08" stroke-dasharray="2.08 3.43"/>
<polyline fill="none" stroke="#000" stroke-width="2" stroke-linejoin="round" clip-path="url(#cr3)" points="1205.5,996.48 1206.48,1012.48 1207.03,992.09 1207.79,1013.11 1208.52,991.19 1209.42,1009.77 1210.01,993.07 1210.9,1009.05 1211.56,990.59 1212.19,1011.13 1212.94,992.19 1213.55,1011.53 1214.16,993.85 1214.83,1013.06 1215.74,993.1 1216.38,1010.35 1217.32,995.56 1218.31,1009.5 1218.98,996.7 1219.66,1008.84 1220.25,995.54 1221.07,1010.25 1221.83,998.39 1222.64,1012.57 1223.27,992.95 1224.19,1009.67 1224.82,997.26 1225.46,1012.97 1226.41,996.53 1227,1008.68 1227.99,994.19 1228.65,1012.37 1229.47,994.63 1230.35,1008.82 1231,996.23 1231.83,1009.82 1232.79,988.21 1233.54,1008.78 1234.17,994.35 1234.78,1010.2 1235.73,998.37 1236.59,1011.25 1237.2,991.1 1238.07,1013.03 1238.63,995.46 1239.51,1010 1240.51,991.21 1241.39,1012.73 1242.27,995.54 1243.23,1010.15 1244.09,996.95 1244.83,1012.22 1245.77,994.68 1246.49,1011.24 1247.31,991.26 1248.31,1012.64 1249.19,993.44 1250,1010.57 1250.92,991.34 1251.49,1011.33 1252.25,992.39 1253.03,1011.39 1253.99,986.23 1254.63,1009.3 1255.59,995.48 1256.54,1010.04 1257.39,992.31 1258.3,1012.8 1259.25,993.66 1259.94,1009.14 1260.72,996.88 1261.59,1012.97 1262.26,992.25 1262.94,1009.51 1263.67,995.48 1264.36,1012.44 1265.36,987.14 1266.3,1008.69 1267.17,994.81 1268.07,1008.59 1268.68,990.73 1269.34,1009.16 1269.91,994.81 1270.75,1011.58 1271.66,996.85 1272.3,1010.73 1272.93,990.02 1273.8,1009.34 1274.47,992.13 1275.26,1011.39 1276.15,992.21 1277.11,1008.91 1278.08,994.52 1278.83,1011.44 1279.79,992.31 1280.73,1012.24 1281.71,993.15 1282.35,1011.89 1283.27,994.59 1283.92,1012.73 1284.91,997.14 1285.81,1010.01 1286.77,996.52 1287.36,1010.57 1288.16,996.08 1288.72,1012.3 1289.3,996.42 1290,1012.2 1290.61,991.92 1291.49,1012.45 1292.35,997.57 1293.33,1008.9 1293.98,994.71 1294.85,1011.5 1295.64,997 1296.33,1010.29 1297.26,997.47 1298.19,1013.05 1298.98,995.26 1299.77,1010.86 1300.59,991.51 1301.37,1010.38 1302.28,995.35 1303.15,1008.81 1303.94,994.41 1304.9,1009.77 1305.67,992.51 1306.58,1012.73 1307.35,993.94 1308.18,1012.85 1308.78,987.87 1309.44,1011.73 1310.13,994.38 1310.73,1011.94 1311.33,995.54 1311.97,1010.99 1312.72,994.68 1313.51,1009.25 1314.15,996.19 1314.94,1012.5 1315.76,997.34 1316.65,1012.31 1317.6,993.07 1318.57,1009.53 1319.57,996.56 1320.22,1011.91 1320.89,990.68 1321.63,1012.21 1322.24,992.47 1322.8,1009.44 1323.65,995.66 1324.25,1010.88 1325.15,992.45 1325.78,1008.83 1326.38,989.29 1327.16,1011.17 1327.78,990.43 1328.7,1013.15 1329.67,991.28 1330.43,1012.09 1331.13,992.67 1331.87,1011.32 1332.43,994.41 1333.06,1010.63 1333.94,992.46 1334.56,1010.91 1335.12,995.97 1335.99,1012.55 1336.82,992.68 1337.6,1013.12 1338.51,991.55 1339.4,1012.16 1340.31,992.44 1341.26,1011.77 1342.15,994.81 1343.03,1008.83 1343.73,986.01 1344.56,1009.59 1345.54,993.85 1346.39,1011.18 1347.18,991.78 1348.01,1011.8 1348.91,989.77 1349.79,1009.71 1350.52,989.67 1351.24,1008.96 1351.9,996.03 1352.68,1013.05 1353.49,997.08 1354.4,1008.86 1355.22,991.19 1355.84,1010.72 1356.47,994.39 1357.04,1012.94 1357.78,994.96 1358.5,1009.84 1359.34,995.62 1360.22,1009.89 1360.77,987.7 1361.66,1010.33 1362.61,991.45 1363.59,1008.85 1364.55,995 1365.54,1009.65 1366.32,998.47 1367.08,1013.1 1368,996.06 1368.83,1010.64 1369.47,992.14 1370.08,1010.58 1370.93,994.9 1371.74,1010.47 1372.64,995.35 1373.62,1011.95 1374.28,992.11 1375.18,1011.44 1375.89,992.81 1376.69,1011.28 1377.53,995.79 1378.19,1013.1 1379.15,987.27 1379.83,1010.5 1380.66,990.47 1381.24,1008.91 1382.09,993.25 1382.81,1010.75 1383.46,991.47 1384.38,1008.85 1384.99,994.36 1385.88,1009.5 1386.62,991.07 1387.34,1011.57 1388.34,992.14 1389.22,1012.83 1389.96,990.94 1390.55,1008.89 1391.35,994.32 1392.04,1012.14 1392.62,992.87 1393.21,1009.93 1394.08,996.75 1394.7,1010.18 1395.58,994.98 1396.44,1011.18 1397.41,999.5 1398.16,1012.27 1398.84,995.13 1399.81,1012.71 1400.47,995.43 1401.19,1010.36 1401.91,994.25 1402.82,1011.04 1403.75,996.82 1404.64,1012.64 1405.32,993.02 1406.11,1011.17 1407.1,997.41 1407.67,1011.07 1408.58,990.32 1409.53,1008.9 1410.37,993.69 1411.21,1009.65 1411.86,997.87 1412.75,1010.35 1413.46,999.1 1414.23,1011.03 1415.1,997.09 1415.84,1012.38 1416.69,997.92 1417.61,1012.68 1418.59,996.21 1419.46,1012.27 1420.2,994.48 1421.09,1013.16 1421.81,992.6 1422.55,1009.87 1423.53,991.82 1424.13,1011.55 1425.03,989.06 1425.85,1012.77 1426.41,992.13 1427.06,1009.61 1427.93,995.51 1428.57,1009.82 1429.19,996.63 1429.99,1012.34 1430.76,993.13 1431.72,1010.11 1432.51,997.98 1433.16,1008.73 1434.14,996.68 1434.93,1010.92 1435.6,997.75 1436.26,1008.55 1437.02,993.18 1437.89,1011.35 1438.51,991.42 1439.18,1012.59 1439.96,994.53 1440.63,1011.01 1441.25,987.15 1442.17,1008.89 1442.84,989.16 1443.6,1012.99 1444.42,995.31 1445.32,1010.46 1446.28,989.78 1446.93,1011.05 1447.71,990.17 1448.4,1009.96 1448.99,991.14 1449.86,1010.19 1450.72,989.64 1451.48,1013.04 1452.4,988.7 1453.27,1009.62 1454.07,986.9 1454.72,1011.4 1455.4,991.29 1456.08,1010.09 1456.81,993.24 1457.45,1011.94 1458.15,995.4 1459.02,1010.06 1459.94,989.78 1460.54,1011.69 1461.41,990.67 1462.33,1011.29 1462.92,991.29 1463.53,1010.41 1464.11,996.38 1464.89,1011.54 1465.79,996.01 1466.49,1010.44 1467.04,993.31 1468.03,1012.21 1468.88,988.49 1469.59,1011.56 1470.18,993.31 1471.09,1012.38 1471.91,991.47 1472.87,1011.08 1473.58,993.58 1474.45,1013.14 1475.23,994.79 1475.87,1012.94 1476.7,988.1 1477.51,1011.78 1478.21,995.76 1478.97,1009.08 1479.96,989.9 1480.75,1011.14 1481.55,990.65 1482.55,1012.34 1483.37,989.74 1484.05,1012.72 1484.71,992.96 1485.34,1011.07 1485.93,989.23 1486.92,1012.92 1487.77,991.25 1488.65,1010.29 1489.47,987.9 1490.23,1009.17 1490.95,993.24 1491.73,1009.74 1492.54,991.66 1493.11,1011.65 1493.72,996.09 1494.48,1010.43 1495.31,994.23 1496.2,1010.78 1497.2,995.31 1497.93,1010.54 1498.74,995.8 1499.52,1010.53 1500.48,990.27 1501.44,1011.94 1502.26,994.8 1503.07,1008.83 1503.68,992.69 1504.41,1008.74 1505.27,993.25 1505.96,1010.36 1506.61,989.94 1507.6,1011.63 1508.54,992.26 1509.19,1012.01 1509.99,990.57 1510.6,1011.03 1511.58,989.07 1512.26,1010.03 1512.84,995.23 1513.57,1010.18 1514.38,991.04 1515.07,1010.84 1516.04,995.55 1516.68,1009.89 1517.65,995.02 1518.58,1010.16 1519.34,990.22 1520.34,1009.45 1521.17,990.65 1521.74,1009 1522.62,991.74 1523.56,1011.85 1524.17,994.67 1524.92,1008.87 1525.57,992.18 1526.21,1009.35 1526.87,994.89 1527.59,1011.61 1528.53,994.64 1529.22,1012.86 1530.07,992.52 1530.66,1013.12 1531.41,994.26 1531.98,1011.32 1532.66,992.31 1533.25,1009.84 1534.14,992.26 1534.93,1009.38 1535.89,989.08 1536.77,1010.31 1537.74,994.01 1538.54,1011.53 1539.25,995.11 1540.04,1010.88 1540.97,995.27 1541.94,1009.32 1542.85,991.92 1543.5,1010.57 1544.4,996.5 1545.06,1010.8 1545.7,995.25 1546.27,1011.31 1547.14,995.42 1547.77,1009.21 1548.33,995.06 1549.08,1009.74 1549.99,992.34 1550.8,1011.05 1551.7,993.76 1552.39,1008.7 1553.08,996.63 1553.75,1011.27 1554.34,997.87 1555.01,1009.25 1555.87,997.76 1556.45,1010.43 1557.16,993.3 1557.73,1010.8 1558.62,998.51 1559.38,1012 1559.94,993.13 1560.56,1010.35 1561.24,987.15 1562.24,1012.09 1563.12,992.67 1563.92,1009.64 1564.68,997.4 1565.38,1013.11 1566.2,991.17 1567.04,1008.78 1567.75,995.82 1568.56,1012.67 1569.32,993.78 1570.04,1012.17 1570.69,993.53 1571.49,1009.27 1572.13,992.66 1572.82,1010.6 1573.82,995.99 1574.46,1010.3 1575.04,996.13 1575.71,1008.59 1576.35,993.19 1577.31,1011.86 1577.98,993.86 1578.95,1010.19 1579.85,996.3 1580.41,1010.01 1581.13,991.75 1581.83,1012.12 1582.61,991.47 1583.27,1008.69 1583.89,988.41 1584.63,1011.06 1585.24,995.89 1586.11,1011.63 1586.73,992.3 1587.6,1010.4 1588.33,996.85 1589.01,1010.12 1589.65,989.84 1590.46,1012.3 1591.45,992.98 1592.41,1009.52 1593.27,995.68 1594.21,1009.6 1595.05,991.75 1595.77,1008.78 1596.5,993.5 1597.17,1009.25 1597.9,994.62 1598.75,1009.63 1599.34,993.77 1599.96,1011.24 1600.83,995.34 1601.39,1010.34 1602.1,991.84 1602.68,1010.83 1603.49,994.57 1604.15,1008.61 1604.86,997.43 1605.53,1011.64 1606.16,994.37 1607.14,1010.2 1607.95,997.54 1608.78,1011.42 1609.52,993.73 1610.44,1012.63 1611.16,987.61 1611.94,1009.95 1612.65,997.42 1613.29,1009.57 1614.15,984.67 1614.8,1010.82 1615.65,994.22 1616.45,1012.41 1617.44,992.59 1618.38,1009.97 1619.26,995.01 1620.24,1012.37 1620.86,994.38 1621.67,1010.24 1622.34,995.17 1623,1009.67 1623.7,991.08 1624.3,1008.8 1624.88,990.48 1625.49,1010.62 1626.38,993.49 1627.32,1012.59 1627.9,992.31 1628.8,1010.34 1629.68,992.78 1630.37,1010.07 1631.27,997.34 1632.07,1010.48 1632.94,996.25 1633.85,1009.09 1634.57,997.02 1635.2,1008.56 1636.02,999.31 1636.63,1011.73 1637.37,997.41 1638.34,1013.15 1638.91,997.98 1639.48,1009.84 1640.36,999.94 1641.05,1008.62 1641.85,996.37 1642.54,1012.26 1643.46,994.97 1644.29,1012.1 1645.28,995.71 1646.08,1012.26 1646.7,994.21 1647.67,1009.68 1648.44,993.82 1648.99,1011.16 1649.61,997.32 1650.26,1010.77 1650.98,987.29 1651.93,1009.95 1652.51,994.05 1653.51,1009.45 1654.45,996.05 1655.36,1010.36 1655.94,996.43 1656.77,1009.8 1657.74,998.52 1658.49,1012.42 1659.37,987.76 1659.97,1008.85 1660.68,997.57 1661.47,1008.55 1662.11,986.96 1663.02,1011.96 1663.75,997.77 1664.64,1013.13 1665.24,998.72 1666.1,1009.68 1667.06,992.14 1667.72,1010.33 1668.43,996.51 1669.15,1011.5 1669.86,993.8 1670.55,1008.94 1671.25,996.96 1672.14,1011.07 1672.99,992.93 1673.61,1010.15 1674.35,991.55 1675.08,1010.01 1675.87,997.93 1676.82,1010.01 1677.71,991.75 1678.45,1013.02 1679.1,993.64 1679.73,1009.78 1680.59,997.2 1681.22,1010.18 1682.21,991.37 1682.93,1011.53 1683.58,994.44 1684.51,1011.45 1685.29,993.88 1686.22,1011.74 1686.97,994.51 1687.7,1009.58 1688.52,993.82 1689.08,1011.45 1689.83,993.92 1690.8,1009.21 1691.56,996.66 1692.25,1011.96 1693.25,992.47 1693.85,1013.15 1694.63,991.25 1695.47,1012.91 1696.39,995.14 1697.39,1008.8 1698.33,994.54 1699.24,1010.63 1700.03,995.66 1700.71,1011.53 1701.29,993.51 1702.06,1009.64 1702.97,995.65 1703.77,1012.76 1704.68,990.77 1705.28,1008.67 1705.98,995.79 1706.58,1009.35 1707.31,995.71 1708.26,1008.84 1709.26,991.23 1710.2,1011.92 1710.84,994.33 1711.4,1010.1 1712.09,993.96 1712.91,1011.77 1713.54,990.32 1714.3,1009.11 1714.91,995.9 1715.62,1009.42 1716.61,994.02 1717.33,1009.96 1718.06,990.08 1718.8,1012.35 1719.54,992.13 1720.51,1010.13 1721.38,990.56 1722.05,1012.6 1722.73,995.25 1723.49,1012.89 1724.21,994.86 1724.96,1008.8 1725.7,992.01"/>
<line x1="1725.8" y1="845" x2="1725.8" y2="1017" stroke="#1f77b4" stroke-width="2.08" stroke-dasharray="2.08 3.43"/>
<line x1="1205" y1="1017.5" x2="1211" y2="1017.5" stroke="#000" stroke-width="1"/>
<line x1="1205" y1="1004.5" x2="1208.75" y2="1004.5" stroke="#000" stroke-width="1"/>
<line x1="1205" y1="996.5" x2="1208.75" y2="996.5" stroke="#000" stroke-width="1"/>
<line x1="1205" y1="991.5" x2="1208.75" y2="991.5" stroke="#000" stroke-width="1"/>
<line x1="1205" y1="986.5" x2="1208.75" y2="986.5" stroke="#000" stroke-width="1"/>
<line x1="1205" y1="983.5" x2="1208.75" y2="983.5" stroke="#000" stroke-width="1"/>
<line x1="1205" y1="980.5" x2="1208.75" y2="980.5" stroke="#000" stroke-width="1"/>
<line x1="1205" y1="978.5" x2="1208.75" y2="978.5" stroke="#000" stroke-width="1"/>
<line x1="1205" y1="975.5" x2="1208.75" y2="975.5" stroke="#000" stroke-width="1"/>
<line x1="1205" y1="974.5" x2="1211" y2="974.5" stroke="#000" stroke-width="1"/>
<line x1="1205" y1="961.5" x2="1208.75" y2="961.5" stroke="#000" stroke-width="1"/>
<line x1="1205" y1="953.5" x2="1208.75" y2="953.5" stroke="#000" stroke-width="1"/>
<line x1="1205" y1="948.5" x2="1208.75" y2="948.5" stroke="#000" stroke-width="1"/>
<line x1="1205" y1="943.5" x2="1208.75" y2="943.5" stroke="#000" stroke-width="1"/>
<line x1="1205" y1="940.5" x2="1208.75" y2="940.5" stroke="#000" stroke-width="1"/>
<line x1="1205" y1="937.5" x2="1208.75" y2="937.5" stroke="#000" stroke-width="1"/>
<line x1="1205" y1="935.5" x2="1208.75" y2="935.5" stroke="#000" stroke-width="1"/>
<line x1="1205" y1="932.5" x2="1208.75" y2="932.5" stroke="#000" stroke-width="1"/>
<line x1="1205" y1="931.5" x2="1211" y2="931.5" stroke="#000" stroke-width="1"/>
<line x1="1205" y1="918.5" x2="1208.75" y2="918.5" stroke="#000" stroke-width="1"/>
<line x1="1205" y1="910.5" x2="1208.75" y2="910.5" stroke="#000" stroke-width="1"/>
<line x1="1205" y1="905.5" x2="1208.75" y2="905.5" stroke="#000" stroke-width="1"/>
<line x1="1205" y1="900.5" x2="1208.75" y2="900.5" stroke="#000" stroke-width="1"/>
<line x1="1205" y1="897.5" x2="1208.75" y2="897.5" stroke="#000" stroke-width="1"/>
<line x1="1205" y1="894.5" x2="1208.75" y2="894.5" stroke="#000" stroke-width="1"/>
<line x1="1205" y1="892.5" x2="1208.75" y2="892.5" stroke="#000" stroke-width="1"/>
<line x1="1205" y1="889.5" x2="1208.75" y2="889.5" stroke="#000" stroke-width="1"/>
<line x1="1205" y1="888.5" x2="1211" y2="888.5" stroke="#000" stroke-width="1"/>
<line x1="1205" y1="875.5" x2="1208.75" y2="875.5" stroke="#000" stroke-width="1"/>
<line x1="1205" y1="867.5" x2="1208.75" y2="867.5" stroke="#000" stroke-width="1"/>
<line x1="1205" y1="862.5" x2="1208.75" y2="862.5" stroke="#000" stroke-width="1"/>
<line x1="1205" y1="857.5" x2="1208.75" y2="857.5" stroke="#000" stroke-width="1"/>
<line x1="1205" y1="854.5" x2="1208.75" y2="854.5" stroke="#000" stroke-width="1"/>
<line x1="1205" y1="851.5" x2="1208.75" y2="851.5" stroke="#000" stroke-width="1"/>
<line x1="1205" y1="849.5" x2="1208.75" y2="849.5" stroke="#000" stroke-width="1"/>
<line x1="1205" y1="846.5" x2="1208.75" y2="846.5" stroke="#000" stroke-width="1"/>
<line x1="1205" y1="845.5" x2="1211" y2="845.5" stroke="#000" stroke-width="1"/>
<line x1="1800" y1="1017.5" x2="1795.3" y2="1017.5" stroke="#000" stroke-width="1"/>
<line x1="1800" y1="1004.5" x2="1797.2" y2="1004.5" stroke="#000" stroke-width="1"/>
<line x1="1800" y1="996.5" x2="1797.2" y2="996.5" stroke="#000" stroke-width="1"/>
<line x1="1800" y1="991.5" x2="1797.2" y2="991.5" stroke="#000" stroke-width="1"/>
<line x1="1800" y1="986.5" x2="1797.2" y2="986.5" stroke="#000" stroke-width="1"/>
<line x1="1800" y1="983.5" x2="1797.2" y2="983.5" stroke="#000" stroke-width="1"/>
<line x1="1800" y1="980.5" x2="1797.2" y2="980.5" stroke="#000" stroke-width="1"/>
<line x1="1800" y1="978.5" x2="1797.2" y2="978.5" stroke="#000" stroke-width="1"/>
<line x1="1800" y1="975.5" x2="1797.2" y2="975.5" stroke="#000" stroke-width="1"/>
<line x1="1800" y1="974.5" x2="1795.3" y2="974.5" stroke="#000" stroke-width="1"/>
<line x1="1800" y1="961.5" x2="1797.2" y2="961.5" stroke="#000" stroke-width="1"/>
<line x1="1800" y1="953.5" x2="1797.2" y2="953.5" stroke="#000" stroke-width="1"/>
<line x1="1800" y1="948.5" x2="1797.2" y2="948.5" stroke="#000" stroke-width="1"/>
<line x1="1800" y1="943.5" x2="1797.2" y2="943.5" stroke="#000" stroke-width="1"/>
<line x1="1800" y1="940.5" x2="1797.2" y2="940.5" stroke="#000" stroke-width="1"/>
<line x1="1800" y1="937.5" x2="1797.2" y2="937.5" stroke="#000" stroke-width="1"/>
<line x1="1800" y1="935.5" x2="1797.2" y2="935.5" stroke="#000" stroke-width="1"/>
<line x1="1800" y1="932.5" x2="1797.2" y2="932.5" stroke="#000" stroke-width="1"/>
<line x1="1800" y1="931.5" x2="1795.3" y2="931.5" stroke="#000" stroke-width="1"/>
<line x1="1800" y1="918.5" x2="1797.2" y2="918.5" stroke="#000" stroke-width="1"/>
<line x1="1800" y1="910.5" x2="1797.2" y2="910.5" stroke="#000" stroke-width="1"/>
<line x1="1800" y1="905.5" x2="1797.2" y2="905.5" stroke="#000" stroke-width="1"/>
<line x1="1800" y1="900.5" x2="1797.2" y2="900.5" stroke="#000" stroke-width="1"/>
<line x1="1800" y1="897.5" x2="1797.2" y2="897.5" stroke="#000" stroke-width="1"/>
<line x1="1800" y1="894.5" x2="1797.2" y2="894.5" stroke="#000" stroke-width="1"/>
<line x1="1800" y1="892.5" x2="1797.2" y2="892.5" stroke="#000" stroke-width="1"/>
<line x1="1800" y1="889.5" x2="1797.2" y2="889.5" stroke="#000" stroke-width="1"/>
<line x1="1800" y1="888.5" x2="1795.3" y2="888.5" stroke="#000" stroke-width="1"/>
<line x1="1800" y1="875.5" x2="1797.2" y2="875.5" stroke="#000" stroke-width="1"/>
<line x1="1800" y1="867.5" x2="1797.2" y2="867.5" stroke="#000" stroke-width="1"/>
<line x1="1800" y1="862.5" x2="1797.2" y2="862.5" stroke="#000" stroke-width="1"/>
<line x1="1800" y1="857.5" x2="1797.2" y2="857.5" stroke="#000" stroke-width="1"/>
<line x1="1800" y1="854.5" x2="1797.2" y2="854.5" stroke="#000" stroke-width="1"/>
<line x1="1800" y1="851.5" x2="1797.2" y2="851.5" stroke="#000" stroke-width="1"/>
<line x1="1800" y1="849.5" x2="1797.2" y2="849.5" stroke="#000" stroke-width="1"/>
<line x1="1800" y1="846.5" x2="1797.2" y2="846.5" stroke="#000" stroke-width="1"/>
<line x1="1800" y1="845.5" x2="1795.3" y2="845.5" stroke="#000" stroke-width="1"/>
<text x="1200.6" y="1024.6" font-size="20" text-anchor="end" fill="#000">10<tspan font-size="14" dy="-7.26">−1</tspan></text>
<text x="1200.6" y="981.6" font-size="20" text-anchor="end" fill="#000">10<tspan font-size="14" dy="-7.26">0</tspan></text>
<text x="1200.6" y="938.6" font-size="20" text-anchor="end" fill="#000">10<tspan font-size="14" dy="-7.26">1</tspan></text>
<text x="1200.6" y="895.6" font-size="20" text-anchor="end" fill="#000">10<tspan font-size="14" dy="-7.26">2</tspan></text>
<text x="1200.6" y="852.6" font-size="20" text-anchor="end" fill="#000">10<tspan font-size="14" dy="-7.26">3</tspan></text>
<line x1="1245.5" y1="1017" x2="1245.5" y2="1012" stroke="#000" stroke-width="1"/>
<text x="1244.3" y="1037.4" font-size="20" text-anchor="middle" fill="#000">18</text>
<line x1="1319.5" y1="1017" x2="1319.5" y2="1012" stroke="#000" stroke-width="1"/>
<text x="1318.67" y="1037.4" font-size="20" text-anchor="middle" fill="#000">19</text>
<line x1="1393.5" y1="1017" x2="1393.5" y2="1012" stroke="#000" stroke-width="1"/>
<text x="1393.05" y="1037.4" font-size="20" text-anchor="middle" fill="#000">20</text>
<line x1="1468.5" y1="1017" x2="1468.5" y2="1012" stroke="#000" stroke-width="1"/>
<text x="1467.42" y="1037.4" font-size="20" text-anchor="middle" fill="#000">21</text>
<line x1="1542.5" y1="1017" x2="1542.5" y2="1012" stroke="#000" stroke-width="1"/>
<text x="1541.8" y="1037.4" font-size="20" text-anchor="middle" fill="#000">22</text>
<line x1="1616.5" y1="1017" x2="1616.5" y2="1012" stroke="#000" stroke-width="1"/>
<text x="1616.17" y="1037.4" font-size="20" text-anchor="middle" fill="#000">23</text>
<line x1="1691.5" y1="1017" x2="1691.5" y2="1012" stroke="#000" stroke-width="1"/>
<text x="1690.55" y="1037.4" font-size="20" text-anchor="middle" fill="#000">24</text>
<line x1="1765.5" y1="1017" x2="1765.5" y2="1012" stroke="#000" stroke-width="1"/>
<text x="1764.92" y="1037.4" font-size="20" text-anchor="middle" fill="#000">25</text>
<rect x="1205" y="845" width="595" height="172" fill="none" stroke="#000" stroke-width="2"/>
<text transform="translate(1106.8,933) rotate(-90)" font-size="24.15" text-anchor="middle" fill="#000">&gt;10 MeV Proton Flux</text>
<text transform="translate(1138.4,931.2) rotate(-90)" font-size="24.6" text-anchor="middle" fill="#000">( cm<tspan font-size="17.22" dy="-8.93">2</tspan><tspan dy="8.93"> s</tspan><tspan font-size="17.22" dy="-8.93">−1</tspan><tspan dy="8.93"> sr</tspan><tspan font-size="17.22" dy="-8.93">−1</tspan><tspan dy="8.93"> )</tspan></text>
<text x="1502.7" y="1066" font-size="24.28" text-anchor="middle" fill="#000">April 2019 (UT)</text>
</svg></body></html>
